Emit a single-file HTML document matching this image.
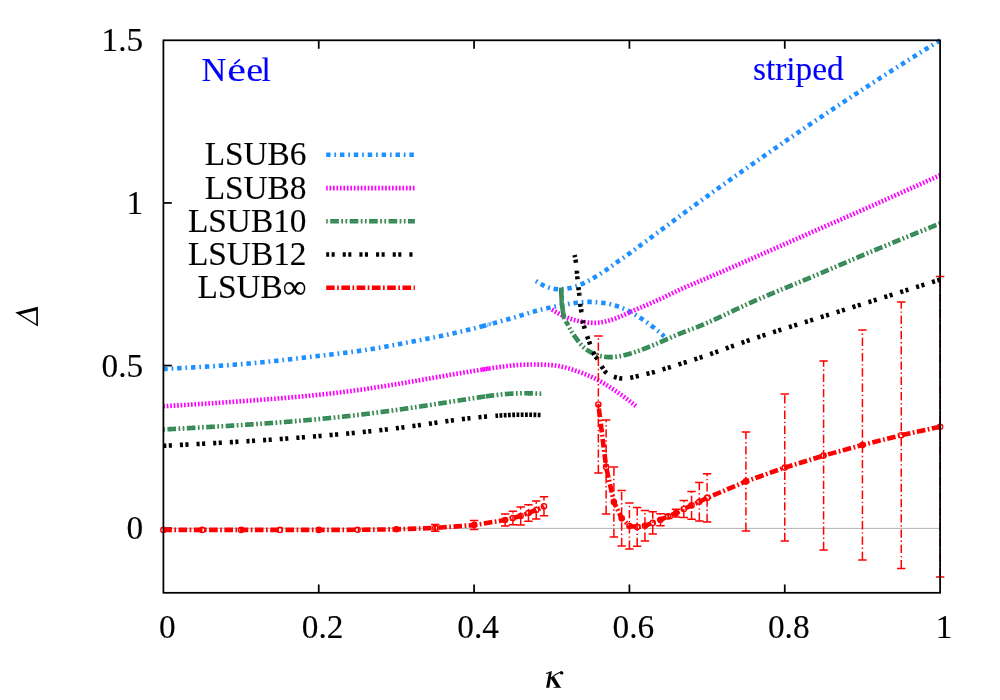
<!DOCTYPE html>
<html><head><meta charset="utf-8"><title>plot</title>
<style>
html,body{margin:0;padding:0;background:#fff;}
body{width:1000px;height:700px;overflow:hidden;font-family:"Liberation Serif",serif;}
svg{display:block;will-change:transform;}
.t{font-family:"Liberation Serif",serif;font-size:33.33px;stroke:currentColor;stroke-width:0.12px;}
.b{fill:#0000ff;color:#0000ff;}
</style></head><body>
<svg width="1000" height="700" viewBox="0 0 1000 700">
<rect width="1000" height="700" fill="#fff"/>
<line x1="163.4" y1="528.4" x2="940.1" y2="528.4" stroke="#a0a0a0" stroke-width="0.8"/>
<path d="M318.74 592.80 v-8.4 M318.74 40.30 v8.4" stroke="#000" stroke-width="1.75"/>
<path d="M474.08 592.80 v-8.4 M474.08 40.30 v8.4" stroke="#000" stroke-width="1.75"/>
<path d="M629.42 592.80 v-8.4 M629.42 40.30 v8.4" stroke="#000" stroke-width="1.75"/>
<path d="M784.76 592.80 v-8.4 M784.76 40.30 v8.4" stroke="#000" stroke-width="1.75"/>
<path d="M163.40 528.20 h8.4" stroke="#000" stroke-width="1.75"/>
<path d="M163.40 365.57 h8.4" stroke="#000" stroke-width="1.75"/>
<path d="M163.40 202.93 h8.4" stroke="#000" stroke-width="1.75"/>
<path d="M163.40 369.00 L163.83 368.98 L164.26 368.95 L164.69 368.93 L165.12 368.91 L165.55 368.89 L165.98 368.86 L166.41 368.84 L166.85 368.82 L167.28 368.80 L167.71 368.77 L168.14 368.75 L168.57 368.73 L169.00 368.71 L169.43 368.68 L169.86 368.66 L170.29 368.64 L170.72 368.61 L171.15 368.59 L171.58 368.57 L172.01 368.55 L172.44 368.52 L172.88 368.50 L173.31 368.48 L173.74 368.45 L174.17 368.43 L174.60 368.41 L175.03 368.39 L175.46 368.36 L175.89 368.34 L176.32 368.32 L176.75 368.29 L177.18 368.27 L177.61 368.25 L178.04 368.22 L178.47 368.20 L178.90 368.18 L179.34 368.15 L179.77 368.13 L180.20 368.11 L180.63 368.09 L181.06 368.06 L181.49 368.04 L181.92 368.02 L182.35 367.99 L182.78 367.97 L183.21 367.95 L183.64 367.92 L184.07 367.90 L184.50 367.87 L184.93 367.85 L185.36 367.83 L185.79 367.80 L186.23 367.78 L186.66 367.76 L187.09 367.73 L187.52 367.71 L187.95 367.68 L188.38 367.66 L188.81 367.64 L189.24 367.61 L189.67 367.59 L190.10 367.56 L190.53 367.54 L190.96 367.52 L191.39 367.49 L191.82 367.47 L192.25 367.44 L192.68 367.42 L193.11 367.39 L193.54 367.37 L193.98 367.35 L194.41 367.32 L194.84 367.30 L195.27 367.27 L195.70 367.25 L196.13 367.22 L196.56 367.20 L196.99 367.17 L197.42 367.15 L197.85 367.12 L198.28 367.10 L198.71 367.07 L199.14 367.05 L199.57 367.02 L200.00 367.00 L200.43 366.97 L200.86 366.95 L201.29 366.92 L201.72 366.89 L202.15 366.87 L202.58 366.84 L203.02 366.82 L203.45 366.79 L203.88 366.77 L204.31 366.74 L204.74 366.71 L205.17 366.69 L205.60 366.66 L206.03 366.64 L206.46 366.61 L206.89 366.58 L207.32 366.56 L207.75 366.53 L208.18 366.50 L208.61 366.48 L209.04 366.45 L209.47 366.42 L209.90 366.40 L210.33 366.37 L210.76 366.34 L211.19 366.31 L211.62 366.29 L212.05 366.26 L212.48 366.23 L212.91 366.20 L213.34 366.18 L213.77 366.15 L214.20 366.12 L214.63 366.09 L215.06 366.06 L215.49 366.04 L215.92 366.01 L216.35 365.98 L216.78 365.95 L217.22 365.92 L217.65 365.89 L218.08 365.87 L218.51 365.84 L218.94 365.81 L219.37 365.78 L219.80 365.75 L220.23 365.72 L220.66 365.69 L221.09 365.66 L221.52 365.63 L221.95 365.60 L222.38 365.57 L222.81 365.54 L223.24 365.51 L223.67 365.48 L224.10 365.45 L224.53 365.42 L224.96 365.39 L225.39 365.36 L225.82 365.33 L226.25 365.30 L226.68 365.27 L227.11 365.24 L227.54 365.21 L227.97 365.18 L228.40 365.15 L228.83 365.12 L229.26 365.09 L229.69 365.05 L230.12 365.02 L230.55 364.99 L230.98 364.96 L231.41 364.93 L231.84 364.90 L232.27 364.86 L232.70 364.83 L233.12 364.80 L233.55 364.77 L233.98 364.73 L234.41 364.70 L234.84 364.67 L235.27 364.63 L235.70 364.60 L236.13 364.57 L236.56 364.54 L236.99 364.50 L237.42 364.47 L237.85 364.43 L238.28 364.40 L238.71 364.37 L239.14 364.33 L239.57 364.30 L240.00 364.26 L240.43 364.23 L240.86 364.19 L241.29 364.16 L241.72 364.12 L242.15 364.09 L242.58 364.05 L243.01 364.02 L243.44 363.98 L243.87 363.95 L244.30 363.91 L244.73 363.88 L245.15 363.84 L245.58 363.80 L246.01 363.77 L246.44 363.73 L246.87 363.69 L247.30 363.66 L247.73 363.62 L248.16 363.58 L248.59 363.55 L249.02 363.51 L249.45 363.47 L249.88 363.43 L250.31 363.40 L250.74 363.36 L251.17 363.32 L251.60 363.28 L252.02 363.24 L252.45 363.20 L252.88 363.17 L253.31 363.13 L253.74 363.09 L254.17 363.05 L254.60 363.01 L255.03 362.97 L255.46 362.93 L255.89 362.89 L256.32 362.85 L256.75 362.81 L257.17 362.77 L257.60 362.73 L258.03 362.69 L258.46 362.65 L258.89 362.61 L259.32 362.57 L259.75 362.52 L260.18 362.48 L260.61 362.44 L261.04 362.40 L261.46 362.36 L261.89 362.32 L262.32 362.27 L262.75 362.23 L263.18 362.19 L263.61 362.15 L264.04 362.10 L264.47 362.06 L264.90 362.02 L265.32 361.97 L265.75 361.93 L266.18 361.89 L266.61 361.84 L267.04 361.80 L267.47 361.75 L267.90 361.71 L268.33 361.66 L268.75 361.62 L269.18 361.58 L269.61 361.53 L270.04 361.49 L270.47 361.44 L270.90 361.40 L271.33 361.35 L271.76 361.31 L272.18 361.26 L272.61 361.21 L273.04 361.17 L273.47 361.12 L273.90 361.08 L274.33 361.03 L274.76 360.98 L275.18 360.94 L275.61 360.89 L276.04 360.84 L276.47 360.80 L276.90 360.75 L277.33 360.70 L277.76 360.66 L278.18 360.61 L278.61 360.56 L279.04 360.51 L279.47 360.47 L279.90 360.42 L280.33 360.37 L280.75 360.32 L281.18 360.28 L281.61 360.23 L282.04 360.18 L282.47 360.13 L282.90 360.08 L283.32 360.04 L283.75 359.99 L284.18 359.94 L284.61 359.89 L285.04 359.84 L285.47 359.79 L285.89 359.75 L286.32 359.70 L286.75 359.65 L287.18 359.60 L287.61 359.55 L288.04 359.50 L288.46 359.45 L288.89 359.40 L289.32 359.35 L289.75 359.30 L290.18 359.25 L290.61 359.20 L291.03 359.16 L291.46 359.11 L291.89 359.06 L292.32 359.01 L292.75 358.96 L293.18 358.91 L293.60 358.86 L294.03 358.81 L294.46 358.76 L294.89 358.71 L295.32 358.66 L295.75 358.61 L296.17 358.56 L296.60 358.51 L297.03 358.46 L297.46 358.41 L297.89 358.36 L298.31 358.31 L298.74 358.26 L299.17 358.21 L299.60 358.16 L300.03 358.11 L300.46 358.06 L300.88 358.00 L301.31 357.95 L301.74 357.90 L302.17 357.85 L302.60 357.80 L303.03 357.75 L303.45 357.70 L303.88 357.65 L304.31 357.60 L304.74 357.55 L305.17 357.50 L305.59 357.45 L306.02 357.40 L306.45 357.35 L306.88 357.30 L307.31 357.25 L307.74 357.20 L308.16 357.15 L308.59 357.10 L309.02 357.05 L309.45 357.00 L309.88 356.95 L310.30 356.89 L310.73 356.84 L311.16 356.79 L311.59 356.74 L312.02 356.69 L312.45 356.64 L312.87 356.59 L313.30 356.54 L313.73 356.49 L314.16 356.44 L314.59 356.39 L315.02 356.34 L315.44 356.29 L315.87 356.24 L316.30 356.19 L316.73 356.14 L317.16 356.09 L317.58 356.04 L318.01 355.99 L318.44 355.94 L318.87 355.89 L319.30 355.84 L319.73 355.79 L320.15 355.74 L320.58 355.69 L321.01 355.64 L321.44 355.59 L321.87 355.54 L322.30 355.49 L322.72 355.45 L323.15 355.40 L323.58 355.35 L324.01 355.30 L324.44 355.25 L324.87 355.20 L325.29 355.15 L325.72 355.10 L326.15 355.05 L326.58 355.00 L327.01 354.95 L327.44 354.90 L327.86 354.85 L328.29 354.80 L328.72 354.75 L329.15 354.70 L329.58 354.65 L330.01 354.60 L330.43 354.55 L330.86 354.50 L331.29 354.45 L331.72 354.40 L332.15 354.35 L332.58 354.30 L333.00 354.25 L333.43 354.20 L333.86 354.15 L334.29 354.10 L334.72 354.05 L335.14 354.00 L335.57 353.95 L336.00 353.90 L336.43 353.85 L336.86 353.80 L337.29 353.75 L337.71 353.70 L338.14 353.65 L338.57 353.59 L339.00 353.54 L339.43 353.49 L339.85 353.44 L340.28 353.39 L340.71 353.34 L341.14 353.28 L341.57 353.23 L341.99 353.18 L342.42 353.13 L342.85 353.07 L343.28 353.02 L343.70 352.97 L344.13 352.92 L344.56 352.86 L344.99 352.81 L345.42 352.75 L345.84 352.70 L346.27 352.65 L346.70 352.59 L347.13 352.54 L347.55 352.48 L347.98 352.43 L348.41 352.37 L348.84 352.32 L349.26 352.26 L349.69 352.21 L350.12 352.15 L350.55 352.10 L350.97 352.04 L351.40 351.99 L351.83 351.93 L352.26 351.87 L352.68 351.82 L353.11 351.76 L353.54 351.70 L353.97 351.64 L354.39 351.58 L354.82 351.53 L355.25 351.47 L355.67 351.41 L356.10 351.35 L356.53 351.29 L356.95 351.23 L357.38 351.17 L357.81 351.11 L358.24 351.05 L358.66 350.99 L359.09 350.93 L359.52 350.87 L359.94 350.81 L360.37 350.75 L360.80 350.68 L361.22 350.62 L361.65 350.56 L362.07 350.50 L362.50 350.43 L362.93 350.37 L363.35 350.31 L363.78 350.24 L364.21 350.18 L364.63 350.11 L365.06 350.05 L365.49 349.98 L365.91 349.92 L366.34 349.85 L366.76 349.79 L367.19 349.72 L367.62 349.66 L368.04 349.59 L368.47 349.52 L368.89 349.45 L369.32 349.39 L369.74 349.32 L370.17 349.25 L370.60 349.18 L371.02 349.12 L371.45 349.05 L371.87 348.98 L372.30 348.91 L372.72 348.84 L373.15 348.77 L373.57 348.70 L374.00 348.63 L374.43 348.56 L374.85 348.49 L375.28 348.42 L375.70 348.35 L376.13 348.27 L376.55 348.20 L376.98 348.13 L377.40 348.06 L377.83 347.99 L378.25 347.91 L378.68 347.84 L379.10 347.77 L379.53 347.70 L379.95 347.62 L380.38 347.55 L380.80 347.47 L381.23 347.40 L381.65 347.33 L382.08 347.25 L382.50 347.18 L382.92 347.10 L383.35 347.03 L383.77 346.95 L384.20 346.88 L384.62 346.80 L385.05 346.73 L385.47 346.65 L385.90 346.57 L386.32 346.50 L386.74 346.42 L387.17 346.34 L387.59 346.27 L388.02 346.19 L388.44 346.11 L388.86 346.03 L389.29 345.96 L389.71 345.88 L390.14 345.80 L390.56 345.72 L390.98 345.64 L391.41 345.56 L391.83 345.49 L392.26 345.41 L392.68 345.33 L393.10 345.25 L393.53 345.17 L393.95 345.09 L394.38 345.01 L394.80 344.93 L395.22 344.85 L395.65 344.77 L396.07 344.69 L396.49 344.61 L396.92 344.53 L397.34 344.45 L397.76 344.37 L398.19 344.29 L398.61 344.21 L399.03 344.13 L399.46 344.05 L399.88 343.97 L400.31 343.89 L400.73 343.81 L401.15 343.73 L401.58 343.64 L402.00 343.56 L402.42 343.48 L402.85 343.40 L403.27 343.32 L403.69 343.24 L404.12 343.16 L404.54 343.08 L404.96 343.00 L405.39 342.91 L405.81 342.83 L406.23 342.75 L406.66 342.67 L407.08 342.59 L407.50 342.51 L407.93 342.43 L408.35 342.34 L408.77 342.26 L409.20 342.18 L409.62 342.10 L410.04 342.02 L410.47 341.94 L410.89 341.86 L411.31 341.78 L411.74 341.69 L412.16 341.61 L412.58 341.53 L413.01 341.45 L413.43 341.37 L413.85 341.29 L414.28 341.21 L414.70 341.13 L415.12 341.05 L415.55 340.97 L415.97 340.89 L416.39 340.81 L416.82 340.73 L417.24 340.64 L417.67 340.56 L418.09 340.48 L418.51 340.40 L418.94 340.32 L419.36 340.24 L419.78 340.16 L420.21 340.08 L420.63 340.00 L421.05 339.92 L421.48 339.84 L421.90 339.76 L422.32 339.68 L422.75 339.60 L423.17 339.52 L423.59 339.44 L424.02 339.36 L424.44 339.28 L424.86 339.19 L425.29 339.11 L425.71 339.03 L426.14 338.95 L426.56 338.87 L426.98 338.79 L427.41 338.71 L427.83 338.63 L428.25 338.54 L428.68 338.46 L429.10 338.38 L429.52 338.30 L429.95 338.22 L430.37 338.13 L430.79 338.05 L431.21 337.97 L431.64 337.89 L432.06 337.80 L432.48 337.72 L432.91 337.64 L433.33 337.55 L433.75 337.47 L434.18 337.39 L434.60 337.30 L435.02 337.22 L435.44 337.14 L435.87 337.05 L436.29 336.97 L436.71 336.88 L437.13 336.80 L437.56 336.71 L437.98 336.63 L438.40 336.54 L438.82 336.45 L439.25 336.37 L439.67 336.28 L440.09 336.19 L440.51 336.11 L440.94 336.02 L441.36 335.93 L441.78 335.85 L442.20 335.76 L442.62 335.67 L443.05 335.58 L443.47 335.49 L443.89 335.40 L444.31 335.31 L444.73 335.22 L445.16 335.13 L445.58 335.04 L446.00 334.95 L446.42 334.86 L446.84 334.77 L447.26 334.68 L447.68 334.59 L448.10 334.50 L448.53 334.41 L448.95 334.31 L449.37 334.22 L449.79 334.13 L450.21 334.04 L450.63 333.94 L451.05 333.85 L451.47 333.75 L451.89 333.66 L452.31 333.57 L452.73 333.47 L453.16 333.38 L453.58 333.28 L454.00 333.19 L454.42 333.09 L454.84 333.00 L455.26 332.90 L455.68 332.80 L456.10 332.71 L456.52 332.61 L456.94 332.51 L457.36 332.42 L457.78 332.32 L458.20 332.22 L458.62 332.12 L459.04 332.03 L459.46 331.93 L459.88 331.83 L460.30 331.73 L460.72 331.63 L461.14 331.53 L461.56 331.43 L461.98 331.33 L462.39 331.23 L462.81 331.13 L463.23 331.03 L463.65 330.93 L464.07 330.83 L464.49 330.73 L464.91 330.63 L465.33 330.53 L465.75 330.43 L466.17 330.33 L466.59 330.22 L467.00 330.12 L467.42 330.02 L467.84 329.92 L468.26 329.81 L468.68 329.71 L469.10 329.61 L469.52 329.50 L469.93 329.40 L470.35 329.30 L470.77 329.19 L471.19 329.09 L471.61 328.99 L472.03 328.88 L472.44 328.78 L472.86 328.67 L473.28 328.57 L473.70 328.46 L474.12 328.36 L474.54 328.25 L474.95 328.14 L475.37 328.04 L475.79 327.93 L476.21 327.83 L476.62 327.72 L477.04 327.61 L477.46 327.51 L477.88 327.40 L478.30 327.29 L478.71 327.19 L479.13 327.08 L479.55 326.97 L479.97 326.86 L480.38 326.76 L480.80 326.65 L481.22 326.54 L481.63 326.43 L482.05 326.32 L482.47 326.21 L482.89 326.11 L483.30 326.00 L483.72 325.89 L484.14 325.78 L484.55 325.67 L484.97 325.56 L485.39 325.45 L485.81 325.34" fill="none" stroke="#1e90ff" stroke-width="4.60" stroke-dasharray="4.467 3.867 1.689 3.867" stroke-dashoffset="0.15"/>
<path d="M482.89 326.11 L483.30 326.00 L483.72 325.89 L484.14 325.78 L484.55 325.67 L484.97 325.56 L485.39 325.45 L485.81 325.34 L486.22 325.23" fill="none" stroke="#1e90ff" stroke-width="4.60"/>
<path d="M488.39 322.59 L487.39 326.79" stroke="#1e90ff" stroke-width="0.8"/>
<path d="M490.06 322.15 L489.06 326.35" stroke="#1e90ff" stroke-width="0.8"/>
<path d="M491.31 321.81 L490.31 326.01" stroke="#1e90ff" stroke-width="0.8"/>
<path d="M492.89 323.45 L493.30 323.34 L493.72 323.23 L494.14 323.11 L494.55 323.00 L494.97 322.89 L495.38 322.78 L495.80 322.66 L496.22 322.55 L496.63 322.44 L497.05 322.32 L497.46 322.21 L497.88 322.09 L498.30 321.98 L498.71 321.87 L499.13 321.75 L499.54 321.64 L499.96 321.52 L500.37 321.41 L500.79 321.29 L501.20 321.18 L501.62 321.06 L502.03 320.94 L502.45 320.83 L502.86 320.71 L503.28 320.59 L503.69 320.48 L504.11 320.36 L504.52 320.24 L504.94 320.13 L505.35 320.01 L505.77 319.89 L506.18 319.77 L506.60 319.66 L507.01 319.54 L507.43 319.42 L507.84 319.30 L508.26 319.18 L508.67 319.06 L509.08 318.94 L509.50 318.82 L509.91 318.70 L510.33 318.58 L510.74 318.46 L511.16 318.34 L511.57 318.22 L511.98 318.10 L512.40 317.98 L512.81 317.86 L513.22 317.74 L513.64 317.61 L514.05 317.49 L514.46 317.37 L514.88 317.25 L515.29 317.12 L515.70 317.00 L516.12 316.88 L516.53 316.75 L516.94 316.63 L517.36 316.50 L517.77 316.38 L518.18 316.25 L518.59 316.13 L519.01 316.00 L519.42 315.88 L519.83 315.75 L520.24 315.63 L520.66 315.50 L521.07 315.37 L521.48 315.25 L521.89 315.12 L522.30 314.99 L522.72 314.86 L523.13 314.74 L523.54 314.61 L523.95 314.48 L524.36 314.35 L524.78 314.23 L525.19 314.10 L525.60 313.97 L526.01 313.85 L526.42 313.72 L526.84 313.59 L527.25 313.47 L527.66 313.34 L528.07 313.22 L528.49 313.09 L528.90 312.97 L529.31 312.84 L529.72 312.72 L530.14 312.60 L530.55 312.48 L530.96 312.35 L531.38 312.23 L531.79 312.11 L532.21 311.99 L532.62 311.87 L533.03 311.76 L533.45 311.64 L533.86 311.52 L534.28 311.41 L534.70 311.29 L535.11 311.18 L535.53 311.06 L535.94 310.95 L536.36 310.84 L536.78 310.73 L537.19 310.62 L537.61 310.51 L538.03 310.40 L538.44 310.30 L538.86 310.19 L539.28 310.08 L539.70 309.98 L540.12 309.87 L540.54 309.77 L540.95 309.67 L541.37 309.57 L541.79 309.46 L542.21 309.36 L542.63 309.26 L543.05 309.16 L543.47 309.06 L543.89 308.97 L544.31 308.87 L544.73 308.77 L545.15 308.67 L545.57 308.58 L545.99 308.48 L546.41 308.39 L546.83 308.29 L547.25 308.20 L547.67 308.10 L548.10 308.01 L548.52 307.92 L548.94 307.83 L549.36 307.73 L549.78 307.64 L550.20 307.55 L550.62 307.46 L551.04 307.37 L551.47 307.28 L551.89 307.19 L552.31 307.10 L552.73 307.01 L553.15 306.93 L553.58 306.84 L554.00 306.75 L554.42 306.66 L554.84 306.58 L555.27 306.49 L555.69 306.40 L556.11 306.32 L556.53 306.23 L556.96 306.15 L557.38 306.07 L557.80 305.98 L558.22 305.90 L558.65 305.81 L559.07 305.73 L559.49 305.65 L559.92 305.57 L560.34 305.49 L560.76 305.40 L561.19 305.32 L561.61 305.24 L562.03 305.16 L562.46 305.08 L562.88 305.00 L563.30 304.92 L563.73 304.85 L564.15 304.77 L564.58 304.69 L565.00 304.61 L565.42 304.54 L565.85 304.46 L566.27 304.38 L566.70 304.31 L567.12 304.23 L567.55 304.16 L567.97 304.09 L568.40 304.01 L568.82 303.94 L569.25 303.87 L569.67 303.80 L570.10 303.73 L570.52 303.66 L570.95 303.59 L571.37 303.53 L571.80 303.46 L572.23 303.39 L572.65 303.33 L573.08 303.27 L573.51 303.20 L573.93 303.14 L574.36 303.08 L574.79 303.02 L575.22 302.96 L575.64 302.91 L576.07 302.85 L576.50 302.80 L576.93 302.74 L577.36 302.69 L577.78 302.64 L578.21 302.59 L578.64 302.54 L579.07 302.50 L579.50 302.45 L579.93 302.41 L580.36 302.37 L580.79 302.33 L581.22 302.29 L581.65 302.25 L582.08 302.21 L582.51 302.18 L582.94 302.15 L583.37 302.12 L583.80 302.09 L584.23 302.06 L584.66 302.04 L585.09 302.02 L585.52 301.99 L585.95 301.98 L586.38 301.96 L586.82 301.94 L587.25 301.93 L587.68 301.92 L588.11 301.91 L588.54 301.91 L588.97 301.90 L589.40 301.90 L589.83 301.90 L590.26 301.90 L590.69 301.91 L591.12 301.92 L591.56 301.93 L591.99 301.94 L592.42 301.95 L592.85 301.97 L593.28 301.98 L593.71 302.00 L594.14 302.03 L594.57 302.05 L595.00 302.08 L595.43 302.11 L595.86 302.14 L596.29 302.17 L596.72 302.20 L597.15 302.24 L597.58 302.28 L598.01 302.32 L598.44 302.36 L598.87 302.40 L599.30 302.45 L599.73 302.50 L600.16 302.55 L600.59 302.60 L601.02 302.65 L601.44 302.70 L601.87 302.76 L602.30 302.82 L602.73 302.88 L603.16 302.94 L603.59 303.00 L604.01 303.06 L604.44 303.13 L604.87 303.20 L605.29 303.27 L605.72 303.34 L606.15 303.41 L606.57 303.49 L607.00 303.56 L607.42 303.64 L607.85 303.72 L608.27 303.81 L608.69 303.89 L609.12 303.98 L609.54 304.07 L609.96 304.16 L610.38 304.25 L610.80 304.35 L611.22 304.45 L611.64 304.55 L612.06 304.65 L612.48 304.75 L612.90 304.86 L613.32 304.97 L613.73 305.08 L614.15 305.20 L614.56 305.32 L614.98 305.44 L615.39 305.56 L615.80 305.68 L616.21 305.81 L616.62 305.94 L617.03 306.08 L617.44 306.21 L617.85 306.35 L618.26 306.50 L618.66 306.64 L619.07 306.79 L619.47 306.94 L619.87 307.09 L620.28 307.25 L620.68 307.40 L621.08 307.56 L621.48 307.73 L621.88 307.89 L622.28 308.06 L622.67 308.23 L623.07 308.40 L623.46 308.57 L623.86 308.75 L624.25 308.92 L624.65 309.10 L625.04 309.29 L625.43 309.47 L625.82 309.65 L626.21 309.84 L626.60 310.03 L626.98 310.22 L627.37 310.41 L627.76 310.61 L628.14 310.80 L628.53 311.00 L628.91 311.20 L629.29 311.40 L629.67 311.60 L630.06 311.80 L630.44 312.00 L630.82 312.21 L631.20 312.42 L631.57 312.62 L631.95 312.83 L632.33 313.04 L632.70 313.25 L633.08 313.47 L633.45 313.68 L633.83 313.90 L634.20 314.11 L634.57 314.33 L634.94 314.55 L635.31 314.77 L635.68 314.99 L636.05 315.21 L636.42 315.44 L636.79 315.66 L637.16 315.89 L637.52 316.11 L637.89 316.34 L638.26 316.57 L638.62 316.80 L638.98 317.03 L639.35 317.26 L639.71 317.50 L640.07 317.73 L640.43 317.97 L640.80 318.20 L641.16 318.44 L641.52 318.68 L641.87 318.91 L642.23 319.15 L642.59 319.39 L642.95 319.64 L643.31 319.88 L643.66 320.12 L644.02 320.36 L644.37 320.61 L644.73 320.86 L645.08 321.10 L645.43 321.35 L645.79 321.60 L646.14 321.85 L646.49 322.10 L646.84 322.35 L647.19 322.60 L647.54 322.85 L647.89 323.11 L648.24 323.36 L648.58 323.62 L648.93 323.87 L649.28 324.13 L649.62 324.39 L649.97 324.65 L650.31 324.91 L650.66 325.17 L651.00 325.43 L651.34 325.69 L651.68 325.95 L652.02 326.22 L652.36 326.48 L652.70 326.75 L653.04 327.01 L653.38 327.28 L653.72 327.55 L654.06 327.82 L654.39 328.09 L654.73 328.36 L655.06 328.63 L655.40 328.90 L655.73 329.17 L656.07 329.44 L656.40 329.72 L656.73 329.99 L657.06 330.27 L657.40 330.54 L657.73 330.82 L658.06 331.09 L658.39 331.37 L658.72 331.65 L659.05 331.92 L659.38 332.20 L659.71 332.48 L660.04 332.76 L660.37 333.04 L660.70 333.32 L661.02 333.60 L661.35 333.88 L661.68 334.16 L662.01 334.44 L662.34 334.72 L662.66 335.00 L662.99 335.28 L663.32 335.56 L663.65 335.84 L663.97 336.12 L664.30 336.40" fill="none" stroke="#1e90ff" stroke-width="4.60" stroke-dasharray="4.467 3.867 1.689 3.867" stroke-dashoffset="0.15"/>
<path d="M940.10 40.30 L939.83 40.47 L939.55 40.64 L939.28 40.81 L939.01 40.98 L938.73 41.15 L938.46 41.32 L938.19 41.49 L937.91 41.66 L937.64 41.83 L937.37 42.00 L937.09 42.17 L936.82 42.34 L936.55 42.51 L936.27 42.68 L936.00 42.85 L935.73 43.02 L935.45 43.19 L935.18 43.36 L934.91 43.53 L934.63 43.70 L934.36 43.87 L934.09 44.04 L933.81 44.21 L933.54 44.38 L933.27 44.55 L932.99 44.72 L932.72 44.89 L932.45 45.06 L932.17 45.23 L931.90 45.40 L931.63 45.57 L931.35 45.74 L931.08 45.91 L930.81 46.08 L930.53 46.25 L930.26 46.42 L929.99 46.59 L929.71 46.76 L929.44 46.93 L929.17 47.10 L928.89 47.27 L928.62 47.44 L928.35 47.61 L928.07 47.78 L927.80 47.95 L927.53 48.12 L927.26 48.29 L926.98 48.46 L926.71 48.63 L926.44 48.80 L926.16 48.97 L925.89 49.14 L925.62 49.31 L925.34 49.48 L925.07 49.65 L924.80 49.82 L924.52 50.00 L924.25 50.17 L923.98 50.34 L923.70 50.51 L923.43 50.68 L923.16 50.85 L922.89 51.02 L922.61 51.19 L922.34 51.36 L922.07 51.53 L921.79 51.70 L921.52 51.87 L921.25 52.04 L920.97 52.21 L920.70 52.38 L920.43 52.55 L920.16 52.72 L919.88 52.89 L919.61 53.06 L919.34 53.23 L919.06 53.40 L918.79 53.58 L918.52 53.75 L918.24 53.92 L917.97 54.09 L917.70 54.26 L917.43 54.43 L917.15 54.60 L916.88 54.77 L916.61 54.94 L916.33 55.11 L916.06 55.28 L915.79 55.45 L915.52 55.62 L915.24 55.80 L914.97 55.97 L914.70 56.14 L914.43 56.31 L914.15 56.48 L913.88 56.65 L913.61 56.82 L913.33 56.99 L913.06 57.16 L912.79 57.33 L912.52 57.51 L912.24 57.68 L911.97 57.85 L911.70 58.02 L911.43 58.19 L911.15 58.36 L910.88 58.53 L910.61 58.70 L910.34 58.88 L910.06 59.05 L909.79 59.22 L909.52 59.39 L909.25 59.56 L908.97 59.73 L908.70 59.90 L908.43 60.07 L908.16 60.25 L907.88 60.42 L907.61 60.59 L907.34 60.76 L907.07 60.93 L906.79 61.10 L906.52 61.28 L906.25 61.45 L905.98 61.62 L905.71 61.79 L905.43 61.96 L905.16 62.13 L904.89 62.31 L904.62 62.48 L904.35 62.65 L904.07 62.82 L903.80 62.99 L903.53 63.17 L903.26 63.34 L902.98 63.51 L902.71 63.68 L902.44 63.85 L902.17 64.03 L901.90 64.20 L901.62 64.37 L901.35 64.54 L901.08 64.71 L900.81 64.89 L900.54 65.06 L900.27 65.23 L899.99 65.40 L899.72 65.58 L899.45 65.75 L899.18 65.92 L898.91 66.09 L898.63 66.27 L898.36 66.44 L898.09 66.61 L897.82 66.78 L897.55 66.96 L897.28 67.13 L897.00 67.30 L896.73 67.48 L896.46 67.65 L896.19 67.82 L895.92 67.99 L895.65 68.17 L895.38 68.34 L895.10 68.51 L894.83 68.69 L894.56 68.86 L894.29 69.03 L894.02 69.20 L893.75 69.38 L893.48 69.55 L893.20 69.72 L892.93 69.90 L892.66 70.07 L892.39 70.24 L892.12 70.42 L891.85 70.59 L891.58 70.76 L891.31 70.94 L891.03 71.11 L890.76 71.28 L890.49 71.46 L890.22 71.63 L889.95 71.80 L889.68 71.98 L889.41 72.15 L889.14 72.32 L888.87 72.50 L888.59 72.67 L888.32 72.85 L888.05 73.02 L887.78 73.19 L887.51 73.37 L887.24 73.54 L886.97 73.71 L886.70 73.89 L886.43 74.06 L886.16 74.24 L885.89 74.41 L885.62 74.58 L885.34 74.76 L885.07 74.93 L884.80 75.11 L884.53 75.28 L884.26 75.45 L883.99 75.63 L883.72 75.80 L883.45 75.98 L883.18 76.15 L882.91 76.33 L882.64 76.50 L882.37 76.67 L882.10 76.85 L881.83 77.02 L881.56 77.20 L881.28 77.37 L881.01 77.55 L880.74 77.72 L880.47 77.90 L880.20 78.07 L879.93 78.24 L879.66 78.42 L879.39 78.59 L879.12 78.77 L878.85 78.94 L878.58 79.12 L878.31 79.29 L878.04 79.47 L877.77 79.64 L877.50 79.82 L877.23 79.99 L876.96 80.17 L876.69 80.34 L876.42 80.52 L876.15 80.69 L875.88 80.87 L875.61 81.04 L875.34 81.22 L875.07 81.39 L874.80 81.57 L874.53 81.74 L874.26 81.92 L873.99 82.09 L873.72 82.27 L873.45 82.44 L873.18 82.62 L872.91 82.79 L872.64 82.97 L872.37 83.14 L872.10 83.32 L871.83 83.49 L871.56 83.67 L871.29 83.84 L871.02 84.02 L870.75 84.19 L870.48 84.37 L870.21 84.54 L869.94 84.72 L869.67 84.90 L869.40 85.07 L869.13 85.25 L868.86 85.42 L868.59 85.60 L868.32 85.77 L868.05 85.95 L867.78 86.12 L867.51 86.30 L867.24 86.48 L866.97 86.65 L866.70 86.83 L866.43 87.00 L866.16 87.18 L865.89 87.35 L865.62 87.53 L865.35 87.71 L865.08 87.88 L864.81 88.06 L864.54 88.23 L864.27 88.41 L864.00 88.58 L863.73 88.76 L863.46 88.94 L863.19 89.11 L862.93 89.29 L862.66 89.46 L862.39 89.64 L862.12 89.82 L861.85 89.99 L861.58 90.17 L861.31 90.34 L861.04 90.52 L860.77 90.70 L860.50 90.87 L860.23 91.05 L859.96 91.23 L859.69 91.40 L859.42 91.58 L859.15 91.75 L858.88 91.93 L858.61 92.11 L858.35 92.28 L858.08 92.46 L857.81 92.64 L857.54 92.81 L857.27 92.99 L857.00 93.16 L856.73 93.34 L856.46 93.52 L856.19 93.69 L855.92 93.87 L855.65 94.05 L855.38 94.22 L855.11 94.40 L854.85 94.58 L854.58 94.75 L854.31 94.93 L854.04 95.11 L853.77 95.28 L853.50 95.46 L853.23 95.64 L852.96 95.81 L852.69 95.99 L852.42 96.17 L852.15 96.34 L851.89 96.52 L851.62 96.70 L851.35 96.87 L851.08 97.05 L850.81 97.23 L850.54 97.40 L850.27 97.58 L850.00 97.76 L849.73 97.93 L849.47 98.11 L849.20 98.29 L848.93 98.47 L848.66 98.64 L848.39 98.82 L848.12 99.00 L847.85 99.17 L847.58 99.35 L847.31 99.53 L847.05 99.70 L846.78 99.88 L846.51 100.06 L846.24 100.24 L845.97 100.41 L845.70 100.59 L845.43 100.77 L845.16 100.95 L844.90 101.12 L844.63 101.30 L844.36 101.48 L844.09 101.65 L843.82 101.83 L843.55 102.01 L843.28 102.19 L843.02 102.36 L842.75 102.54 L842.48 102.72 L842.21 102.90 L841.94 103.07 L841.67 103.25 L841.40 103.43 L841.14 103.61 L840.87 103.78 L840.60 103.96 L840.33 104.14 L840.06 104.32 L839.79 104.49 L839.53 104.67 L839.26 104.85 L838.99 105.03 L838.72 105.21 L838.45 105.38 L838.18 105.56 L837.92 105.74 L837.65 105.92 L837.38 106.09 L837.11 106.27 L836.84 106.45 L836.57 106.63 L836.31 106.81 L836.04 106.98 L835.77 107.16 L835.50 107.34 L835.23 107.52 L834.97 107.70 L834.70 107.87 L834.43 108.05 L834.16 108.23 L833.89 108.41 L833.62 108.59 L833.36 108.77 L833.09 108.94 L832.82 109.12 L832.55 109.30 L832.28 109.48 L832.02 109.66 L831.75 109.83 L831.48 110.01 L831.21 110.19 L830.94 110.37 L830.68 110.55 L830.41 110.73 L830.14 110.91 L829.87 111.08 L829.61 111.26 L829.34 111.44 L829.07 111.62 L828.80 111.80 L828.53 111.98 L828.27 112.15 L828.00 112.33 L827.73 112.51 L827.46 112.69 L827.20 112.87 L826.93 113.05 L826.66 113.23 L826.39 113.41 L826.12 113.58 L825.86 113.76 L825.59 113.94 L825.32 114.12 L825.05 114.30 L824.79 114.48 L824.52 114.66 L824.25 114.84 L823.98 115.02 L823.72 115.19 L823.45 115.37 L823.18 115.55 L822.91 115.73 L822.65 115.91 L822.38 116.09 L822.11 116.27 L821.84 116.45 L821.58 116.63 L821.31 116.81 L821.04 116.99 L820.77 117.16 L820.51 117.34 L820.24 117.52 L819.97 117.70 L819.71 117.88 L819.44 118.06 L819.17 118.24 L818.90 118.42 L818.64 118.60 L818.37 118.78 L818.10 118.96 L817.83 119.14 L817.57 119.32 L817.30 119.50 L817.03 119.68 L816.77 119.86 L816.50 120.04 L816.23 120.22 L815.96 120.40 L815.70 120.57 L815.43 120.75 L815.16 120.93 L814.90 121.11 L814.63 121.29 L814.36 121.47 L814.10 121.65 L813.83 121.83 L813.56 122.01 L813.30 122.19 L813.03 122.37 L812.76 122.55 L812.49 122.73 L812.23 122.91 L811.96 123.09 L811.69 123.27 L811.43 123.45 L811.16 123.63 L810.89 123.81 L810.63 123.99 L810.36 124.17 L810.09 124.35 L809.83 124.53 L809.56 124.71 L809.29 124.89 L809.03 125.07 L808.76 125.26 L808.49 125.44 L808.23 125.62 L807.96 125.80 L807.69 125.98 L807.43 126.16 L807.16 126.34 L806.89 126.52 L806.63 126.70 L806.36 126.88 L806.09 127.06 L805.83 127.24 L805.56 127.42 L805.30 127.60 L805.03 127.78 L804.76 127.96 L804.50 128.14 L804.23 128.32 L803.96 128.51 L803.70 128.69 L803.43 128.87 L803.17 129.05 L802.90 129.23 L802.63 129.41 L802.37 129.59 L802.10 129.77 L801.83 129.95 L801.57 130.13 L801.30 130.31 L801.04 130.50 L800.77 130.68 L800.50 130.86 L800.24 131.04 L799.97 131.22 L799.71 131.40 L799.44 131.58 L799.17 131.76 L798.91 131.94 L798.64 132.13 L798.38 132.31 L798.11 132.49 L797.84 132.67 L797.58 132.85 L797.31 133.03 L797.05 133.21 L796.78 133.40 L796.51 133.58 L796.25 133.76 L795.98 133.94 L795.72 134.12 L795.45 134.30 L795.18 134.48 L794.92 134.67 L794.65 134.85 L794.39 135.03 L794.12 135.21 L793.86 135.39 L793.59 135.57 L793.33 135.76 L793.06 135.94 L792.79 136.12 L792.53 136.30 L792.26 136.48 L792.00 136.67 L791.73 136.85 L791.47 137.03 L791.20 137.21 L790.94 137.39 L790.67 137.58 L790.40 137.76 L790.14 137.94 L789.87 138.12 L789.61 138.30 L789.34 138.49 L789.08 138.67 L788.81 138.85 L788.55 139.03 L788.28 139.21 L788.02 139.40 L787.75 139.58 L787.48 139.76 L787.22 139.94 L786.95 140.13 L786.69 140.31 L786.42 140.49 L786.16 140.67 L785.89 140.86 L785.63 141.04 L785.36 141.22 L785.10 141.40 L784.83 141.58 L784.57 141.77 L784.30 141.95 L784.04 142.13 L783.77 142.31 L783.51 142.50 L783.24 142.68 L782.98 142.86 L782.71 143.05 L782.45 143.23 L782.18 143.41 L781.92 143.59 L781.65 143.78 L781.39 143.96 L781.12 144.14 L780.86 144.32 L780.59 144.51 L780.33 144.69 L780.06 144.87 L779.80 145.06 L779.53 145.24 L779.27 145.42 L779.00 145.60 L778.74 145.79 L778.47 145.97 L778.21 146.15 L777.94 146.34 L777.68 146.52 L777.41 146.70 L777.15 146.89 L776.88 147.07 L776.62 147.25 L776.36 147.44 L776.09 147.62 L775.83 147.80 L775.56 147.98 L775.30 148.17 L775.03 148.35 L774.77 148.53 L774.50 148.72 L774.24 148.90 L773.97 149.08 L773.71 149.27 L773.44 149.45 L773.18 149.63 L772.92 149.82 L772.65 150.00 L772.39 150.18 L772.12 150.37 L771.86 150.55 L771.59 150.73 L771.33 150.92 L771.06 151.10 L770.80 151.29 L770.54 151.47 L770.27 151.65 L770.01 151.84 L769.74 152.02 L769.48 152.20 L769.21 152.39 L768.95 152.57 L768.68 152.75 L768.42 152.94 L768.16 153.12 L767.89 153.30 L767.63 153.49 L767.36 153.67 L767.10 153.86 L766.83 154.04 L766.57 154.22 L766.31 154.41 L766.04 154.59 L765.78 154.77 L765.51 154.96 L765.25 155.14 L764.98 155.33 L764.72 155.51 L764.46 155.69 L764.19 155.88 L763.93 156.06 L763.66 156.25 L763.40 156.43 L763.14 156.61 L762.87 156.80 L762.61 156.98 L762.34 157.17 L762.08 157.35 L761.82 157.53 L761.55 157.72 L761.29 157.90 L761.02 158.09 L760.76 158.27 L760.50 158.45 L760.23 158.64 L759.97 158.82 L759.70 159.01 L759.44 159.19 L759.18 159.38 L758.91 159.56 L758.65 159.74 L758.38 159.93 L758.12 160.11 L757.86 160.30 L757.59 160.48 L757.33 160.67 L757.06 160.85 L756.80 161.03 L756.54 161.22 L756.27 161.40 L756.01 161.59 L755.74 161.77 L755.48 161.96 L755.22 162.14 L754.95 162.32 L754.69 162.51 L754.43 162.69 L754.16 162.88 L753.90 163.06 L753.63 163.25 L753.37 163.43 L753.11 163.62 L752.84 163.80 L752.58 163.99 L752.32 164.17 L752.05 164.35 L751.79 164.54 L751.53 164.72 L751.26 164.91 L751.00 165.09 L750.73 165.28 L750.47 165.46 L750.21 165.65 L749.94 165.83 L749.68 166.02 L749.42 166.20 L749.15 166.39 L748.89 166.57 L748.63 166.76 L748.36 166.94 L748.10 167.13 L747.84 167.31 L747.57 167.50 L747.31 167.68 L747.04 167.86 L746.78 168.05 L746.52 168.23 L746.25 168.42 L745.99 168.60 L745.73 168.79 L745.46 168.97 L745.20 169.16 L744.94 169.34 L744.67 169.53 L744.41 169.72 L744.15 169.90 L743.88 170.09 L743.62 170.27 L743.36 170.46 L743.09 170.64 L742.83 170.83 L742.57 171.01 L742.30 171.20 L742.04 171.38 L741.78 171.57 L741.51 171.75 L741.25 171.94 L740.99 172.12 L740.73 172.31 L740.46 172.49 L740.20 172.68 L739.94 172.86 L739.67 173.05 L739.41 173.24 L739.15 173.42 L738.88 173.61 L738.62 173.79 L738.36 173.98 L738.09 174.16 L737.83 174.35 L737.57 174.53 L737.31 174.72 L737.04 174.90 L736.78 175.09 L736.52 175.28 L736.25 175.46 L735.99 175.65 L735.73 175.83 L735.47 176.02 L735.20 176.20 L734.94 176.39 L734.68 176.58 L734.41 176.76 L734.15 176.95 L733.89 177.13 L733.63 177.32 L733.36 177.51 L733.10 177.69 L732.84 177.88 L732.57 178.06 L732.31 178.25 L732.05 178.44 L731.79 178.62 L731.52 178.81 L731.26 178.99 L731.00 179.18 L730.74 179.37 L730.47 179.55 L730.21 179.74 L729.95 179.92 L729.69 180.11 L729.42 180.30 L729.16 180.48 L728.90 180.67 L728.64 180.85 L728.37 181.04 L728.11 181.23 L727.85 181.41 L727.59 181.60 L727.32 181.79 L727.06 181.97 L726.80 182.16 L726.54 182.35 L726.27 182.53 L726.01 182.72 L725.75 182.91 L725.49 183.09 L725.22 183.28 L724.96 183.46 L724.70 183.65 L724.44 183.84 L724.17 184.02 L723.91 184.21 L723.65 184.40 L723.39 184.58 L723.13 184.77 L722.86 184.96 L722.60 185.14 L722.34 185.33 L722.08 185.52 L721.82 185.71 L721.55 185.89 L721.29 186.08 L721.03 186.27 L720.77 186.45 L720.50 186.64 L720.24 186.83 L719.98 187.01 L719.72 187.20 L719.46 187.39 L719.19 187.57 L718.93 187.76 L718.67 187.95 L718.41 188.14 L718.15 188.32 L717.89 188.51 L717.62 188.70 L717.36 188.88 L717.10 189.07 L716.84 189.26 L716.58 189.45 L716.31 189.63 L716.05 189.82 L715.79 190.01 L715.53 190.20 L715.27 190.38 L715.01 190.57 L714.74 190.76 L714.48 190.95 L714.22 191.13 L713.96 191.32 L713.70 191.51 L713.44 191.70 L713.17 191.88 L712.91 192.07 L712.65 192.26 L712.39 192.45 L712.13 192.63 L711.87 192.82 L711.61 193.01 L711.34 193.20 L711.08 193.39 L710.82 193.57 L710.56 193.76 L710.30 193.95 L710.04 194.14 L709.78 194.32 L709.51 194.51 L709.25 194.70 L708.99 194.89 L708.73 195.08 L708.47 195.26 L708.21 195.45 L707.95 195.64 L707.69 195.83 L707.42 196.02 L707.16 196.21 L706.90 196.39 L706.64 196.58 L706.38 196.77 L706.12 196.96 L705.86 197.15 L705.60 197.33 L705.34 197.52 L705.08 197.71 L704.81 197.90 L704.55 198.09 L704.29 198.28 L704.03 198.47 L703.77 198.65 L703.51 198.84 L703.25 199.03 L702.99 199.22 L702.73 199.41 L702.47 199.60 L702.21 199.79 L701.94 199.97 L701.68 200.16 L701.42 200.35 L701.16 200.54 L700.90 200.73 L700.64 200.92 L700.38 201.11 L700.12 201.30 L699.86 201.48 L699.60 201.67 L699.34 201.86 L699.08 202.05 L698.82 202.24 L698.56 202.43 L698.30 202.62 L698.04 202.81 L697.77 203.00 L697.51 203.19 L697.25 203.37 L696.99 203.56 L696.73 203.75 L696.47 203.94 L696.21 204.13 L695.95 204.32 L695.69 204.51 L695.43 204.70 L695.17 204.89 L694.91 205.08 L694.65 205.27 L694.39 205.46 L694.13 205.65 L693.87 205.84 L693.61 206.03 L693.35 206.21 L693.09 206.40 L692.83 206.59 L692.57 206.78 L692.31 206.97 L692.05 207.16 L691.79 207.35 L691.53 207.54 L691.27 207.73 L691.01 207.92 L690.75 208.11 L690.49 208.30 L690.23 208.49 L689.97 208.68 L689.71 208.87 L689.45 209.06 L689.19 209.25 L688.93 209.44 L688.67 209.63 L688.41 209.82 L688.15 210.01 L687.89 210.20 L687.63 210.39 L687.37 210.58 L687.11 210.77 L686.85 210.96 L686.59 211.15 L686.33 211.34 L686.07 211.53 L685.81 211.72 L685.55 211.91 L685.30 212.10 L685.04 212.30 L684.78 212.49 L684.52 212.68 L684.26 212.87 L684.00 213.06 L683.74 213.25 L683.48 213.44 L683.22 213.63 L682.96 213.82 L682.70 214.01 L682.44 214.20 L682.18 214.39 L681.92 214.58 L681.66 214.77 L681.41 214.96 L681.15 215.16 L680.89 215.35 L680.63 215.54 L680.37 215.73 L680.11 215.92 L679.85 216.11 L679.59 216.30 L679.33 216.49 L679.07 216.68 L678.81 216.87 L678.56 217.07 L678.30 217.26 L678.04 217.45 L677.78 217.64 L677.52 217.83 L677.26 218.02 L677.00 218.21 L676.74 218.40 L676.48 218.60 L676.23 218.79 L675.97 218.98 L675.71 219.17 L675.45 219.36 L675.19 219.55 L674.93 219.74 L674.67 219.94 L674.42 220.13 L674.16 220.32 L673.90 220.51 L673.64 220.70 L673.38 220.89 L673.12 221.09 L672.86 221.28 L672.61 221.47 L672.35 221.66 L672.09 221.85 L671.83 222.04 L671.57 222.24 L671.31 222.43 L671.05 222.62 L670.80 222.81 L670.54 223.00 L670.28 223.20 L670.02 223.39 L669.76 223.58 L669.50 223.77 L669.25 223.96 L668.99 224.16 L668.73 224.35 L668.47 224.54 L668.21 224.73 L667.95 224.92 L667.70 225.12 L667.44 225.31 L667.18 225.50 L666.92 225.69 L666.66 225.88 L666.40 226.08 L666.15 226.27 L665.89 226.46 L665.63 226.65 L665.37 226.84 L665.11 227.04 L664.85 227.23 L664.60 227.42 L664.34 227.61 L664.08 227.80 L663.82 228.00 L663.56 228.19 L663.30 228.38 L663.05 228.57 L662.79 228.77 L662.53 228.96 L662.27 229.15 L662.01 229.34 L661.76 229.53 L661.50 229.73 L661.24 229.92 L660.98 230.11 L660.72 230.30 L660.46 230.50 L660.21 230.69 L659.95 230.88 L659.69 231.07 L659.43 231.26 L659.17 231.46 L658.92 231.65 L658.66 231.84 L658.40 232.03 L658.14 232.23 L657.88 232.42 L657.63 232.61 L657.37 232.80 L657.11 232.99 L656.85 233.19 L656.59 233.38 L656.33 233.57 L656.08 233.76 L655.82 233.96 L655.56 234.15 L655.30 234.34 L655.04 234.53 L654.79 234.72 L654.53 234.92 L654.27 235.11 L654.01 235.30 L653.75 235.49 L653.49 235.69 L653.24 235.88 L652.98 236.07 L652.72 236.26 L652.46 236.45 L652.20 236.65 L651.94 236.84 L651.69 237.03 L651.43 237.22 L651.17 237.41 L650.91 237.61 L650.65 237.80 L650.40 237.99 L650.14 238.18 L649.88 238.37 L649.62 238.57 L649.36 238.76 L649.10 238.95 L648.85 239.14 L648.59 239.33 L648.33 239.53 L648.07 239.72 L647.81 239.91 L647.55 240.10 L647.30 240.29 L647.04 240.49 L646.78 240.68 L646.52 240.87 L646.26 241.06 L646.00 241.25 L645.74 241.45 L645.49 241.64 L645.23 241.83 L644.97 242.02 L644.71 242.21 L644.45 242.40 L644.19 242.60 L643.93 242.79 L643.68 242.98 L643.42 243.17 L643.16 243.36 L642.90 243.55 L642.64 243.75 L642.38 243.94 L642.12 244.13 L641.87 244.32 L641.61 244.51 L641.35 244.70 L641.09 244.89 L640.83 245.09 L640.57 245.28 L640.31 245.47 L640.05 245.66 L639.79 245.85 L639.54 246.04 L639.28 246.23 L639.02 246.43 L638.76 246.62 L638.50 246.81 L638.24 247.00 L637.98 247.19 L637.72 247.38 L637.46 247.57 L637.20 247.76 L636.94 247.95 L636.69 248.14 L636.43 248.33 L636.17 248.53 L635.91 248.72 L635.65 248.91 L635.39 249.10 L635.13 249.29 L634.87 249.48 L634.61 249.67 L634.35 249.86 L634.09 250.05 L633.83 250.24 L633.57 250.43 L633.31 250.61 L633.05 250.80 L632.79 250.99 L632.53 251.18 L632.27 251.37 L632.01 251.56 L631.74 251.75 L631.48 251.94 L631.22 252.12 L630.96 252.31 L630.70 252.50 L630.44 252.69 L630.18 252.88 L629.92 253.06 L629.65 253.25 L629.39 253.44 L629.13 253.62 L628.87 253.81 L628.60 254.00 L628.34 254.18 L628.08 254.37 L627.82 254.55 L627.55 254.74 L627.29 254.93 L627.03 255.11 L626.76 255.30 L626.50 255.48 L626.24 255.67 L625.97 255.85 L625.71 256.04 L625.45 256.22 L625.18 256.41 L624.92 256.59 L624.66 256.77 L624.39 256.96 L624.13 257.14 L623.86 257.33 L623.60 257.51 L623.34 257.70 L623.07 257.88 L622.81 258.06 L622.55 258.25 L622.28 258.43 L622.02 258.62 L621.75 258.80 L621.49 258.99 L621.23 259.17 L620.96 259.36 L620.70 259.54 L620.44 259.73 L620.17 259.91 L619.91 260.10 L619.65 260.28 L619.39 260.47 L619.12 260.66 L618.86 260.84 L618.60 261.03 L618.34 261.22 L618.07 261.40 L617.81 261.59 L617.55 261.78 L617.29 261.97 L617.03 262.15 L616.77 262.34 L616.50 262.53 L616.24 262.72 L615.98 262.91 L615.72 263.10 L615.46 263.29 L615.20 263.48 L614.94 263.66 L614.68 263.85 L614.42 264.04 L614.16 264.23 L613.90 264.42 L613.64 264.61 L613.38 264.80 L613.12 264.99 L612.86 265.18 L612.60 265.37 L612.34 265.56 L612.08 265.75 L611.82 265.94 L611.56 266.13 L611.30 266.32 L611.04 266.51 L610.78 266.70 L610.52 266.89 L610.26 267.08 L610.00 267.27 L609.74 267.46 L609.48 267.64 L609.21 267.83 L608.95 268.02 L608.69 268.21 L608.43 268.39 L608.17 268.58 L607.90 268.77 L607.64 268.95 L607.38 269.14 L607.11 269.32 L606.85 269.51 L606.59 269.69 L606.32 269.87 L606.06 270.05 L605.79 270.24 L605.53 270.42 L605.26 270.60 L604.99 270.78 L604.73 270.96 L604.46 271.14 L604.19 271.32 L603.92 271.50 L603.66 271.67 L603.39 271.85 L603.12 272.03 L602.85 272.20 L602.58 272.38 L602.31 272.55 L602.04 272.73 L601.77 272.90 L601.50 273.08 L601.23 273.25 L600.96 273.42 L600.68 273.60 L600.41 273.77 L600.14 273.94 L599.87 274.11 L599.59 274.28 L599.32 274.45 L599.05 274.62 L598.77 274.79 L598.50 274.96 L598.23 275.13 L597.95 275.30 L597.68 275.46 L597.40 275.63 L597.13 275.80 L596.85 275.97 L596.57 276.13 L596.30 276.30 L596.02 276.46 L595.75 276.63 L595.47 276.79 L595.19 276.96 L594.92 277.12 L594.64 277.29 L594.36 277.45 L594.08 277.62 L593.81 277.78 L593.53 277.94 L593.25 278.11 L592.97 278.27 L592.69 278.43 L592.41 278.59 L592.13 278.75 L591.86 278.91 L591.58 279.08 L591.30 279.24 L591.02 279.40 L590.74 279.55 L590.46 279.71 L590.17 279.87 L589.89 280.03 L589.61 280.19 L589.33 280.34 L589.05 280.50 L588.77 280.65 L588.48 280.81 L588.20 280.96 L587.92 281.11 L587.63 281.27 L587.35 281.42 L587.06 281.57 L586.78 281.72 L586.49 281.87 L586.21 282.01 L585.92 282.16 L585.63 282.31 L585.34 282.45 L585.06 282.59 L584.77 282.74 L584.48 282.88 L584.19 283.02 L583.90 283.16 L583.61 283.30 L583.32 283.43 L583.03 283.57 L582.73 283.70 L582.44 283.84 L582.15 283.97 L581.85 284.10 L581.56 284.23 L581.26 284.36 L580.97 284.49 L580.67 284.61 L580.37 284.73 L580.08 284.86 L579.78 284.98 L579.48 285.10 L579.18 285.22 L578.88 285.33 L578.58 285.45 L578.28 285.56 L577.98 285.67 L577.67 285.79 L577.37 285.89 L577.07 286.00 L576.76 286.11 L576.46 286.21 L576.15 286.32 L575.85 286.42 L575.54 286.52 L575.23 286.62 L574.93 286.71 L574.62 286.81 L574.31 286.90 L574.00 287.00 L573.69 287.09 L573.38 287.18 L573.07 287.26 L572.76 287.35 L572.45 287.43 L572.14 287.52 L571.82 287.60 L571.51 287.68 L571.20 287.75 L570.88 287.83 L570.57 287.90 L570.25 287.98 L569.94 288.05 L569.62 288.12 L569.31 288.18 L568.99 288.25 L568.67 288.31 L568.35 288.37 L568.04 288.43 L567.72 288.49 L567.40 288.55 L567.08 288.60 L566.76 288.66 L566.44 288.71 L566.12 288.76 L565.80 288.80 L565.48 288.85 L565.15 288.89 L564.83 288.93 L564.51 288.97 L564.19 289.01 L563.87 289.04 L563.54 289.08 L563.22 289.11 L562.90 289.14 L562.57 289.16 L562.25 289.18 L561.93 289.21 L561.60 289.22 L561.28 289.24 L560.96 289.25 L560.63 289.26 L560.31 289.27 L559.99 289.28 L559.67 289.28 L559.34 289.28 L559.02 289.28 L558.70 289.27 L558.37 289.27 L558.05 289.26 L557.73 289.24 L557.41 289.22 L557.09 289.20 L556.77 289.18 L556.44 289.16 L556.12 289.13 L555.80 289.10 L555.48 289.06 L555.16 289.02 L554.84 288.98 L554.53 288.93 L554.21 288.89 L553.89 288.83 L553.57 288.78 L553.26 288.72 L552.94 288.66 L552.63 288.59 L552.31 288.53 L552.00 288.45 L551.68 288.38 L551.37 288.30 L551.06 288.22 L550.75 288.14 L550.43 288.05 L550.12 287.97 L549.81 287.87 L549.50 287.78 L549.20 287.68 L548.89 287.58 L548.58 287.48 L548.28 287.37 L547.97 287.27 L547.67 287.16 L547.36 287.04 L547.06 286.93 L546.76 286.81 L546.45 286.69 L546.15 286.57 L545.85 286.45 L545.56 286.32 L545.26 286.19 L544.96 286.06 L544.66 285.93 L544.37 285.79 L544.08 285.66 L543.78 285.52 L543.49 285.38 L543.20 285.23 L542.91 285.09 L542.62 284.94 L542.33 284.79 L542.05 284.64 L541.76 284.49 L541.47 284.34 L541.19 284.19 L540.91 284.03 L540.63 283.87 L540.35 283.71 L540.07 283.55 L539.79 283.39 L539.51 283.23 L539.23 283.06 L538.95 282.90 L538.68 282.73 L538.40 282.57 L538.13 282.40 L537.85 282.23 L537.58 282.06 L537.31 281.89 L537.03 281.73 L536.76 281.55 L536.49 281.38 L536.22 281.21 L535.94 281.04 L535.67 280.87 L535.40 280.70" fill="none" stroke="#1e90ff" stroke-width="4.60" stroke-dasharray="4.467 3.867 1.689 3.867" stroke-dashoffset="0.15"/>
<path d="M163.40 406.30 L163.81 406.27 L164.21 406.25 L164.62 406.22 L165.02 406.20 L165.43 406.17 L165.83 406.15 L166.24 406.12 L166.65 406.10 L167.05 406.07 L167.46 406.05 L167.86 406.02 L168.27 406.00 L168.67 405.97 L169.08 405.95 L169.49 405.92 L169.89 405.90 L170.30 405.87 L170.70 405.85 L171.11 405.82 L171.51 405.80 L171.92 405.77 L172.33 405.75 L172.73 405.72 L173.14 405.70 L173.54 405.67 L173.95 405.65 L174.35 405.62 L174.76 405.60 L175.17 405.57 L175.57 405.55 L175.98 405.52 L176.38 405.50 L176.79 405.47 L177.19 405.45 L177.60 405.42 L178.01 405.40 L178.41 405.37 L178.82 405.34 L179.22 405.32 L179.63 405.29 L180.03 405.27 L180.44 405.24 L180.85 405.22 L181.25 405.19 L181.66 405.17 L182.06 405.14 L182.47 405.12 L182.87 405.09 L183.28 405.07 L183.69 405.04 L184.09 405.02 L184.50 404.99 L184.90 404.97 L185.31 404.94 L185.72 404.91 L186.12 404.89 L186.53 404.86 L186.93 404.84 L187.34 404.81 L187.74 404.79 L188.15 404.76 L188.56 404.74 L188.96 404.71 L189.37 404.69 L189.77 404.66 L190.18 404.64 L190.58 404.61 L190.99 404.58 L191.40 404.56 L191.80 404.53 L192.21 404.51 L192.61 404.48 L193.02 404.46 L193.42 404.43 L193.83 404.41 L194.24 404.38 L194.64 404.35 L195.05 404.33 L195.45 404.30 L195.86 404.28 L196.26 404.25 L196.67 404.23 L197.08 404.20 L197.48 404.17 L197.89 404.15 L198.29 404.12 L198.70 404.10 L199.10 404.07 L199.51 404.04 L199.91 404.02 L200.32 403.99 L200.73 403.97 L201.13 403.94 L201.54 403.92 L201.94 403.89 L202.35 403.86 L202.75 403.84 L203.16 403.81 L203.57 403.79 L203.97 403.76 L204.38 403.73 L204.78 403.71 L205.19 403.68 L205.59 403.66 L206.00 403.63 L206.41 403.60 L206.81 403.58 L207.22 403.55 L207.62 403.52 L208.03 403.50 L208.43 403.47 L208.84 403.45 L209.25 403.42 L209.65 403.39 L210.06 403.37 L210.46 403.34 L210.87 403.31 L211.27 403.29 L211.68 403.26 L212.09 403.23 L212.49 403.21 L212.90 403.18 L213.30 403.16 L213.71 403.13 L214.11 403.10 L214.52 403.08 L214.93 403.05 L215.33 403.02 L215.74 403.00 L216.14 402.97 L216.55 402.94 L216.95 402.92 L217.36 402.89 L217.77 402.86 L218.17 402.84 L218.58 402.81 L218.98 402.78 L219.39 402.75 L219.79 402.73 L220.20 402.70 L220.61 402.67 L221.01 402.65 L221.42 402.62 L221.82 402.59 L222.23 402.57 L222.63 402.54 L223.04 402.51 L223.44 402.48 L223.85 402.46 L224.26 402.43 L224.66 402.40 L225.07 402.38 L225.47 402.35 L225.88 402.32 L226.28 402.29 L226.69 402.27 L227.10 402.24 L227.50 402.21 L227.91 402.18 L228.31 402.16 L228.72 402.13 L229.12 402.10 L229.53 402.07 L229.94 402.05 L230.34 402.02 L230.75 401.99 L231.15 401.96 L231.56 401.94 L231.96 401.91 L232.37 401.88 L232.77 401.85 L233.18 401.82 L233.59 401.80 L233.99 401.77 L234.40 401.74 L234.80 401.71 L235.21 401.68 L235.61 401.66 L236.02 401.63 L236.43 401.60 L236.83 401.57 L237.24 401.54 L237.64 401.52 L238.05 401.49 L238.45 401.46 L238.86 401.43 L239.26 401.40 L239.67 401.37 L240.08 401.35 L240.48 401.32 L240.89 401.29 L241.29 401.26 L241.70 401.23 L242.10 401.20 L242.51 401.17 L242.92 401.15 L243.32 401.12 L243.73 401.09 L244.13 401.06 L244.54 401.03 L244.94 401.00 L245.35 400.97 L245.75 400.94 L246.16 400.91 L246.57 400.89 L246.97 400.86 L247.38 400.83 L247.78 400.80 L248.19 400.77 L248.59 400.74 L249.00 400.71 L249.41 400.68 L249.81 400.65 L250.22 400.62 L250.62 400.59 L251.03 400.56 L251.43 400.53 L251.84 400.50 L252.24 400.47 L252.65 400.44 L253.06 400.42 L253.46 400.39 L253.87 400.36 L254.27 400.33 L254.68 400.30 L255.08 400.27 L255.49 400.24 L255.89 400.21 L256.30 400.18 L256.71 400.15 L257.11 400.12 L257.52 400.09 L257.92 400.06 L258.33 400.03 L258.73 399.99 L259.14 399.96 L259.54 399.93 L259.95 399.90 L260.36 399.87 L260.76 399.84 L261.17 399.81 L261.57 399.78 L261.98 399.75 L262.38 399.72 L262.79 399.69 L263.19 399.66 L263.60 399.63 L264.01 399.60 L264.41 399.57 L264.82 399.53 L265.22 399.50 L265.63 399.47 L266.03 399.44 L266.44 399.41 L266.84 399.38 L267.25 399.35 L267.66 399.32 L268.06 399.29 L268.47 399.25 L268.87 399.22 L269.28 399.19 L269.68 399.16 L270.09 399.13 L270.49 399.10 L270.90 399.06 L271.30 399.03 L271.71 399.00 L272.12 398.97 L272.52 398.94 L272.93 398.90 L273.33 398.87 L273.74 398.84 L274.14 398.81 L274.55 398.77 L274.95 398.74 L275.36 398.71 L275.76 398.68 L276.17 398.64 L276.58 398.61 L276.98 398.58 L277.39 398.55 L277.79 398.51 L278.20 398.48 L278.60 398.45 L279.01 398.41 L279.41 398.38 L279.82 398.35 L280.22 398.32 L280.63 398.28 L281.03 398.25 L281.44 398.21 L281.85 398.18 L282.25 398.15 L282.66 398.11 L283.06 398.08 L283.47 398.05 L283.87 398.01 L284.28 397.98 L284.68 397.94 L285.09 397.91 L285.49 397.88 L285.90 397.84 L286.30 397.81 L286.71 397.77 L287.11 397.74 L287.52 397.70 L287.92 397.67 L288.33 397.63 L288.74 397.60 L289.14 397.57 L289.55 397.53 L289.95 397.50 L290.36 397.46 L290.76 397.42 L291.17 397.39 L291.57 397.35 L291.98 397.32 L292.38 397.28 L292.79 397.25 L293.19 397.21 L293.60 397.18 L294.00 397.14 L294.41 397.10 L294.81 397.07 L295.22 397.03 L295.62 397.00 L296.03 396.96 L296.43 396.92 L296.84 396.89 L297.24 396.85 L297.65 396.81 L298.05 396.78 L298.46 396.74 L298.86 396.70 L299.27 396.67 L299.67 396.63 L300.08 396.59 L300.48 396.55 L300.89 396.52 L301.29 396.48 L301.70 396.44 L302.10 396.40 L302.51 396.37 L302.91 396.33 L303.32 396.29 L303.72 396.25 L304.13 396.22 L304.53 396.18 L304.94 396.14 L305.34 396.10 L305.75 396.06 L306.15 396.02 L306.56 395.98 L306.96 395.95 L307.37 395.91 L307.77 395.87 L308.18 395.83 L308.58 395.79 L308.99 395.75 L309.39 395.71 L309.80 395.67 L310.20 395.63 L310.60 395.59 L311.01 395.55 L311.41 395.51 L311.82 395.47 L312.22 395.43 L312.63 395.39 L313.03 395.35 L313.44 395.31 L313.84 395.27 L314.25 395.23 L314.65 395.19 L315.06 395.15 L315.46 395.11 L315.87 395.07 L316.27 395.02 L316.67 394.98 L317.08 394.94 L317.48 394.90 L317.89 394.86 L318.29 394.82 L318.70 394.77 L319.10 394.73 L319.51 394.69 L319.91 394.65 L320.31 394.61 L320.72 394.56 L321.12 394.52 L321.53 394.48 L321.93 394.44 L322.34 394.39 L322.74 394.35 L323.14 394.31 L323.55 394.26 L323.95 394.22 L324.36 394.18 L324.76 394.13 L325.17 394.09 L325.57 394.04 L325.97 394.00 L326.38 393.96 L326.78 393.91 L327.19 393.87 L327.59 393.82 L327.99 393.78 L328.40 393.73 L328.80 393.69 L329.21 393.64 L329.61 393.60 L330.02 393.55 L330.42 393.51 L330.82 393.46 L331.23 393.42 L331.63 393.37 L332.04 393.33 L332.44 393.28 L332.84 393.23 L333.25 393.19 L333.65 393.14 L334.05 393.09 L334.46 393.05 L334.86 393.00 L335.27 392.95 L335.67 392.91 L336.07 392.86 L336.48 392.81 L336.88 392.76 L337.28 392.72 L337.69 392.67 L338.09 392.62 L338.50 392.57 L338.90 392.52 L339.30 392.48 L339.71 392.43 L340.11 392.38 L340.51 392.33 L340.92 392.28 L341.32 392.23 L341.72 392.18 L342.13 392.13 L342.53 392.08 L342.94 392.04 L343.34 391.99 L343.74 391.94 L344.15 391.89 L344.55 391.84 L344.95 391.79 L345.36 391.73 L345.76 391.68 L346.16 391.63 L346.57 391.58 L346.97 391.53 L347.37 391.48 L347.78 391.43 L348.18 391.38 L348.58 391.33 L348.99 391.27 L349.39 391.22 L349.79 391.17 L350.19 391.12 L350.60 391.07 L351.00 391.01 L351.40 390.96 L351.81 390.91 L352.21 390.85 L352.61 390.80 L353.02 390.75 L353.42 390.70 L353.82 390.64 L354.22 390.59 L354.63 390.53 L355.03 390.48 L355.43 390.43 L355.84 390.37 L356.24 390.32 L356.64 390.26 L357.04 390.21 L357.45 390.15 L357.85 390.10 L358.25 390.04 L358.66 389.99 L359.06 389.93 L359.46 389.88 L359.86 389.82 L360.27 389.76 L360.67 389.71 L361.07 389.65 L361.47 389.59 L361.88 389.54 L362.28 389.48 L362.68 389.42 L363.08 389.37 L363.49 389.31 L363.89 389.25 L364.29 389.19 L364.69 389.14 L365.09 389.08 L365.50 389.02 L365.90 388.96 L366.30 388.90 L366.70 388.84 L367.11 388.79 L367.51 388.73 L367.91 388.67 L368.31 388.61 L368.71 388.55 L369.12 388.49 L369.52 388.43 L369.92 388.37 L370.32 388.31 L370.73 388.25 L371.13 388.19 L371.53 388.13 L371.93 388.07 L372.33 388.01 L372.74 387.95 L373.14 387.89 L373.54 387.83 L373.94 387.77 L374.34 387.70 L374.74 387.64 L375.15 387.58 L375.55 387.52 L375.95 387.46 L376.35 387.40 L376.75 387.33 L377.16 387.27 L377.56 387.21 L377.96 387.15 L378.36 387.08 L378.76 387.02 L379.16 386.96 L379.57 386.90 L379.97 386.83 L380.37 386.77 L380.77 386.71 L381.17 386.64 L381.57 386.58 L381.97 386.52 L382.38 386.45 L382.78 386.39 L383.18 386.33 L383.58 386.26 L383.98 386.20 L384.38 386.13 L384.79 386.07 L385.19 386.01 L385.59 385.94 L385.99 385.88 L386.39 385.81 L386.79 385.75 L387.19 385.68 L387.59 385.62 L388.00 385.55 L388.40 385.49 L388.80 385.42 L389.20 385.36 L389.60 385.29 L390.00 385.23 L390.40 385.16 L390.81 385.09 L391.21 385.03 L391.61 384.96 L392.01 384.90 L392.41 384.83 L392.81 384.76 L393.21 384.70 L393.61 384.63 L394.01 384.57 L394.42 384.50 L394.82 384.43 L395.22 384.37 L395.62 384.30 L396.02 384.23 L396.42 384.17 L396.82 384.10 L397.22 384.03 L397.62 383.96 L398.03 383.90 L398.43 383.83 L398.83 383.76 L399.23 383.69 L399.63 383.63 L400.03 383.56 L400.43 383.49 L400.83 383.42 L401.23 383.36 L401.63 383.29 L402.03 383.22 L402.44 383.15 L402.84 383.09 L403.24 383.02 L403.64 382.95 L404.04 382.88 L404.44 382.81 L404.84 382.74 L405.24 382.68 L405.64 382.61 L406.04 382.54 L406.44 382.47 L406.85 382.40 L407.25 382.33 L407.65 382.26 L408.05 382.20 L408.45 382.13 L408.85 382.06 L409.25 381.99 L409.65 381.92 L410.05 381.85 L410.45 381.78 L410.85 381.71 L411.25 381.64 L411.65 381.57 L412.06 381.51 L412.46 381.44 L412.86 381.37 L413.26 381.30 L413.66 381.23 L414.06 381.16 L414.46 381.09 L414.86 381.02 L415.26 380.95 L415.66 380.88 L416.06 380.81 L416.46 380.74 L416.86 380.67 L417.26 380.60 L417.66 380.53 L418.07 380.46 L418.47 380.39 L418.87 380.32 L419.27 380.25 L419.67 380.18 L420.07 380.11 L420.47 380.04 L420.87 379.97 L421.27 379.90 L421.67 379.83 L422.07 379.76 L422.47 379.69 L422.87 379.62 L423.27 379.55 L423.67 379.48 L424.07 379.41 L424.47 379.34 L424.88 379.27 L425.28 379.20 L425.68 379.13 L426.08 379.06 L426.48 378.99 L426.88 378.92 L427.28 378.85 L427.68 378.78 L428.08 378.71 L428.48 378.64 L428.88 378.57 L429.28 378.50 L429.68 378.43 L430.08 378.36 L430.48 378.29 L430.88 378.22 L431.28 378.15 L431.68 378.08 L432.09 378.01 L432.49 377.94 L432.89 377.87 L433.29 377.80 L433.69 377.73 L434.09 377.66 L434.49 377.59 L434.89 377.52 L435.29 377.45 L435.69 377.38 L436.09 377.31 L436.49 377.24 L436.89 377.17 L437.29 377.10 L437.69 377.03 L438.09 376.96 L438.49 376.89 L438.90 376.82 L439.30 376.75 L439.70 376.68 L440.10 376.61 L440.50 376.54 L440.90 376.47 L441.30 376.41 L441.70 376.34 L442.10 376.27 L442.50 376.20 L442.90 376.13 L443.30 376.06 L443.70 375.99 L444.10 375.92 L444.50 375.85 L444.90 375.78 L445.30 375.71 L445.71 375.64 L446.11 375.57 L446.51 375.50 L446.91 375.43 L447.31 375.36 L447.71 375.29 L448.11 375.23 L448.51 375.16 L448.91 375.09 L449.31 375.02 L449.71 374.95 L450.11 374.88 L450.51 374.81 L450.91 374.74 L451.31 374.67 L451.72 374.61 L452.12 374.54 L452.52 374.47 L452.92 374.40 L453.32 374.33 L453.72 374.26 L454.12 374.20 L454.52 374.13 L454.92 374.06 L455.32 373.99 L455.72 373.92 L456.12 373.85 L456.52 373.79 L456.92 373.72 L457.33 373.65 L457.73 373.58 L458.13 373.52 L458.53 373.45 L458.93 373.38 L459.33 373.31 L459.73 373.25 L460.13 373.18 L460.53 373.11 L460.93 373.04 L461.33 372.98 L461.74 372.91 L462.14 372.84 L462.54 372.78 L462.94 372.71 L463.34 372.64 L463.74 372.58 L464.14 372.51 L464.54 372.44 L464.94 372.38 L465.34 372.31 L465.74 372.24 L466.15 372.18 L466.55 372.11 L466.95 372.04 L467.35 371.98 L467.75 371.91 L468.15 371.85 L468.55 371.78 L468.95 371.71 L469.35 371.65 L469.76 371.58 L470.16 371.52 L470.56 371.45 L470.96 371.39 L471.36 371.32 L471.76 371.26 L472.16 371.19 L472.56 371.13 L472.97 371.06 L473.37 371.00 L473.77 370.93 L474.17 370.87 L474.57 370.80 L474.97 370.74 L475.37 370.67 L475.77 370.61 L476.18 370.55 L476.58 370.48 L476.98 370.42 L477.38 370.35 L477.78 370.29 L478.18 370.23 L478.59 370.16 L478.99 370.10 L479.39 370.03 L479.79 369.97 L480.19 369.91 L480.59 369.84 L480.99 369.78 L481.40 369.72 L481.80 369.65 L482.20 369.59 L482.60 369.53 L483.00 369.47 L483.41 369.40 L483.81 369.34 L484.21 369.28 L484.61 369.22 L485.01 369.15 L485.41 369.09 L485.82 369.03 L486.22 368.97 L486.62 368.90 L487.02 368.84 L487.42 368.78 L487.83 368.72 L488.23 368.66 L488.63 368.60 L489.03 368.53 L489.44 368.47 L489.84 368.41" fill="none" stroke="#ff00ff" stroke-width="4.60" stroke-dasharray="1.689 1.783" stroke-dashoffset="0.15"/>
<path d="M480.59 369.84 L480.99 369.78 L481.40 369.72 L481.80 369.65 L482.20 369.59 L482.60 369.53 L483.00 369.47 L483.41 369.40 L483.81 369.34 L484.21 369.28 L484.61 369.22 L485.01 369.15 L485.41 369.09 L485.82 369.03 L486.22 368.97 L486.62 368.90 L487.02 368.84 L487.42 368.78 L487.83 368.72 L488.23 368.66 L488.63 368.60 L489.03 368.53 L489.44 368.47 L489.84 368.41 L490.24 368.35 L490.64 368.29 L491.05 368.23 L491.45 368.17 L491.85 368.11 L492.25 368.05 L492.65 367.99 L493.06 367.93 L493.46 367.87 L493.86 367.81 L494.26 367.75 L494.67 367.69 L495.07 367.63 L495.47 367.57 L495.88 367.51 L496.28 367.45 L496.68 367.40 L497.08 367.34 L497.49 367.28 L497.89 367.22 L498.29 367.17 L498.70 367.11 L499.10 367.06 L499.50 367.00 L499.91 366.95 L500.31 366.89 L500.71 366.84 L501.11 366.78 L501.52 366.73 L501.92 366.68 L502.32 366.62 L502.73 366.57 L503.13 366.52 L503.54 366.47 L503.94 366.42 L504.34 366.37 L504.75 366.32 L505.15 366.27 L505.55 366.22 L505.96 366.17 L506.36 366.12 L506.76 366.08 L507.17 366.03 L507.57 365.99 L507.98 365.94 L508.38 365.90 L508.78 365.85 L509.19 365.81 L509.59 365.77 L510.00 365.72 L510.40 365.68 L510.81 365.64 L511.21 365.60 L511.61 365.56 L512.02 365.52 L512.42 365.48 L512.83 365.45 L513.23 365.41 L513.64 365.37 L514.04 365.34 L514.45 365.31 L514.85 365.27 L515.26 365.24 L515.66 365.21 L516.07 365.18 L516.47 365.15 L516.88 365.12 L517.28 365.09 L517.69 365.06 L518.09 365.03 L518.50 365.01 L518.90 364.98 L519.31 364.96 L519.72 364.93 L520.12 364.91 L520.53 364.89 L520.93 364.87 L521.34 364.84 L521.74 364.82 L522.15 364.81 L522.56 364.79 L522.96 364.77 L523.37 364.75 L523.77 364.74 L524.18 364.72 L524.59 364.71 L524.99 364.69 L525.40 364.68 L525.80 364.67 L526.21 364.65 L526.62 364.64 L527.02 364.63 L527.43 364.62 L527.84 364.61 L528.24 364.60 L528.65 364.60 L529.06 364.59 L529.46 364.58 L529.87 364.58 L530.28 364.57 L530.68 364.57 L531.09 364.56 L531.50 364.56 L531.90 364.55 L532.31 364.55 L532.72 364.55 L533.12 364.55 L533.53 364.55 L533.94 364.55 L534.35 364.55 L534.75 364.55 L535.16 364.55 L535.57 364.55 L535.97 364.55 L536.38 364.56 L536.79 364.56 L537.19 364.56 L537.60 364.57 L538.01 364.57 L538.42 364.58 L538.82 364.58 L539.23 364.59 L539.64 364.59 L540.05 364.60 L540.45 364.61 L540.86 364.62 L541.27 364.62 L541.67 364.63 L542.08 364.64 L542.49 364.65 L542.90 364.66 L543.30 364.67 L543.71 364.69 L544.12 364.70 L544.53 364.71 L544.93 364.73 L545.34 364.74 L545.75 364.76 L546.15 364.78 L546.56 364.80 L546.97 364.82 L547.37 364.84 L547.78 364.86 L548.18 364.88 L548.59 364.91 L549.00 364.94 L549.40 364.96 L549.81 364.99 L550.21 365.02 L550.62 365.05 L551.02 365.09 L551.43 365.12 L551.83 365.16 L552.24 365.20 L552.64 365.24 L553.05 365.28 L553.45 365.32 L553.86 365.37 L554.26 365.42 L554.66 365.46 L555.06 365.52 L555.47 365.57 L555.87 365.62 L556.27 365.68 L556.67 365.74 L557.08 365.80 L557.48 365.87 L557.88 365.93 L558.28 366.00 L558.68 366.07 L559.08 366.14 L559.48 366.21 L559.88 366.29 L560.28 366.37 L560.68 366.45 L561.08 366.53 L561.47 366.61 L561.87 366.70 L562.27 366.78 L562.67 366.87 L563.06 366.96 L563.46 367.05 L563.86 367.15 L564.25 367.24 L564.65 367.34 L565.04 367.44 L565.44 367.54 L565.83 367.64 L566.23 367.74 L566.62 367.85 L567.01 367.95 L567.41 368.06 L567.80 368.17 L568.19 368.28 L568.58 368.39 L568.97 368.50 L569.36 368.62 L569.75 368.73 L570.14 368.85 L570.53 368.97 L570.92 369.09 L571.31 369.21 L571.70 369.33 L572.09 369.45 L572.47 369.58 L572.86 369.70 L573.25 369.83 L573.63 369.96 L574.02 370.08 L574.40 370.21 L574.79 370.34 L575.17 370.48 L575.56 370.61 L575.94 370.74 L576.32 370.88 L576.71 371.01 L577.09 371.15 L577.47 371.28 L577.86 371.42 L578.24 371.56 L578.62 371.70 L579.00 371.84 L579.38 371.98 L579.76 372.12 L580.15 372.27 L580.53 372.41 L580.91 372.56 L581.29 372.70 L581.67 372.85 L582.05 372.99 L582.43 373.14 L582.80 373.29 L583.18 373.44 L583.56 373.59 L583.94 373.73 L584.32 373.88 L584.70 374.04 L585.08 374.19 L585.45 374.34 L585.83 374.49 L586.21 374.64 L586.58 374.80 L586.96 374.95 L587.34 375.11 L587.71 375.27 L588.09 375.42 L588.46 375.58 L588.84 375.74 L589.21 375.90 L589.59 376.06 L589.96 376.22 L590.33 376.39 L590.70 376.55 L591.08 376.71 L591.45 376.88 L591.82 377.05 L592.19 377.21 L592.56 377.38 L592.93 377.55 L593.30 377.73 L593.67 377.90 L594.03 378.07 L594.40 378.25 L594.77 378.42 L595.13 378.60 L595.50 378.78 L595.86 378.96 L596.22 379.14 L596.59 379.32 L596.95 379.51 L597.31 379.69 L597.67 379.88 L598.03 380.07 L598.39 380.26 L598.75 380.45 L599.11 380.64 L599.46 380.84 L599.82 381.03 L600.17 381.23 L600.53 381.43 L600.88 381.63 L601.24 381.83 L601.59 382.03 L601.94 382.23 L602.29 382.44 L602.64 382.64 L602.99 382.85 L603.34 383.06 L603.69 383.26 L604.04 383.47 L604.39 383.68 L604.74 383.90 L605.08 384.11 L605.43 384.32 L605.78 384.53 L606.12 384.75 L606.47 384.97 L606.81 385.18 L607.16 385.40 L607.50 385.62 L607.84 385.83 L608.19 386.05 L608.53 386.27 L608.87 386.49 L609.21 386.71 L609.56 386.93 L609.90 387.16 L610.24 387.38 L610.58 387.60 L610.92 387.82 L611.26 388.05 L611.60 388.27 L611.94 388.50 L612.28 388.72 L612.62 388.94 L612.96 389.17 L613.30 389.39 L613.64 389.62 L613.98 389.84 L614.31 390.07 L614.65 390.30 L614.99 390.52 L615.33 390.75 L615.67 390.98 L616.00 391.21 L616.34 391.43 L616.68 391.66 L617.01 391.89 L617.35 392.12 L617.68 392.35 L618.02 392.58 L618.35 392.81 L618.69 393.04 L619.02 393.27 L619.36 393.51 L619.69 393.74 L620.02 393.97 L620.36 394.20 L620.69 394.44 L621.02 394.67 L621.35 394.91 L621.68 395.14 L622.01 395.38 L622.35 395.62 L622.68 395.85 L623.00 396.09 L623.33 396.33 L623.66 396.57 L623.99 396.81 L624.32 397.05 L624.65 397.29 L624.97 397.53 L625.30 397.77 L625.62 398.02 L625.95 398.26 L626.27 398.50 L626.60 398.75 L626.92 399.00 L627.25 399.24 L627.57 399.49 L627.89 399.74 L628.21 399.99 L628.53 400.23 L628.85 400.48 L629.17 400.73 L629.49 400.98 L629.81 401.24 L630.13 401.49 L630.45 401.74 L630.77 401.99 L631.09 402.24 L631.41 402.50 L631.73 402.75 L632.04 403.00 L632.36 403.26 L632.68 403.51 L632.99 403.77 L633.31 404.02 L633.63 404.28 L633.94 404.54 L634.26 404.79 L634.58 405.05 L634.89 405.30 L635.21 405.56 L635.52 405.82 L635.84 406.07 L636.15 406.33 L636.47 406.59 L636.78 406.84 L637.10 407.10" fill="none" stroke="#ff00ff" stroke-width="4.60" stroke-dasharray="1.689 1.783" stroke-dashoffset="-1.55"/>
<path d="M940.10 175.20 L939.78 175.34 L939.46 175.49 L939.14 175.63 L938.82 175.78 L938.50 175.92 L938.17 176.07 L937.85 176.21 L937.53 176.36 L937.21 176.50 L936.89 176.65 L936.57 176.79 L936.25 176.94 L935.93 177.08 L935.61 177.23 L935.29 177.37 L934.97 177.52 L934.65 177.66 L934.32 177.81 L934.00 177.95 L933.68 178.10 L933.36 178.24 L933.04 178.39 L932.72 178.53 L932.40 178.68 L932.08 178.82 L931.76 178.97 L931.44 179.11 L931.12 179.26 L930.79 179.40 L930.47 179.55 L930.15 179.69 L929.83 179.84 L929.51 179.98 L929.19 180.13 L928.87 180.27 L928.55 180.42 L928.23 180.56 L927.91 180.71 L927.59 180.85 L927.26 181.00 L926.94 181.14 L926.62 181.29 L926.30 181.43 L925.98 181.58 L925.66 181.72 L925.34 181.87 L925.02 182.01 L924.70 182.16 L924.38 182.30 L924.06 182.45 L923.73 182.59 L923.41 182.73 L923.09 182.88 L922.77 183.02 L922.45 183.17 L922.13 183.31 L921.81 183.46 L921.49 183.60 L921.17 183.75 L920.85 183.89 L920.53 184.04 L920.20 184.18 L919.88 184.33 L919.56 184.47 L919.24 184.62 L918.92 184.76 L918.60 184.91 L918.28 185.05 L917.96 185.20 L917.64 185.34 L917.32 185.48 L916.99 185.63 L916.67 185.77 L916.35 185.92 L916.03 186.06 L915.71 186.21 L915.39 186.35 L915.07 186.50 L914.75 186.64 L914.43 186.79 L914.11 186.93 L913.78 187.08 L913.46 187.22 L913.14 187.36 L912.82 187.51 L912.50 187.65 L912.18 187.80 L911.86 187.94 L911.54 188.09 L911.22 188.23 L910.89 188.38 L910.57 188.52 L910.25 188.67 L909.93 188.81 L909.61 188.95 L909.29 189.10 L908.97 189.24 L908.65 189.39 L908.33 189.53 L908.00 189.68 L907.68 189.82 L907.36 189.96 L907.04 190.11 L906.72 190.25 L906.40 190.40 L906.08 190.54 L905.76 190.69 L905.44 190.83 L905.11 190.97 L904.79 191.12 L904.47 191.26 L904.15 191.41 L903.83 191.55 L903.51 191.70 L903.19 191.84 L902.87 191.98 L902.54 192.13 L902.22 192.27 L901.90 192.42 L901.58 192.56 L901.26 192.71 L900.94 192.85 L900.62 192.99 L900.30 193.14 L899.98 193.28 L899.65 193.43 L899.33 193.57 L899.01 193.71 L898.69 193.86 L898.37 194.00 L898.05 194.15 L897.73 194.29 L897.40 194.43 L897.08 194.58 L896.76 194.72 L896.44 194.87 L896.12 195.01 L895.80 195.15 L895.48 195.30 L895.16 195.44 L894.83 195.58 L894.51 195.73 L894.19 195.87 L893.87 196.02 L893.55 196.16 L893.23 196.30 L892.91 196.45 L892.58 196.59 L892.26 196.73 L891.94 196.88 L891.62 197.02 L891.30 197.17 L890.98 197.31 L890.66 197.45 L890.33 197.60 L890.01 197.74 L889.69 197.88 L889.37 198.03 L889.05 198.17 L888.73 198.31 L888.41 198.46 L888.08 198.60 L887.76 198.74 L887.44 198.89 L887.12 199.03 L886.80 199.17 L886.48 199.32 L886.15 199.46 L885.83 199.60 L885.51 199.75 L885.19 199.89 L884.87 200.03 L884.55 200.18 L884.22 200.32 L883.90 200.46 L883.58 200.61 L883.26 200.75 L882.94 200.89 L882.62 201.04 L882.29 201.18 L881.97 201.32 L881.65 201.47 L881.33 201.61 L881.01 201.75 L880.69 201.90 L880.36 202.04 L880.04 202.18 L879.72 202.32 L879.40 202.47 L879.08 202.61 L878.76 202.75 L878.43 202.90 L878.11 203.04 L877.79 203.18 L877.47 203.32 L877.15 203.47 L876.82 203.61 L876.50 203.75 L876.18 203.90 L875.86 204.04 L875.54 204.18 L875.22 204.32 L874.89 204.47 L874.57 204.61 L874.25 204.75 L873.93 204.89 L873.61 205.04 L873.28 205.18 L872.96 205.32 L872.64 205.46 L872.32 205.61 L872.00 205.75 L871.67 205.89 L871.35 206.03 L871.03 206.18 L870.71 206.32 L870.39 206.46 L870.06 206.60 L869.74 206.75 L869.42 206.89 L869.10 207.03 L868.78 207.17 L868.45 207.31 L868.13 207.46 L867.81 207.60 L867.49 207.74 L867.17 207.88 L866.84 208.03 L866.52 208.17 L866.20 208.31 L865.88 208.45 L865.55 208.59 L865.23 208.74 L864.91 208.88 L864.59 209.02 L864.27 209.16 L863.94 209.31 L863.62 209.45 L863.30 209.59 L862.98 209.73 L862.66 209.87 L862.33 210.02 L862.01 210.16 L861.69 210.30 L861.37 210.44 L861.04 210.58 L860.72 210.72 L860.40 210.87 L860.08 211.01 L859.76 211.15 L859.43 211.29 L859.11 211.43 L858.79 211.58 L858.47 211.72 L858.14 211.86 L857.82 212.00 L857.50 212.14 L857.18 212.29 L856.86 212.43 L856.53 212.57 L856.21 212.71 L855.89 212.85 L855.57 212.99 L855.24 213.14 L854.92 213.28 L854.60 213.42 L854.28 213.56 L853.95 213.70 L853.63 213.84 L853.31 213.99 L852.99 214.13 L852.67 214.27 L852.34 214.41 L852.02 214.55 L851.70 214.69 L851.38 214.84 L851.05 214.98 L850.73 215.12 L850.41 215.26 L850.09 215.40 L849.76 215.54 L849.44 215.69 L849.12 215.83 L848.80 215.97 L848.48 216.11 L848.15 216.25 L847.83 216.39 L847.51 216.54 L847.19 216.68 L846.86 216.82 L846.54 216.96 L846.22 217.10 L845.90 217.24 L845.57 217.38 L845.25 217.53 L844.93 217.67 L844.61 217.81 L844.28 217.95 L843.96 218.09 L843.64 218.23 L843.32 218.37 L842.99 218.52 L842.67 218.66 L842.35 218.80 L842.03 218.94 L841.70 219.08 L841.38 219.22 L841.06 219.36 L840.74 219.51 L840.41 219.65 L840.09 219.79 L839.77 219.93 L839.45 220.07 L839.13 220.21 L838.80 220.35 L838.48 220.50 L838.16 220.64 L837.84 220.78 L837.51 220.92 L837.19 221.06 L836.87 221.20 L836.55 221.34 L836.22 221.49 L835.90 221.63 L835.58 221.77 L835.26 221.91 L834.93 222.05 L834.61 222.19 L834.29 222.33 L833.97 222.48 L833.64 222.62 L833.32 222.76 L833.00 222.90 L832.68 223.04 L832.35 223.18 L832.03 223.32 L831.71 223.46 L831.39 223.61 L831.06 223.75 L830.74 223.89 L830.42 224.03 L830.10 224.17 L829.77 224.31 L829.45 224.45 L829.13 224.60 L828.81 224.74 L828.48 224.88 L828.16 225.02 L827.84 225.16 L827.52 225.30 L827.19 225.44 L826.87 225.59 L826.55 225.73 L826.23 225.87 L825.90 226.01 L825.58 226.15 L825.26 226.29 L824.94 226.43 L824.61 226.58 L824.29 226.72 L823.97 226.86 L823.65 227.00 L823.32 227.14 L823.00 227.28 L822.68 227.42 L822.36 227.57 L822.04 227.71 L821.71 227.85 L821.39 227.99 L821.07 228.13 L820.75 228.27 L820.42 228.41 L820.10 228.56 L819.78 228.70 L819.46 228.84 L819.13 228.98 L818.81 229.12 L818.49 229.26 L818.17 229.40 L817.84 229.55 L817.52 229.69 L817.20 229.83 L816.88 229.97 L816.55 230.11 L816.23 230.25 L815.91 230.40 L815.59 230.54 L815.26 230.68 L814.94 230.82 L814.62 230.96 L814.30 231.10 L813.98 231.24 L813.65 231.39 L813.33 231.53 L813.01 231.67 L812.69 231.81 L812.36 231.95 L812.04 232.09 L811.72 232.24 L811.40 232.38 L811.07 232.52 L810.75 232.66 L810.43 232.80 L810.11 232.94 L809.78 233.09 L809.46 233.23 L809.14 233.37 L808.82 233.51 L808.50 233.65 L808.17 233.79 L807.85 233.94 L807.53 234.08 L807.21 234.22 L806.88 234.36 L806.56 234.50 L806.24 234.64 L805.92 234.79 L805.59 234.93 L805.27 235.07 L804.95 235.21 L804.63 235.35 L804.31 235.49 L803.98 235.64 L803.66 235.78 L803.34 235.92 L803.02 236.06 L802.69 236.20 L802.37 236.34 L802.05 236.49 L801.73 236.63 L801.40 236.77 L801.08 236.91 L800.76 237.05 L800.44 237.20 L800.12 237.34 L799.79 237.48 L799.47 237.62 L799.15 237.76 L798.83 237.90 L798.50 238.05 L798.18 238.19 L797.86 238.33 L797.54 238.47 L797.21 238.61 L796.89 238.75 L796.57 238.90 L796.25 239.04 L795.93 239.18 L795.60 239.32 L795.28 239.46 L794.96 239.61 L794.64 239.75 L794.31 239.89 L793.99 240.03 L793.67 240.17 L793.35 240.31 L793.03 240.46 L792.70 240.60 L792.38 240.74 L792.06 240.88 L791.74 241.02 L791.41 241.17 L791.09 241.31 L790.77 241.45 L790.45 241.59 L790.13 241.73 L789.80 241.88 L789.48 242.02 L789.16 242.16 L788.84 242.30 L788.51 242.44 L788.19 242.58 L787.87 242.73 L787.55 242.87 L787.22 243.01 L786.90 243.15 L786.58 243.29 L786.26 243.44 L785.94 243.58 L785.61 243.72 L785.29 243.86 L784.97 244.00 L784.65 244.14 L784.32 244.29 L784.00 244.43 L783.68 244.57 L783.36 244.71 L783.04 244.85 L782.71 245.00 L782.39 245.14 L782.07 245.28 L781.75 245.42 L781.42 245.56 L781.10 245.71 L780.78 245.85 L780.46 245.99 L780.14 246.13 L779.81 246.27 L779.49 246.42 L779.17 246.56 L778.85 246.70 L778.52 246.84 L778.20 246.98 L777.88 247.12 L777.56 247.27 L777.24 247.41 L776.91 247.55 L776.59 247.69 L776.27 247.83 L775.95 247.98 L775.62 248.12 L775.30 248.26 L774.98 248.40 L774.66 248.54 L774.34 248.69 L774.01 248.83 L773.69 248.97 L773.37 249.11 L773.05 249.25 L772.72 249.40 L772.40 249.54 L772.08 249.68 L771.76 249.82 L771.44 249.96 L771.11 250.10 L770.79 250.25 L770.47 250.39 L770.15 250.53 L769.83 250.67 L769.50 250.81 L769.18 250.96 L768.86 251.10 L768.54 251.24 L768.21 251.38 L767.89 251.52 L767.57 251.67 L767.25 251.81 L766.93 251.95 L766.60 252.09 L766.28 252.23 L765.96 252.38 L765.64 252.52 L765.31 252.66 L764.99 252.80 L764.67 252.94 L764.35 253.09 L764.03 253.23 L763.70 253.37 L763.38 253.51 L763.06 253.65 L762.74 253.79 L762.41 253.94 L762.09 254.08 L761.77 254.22 L761.45 254.36 L761.13 254.50 L760.80 254.65 L760.48 254.79 L760.16 254.93 L759.84 255.07 L759.51 255.21 L759.19 255.36 L758.87 255.50 L758.55 255.64 L758.23 255.78 L757.90 255.92 L757.58 256.07 L757.26 256.21 L756.94 256.35 L756.61 256.49 L756.29 256.63 L755.97 256.77 L755.65 256.92 L755.33 257.06 L755.00 257.20 L754.68 257.34 L754.36 257.48 L754.04 257.63 L753.71 257.77 L753.39 257.91 L753.07 258.05 L752.75 258.19 L752.43 258.33 L752.10 258.48 L751.78 258.62 L751.46 258.76 L751.14 258.90 L750.81 259.04 L750.49 259.19 L750.17 259.33 L749.85 259.47 L749.52 259.61 L749.20 259.75 L748.88 259.89 L748.56 260.04 L748.24 260.18 L747.91 260.32 L747.59 260.46 L747.27 260.60 L746.95 260.74 L746.62 260.89 L746.30 261.03 L745.98 261.17 L745.66 261.31 L745.33 261.45 L745.01 261.59 L744.69 261.73 L744.37 261.88 L744.05 262.02 L743.72 262.16 L743.40 262.30 L743.08 262.44 L742.76 262.58 L742.43 262.72 L742.11 262.87 L741.79 263.01 L741.47 263.15 L741.14 263.29 L740.82 263.43 L740.50 263.57 L740.18 263.71 L739.85 263.85 L739.53 264.00 L739.21 264.14 L738.89 264.28 L738.56 264.42 L738.24 264.56 L737.92 264.70 L737.60 264.84 L737.27 264.98 L736.95 265.12 L736.63 265.27 L736.31 265.41 L735.98 265.55 L735.66 265.69 L735.34 265.83 L735.01 265.97 L734.69 266.11 L734.37 266.25 L734.05 266.39 L733.72 266.53 L733.40 266.67 L733.08 266.82 L732.76 266.96 L732.43 267.10 L732.11 267.24 L731.79 267.38 L731.46 267.52 L731.14 267.66 L730.82 267.80 L730.50 267.94 L730.17 268.08 L729.85 268.22 L729.53 268.36 L729.20 268.50 L728.88 268.64 L728.56 268.78 L728.24 268.92 L727.91 269.06 L727.59 269.20 L727.27 269.34 L726.94 269.48 L726.62 269.62 L726.30 269.76 L725.98 269.90 L725.65 270.04 L725.33 270.18 L725.01 270.32 L724.68 270.46 L724.36 270.60 L724.04 270.74 L723.71 270.88 L723.39 271.02 L723.07 271.16 L722.74 271.30 L722.42 271.44 L722.10 271.58 L721.77 271.72 L721.45 271.86 L721.13 272.00 L720.80 272.14 L720.48 272.28 L720.16 272.42 L719.83 272.56 L719.51 272.70 L719.19 272.84 L718.86 272.98 L718.54 273.11 L718.22 273.25 L717.89 273.39 L717.57 273.53 L717.25 273.67 L716.92 273.81 L716.60 273.95 L716.28 274.09 L715.95 274.23 L715.63 274.37 L715.31 274.50 L714.98 274.64 L714.66 274.78 L714.33 274.92 L714.01 275.06 L713.69 275.20 L713.36 275.34 L713.04 275.47 L712.72 275.61 L712.39 275.75 L712.07 275.89 L711.74 276.03 L711.42 276.17 L711.10 276.30 L710.77 276.44 L710.45 276.58 L710.13 276.72 L709.80 276.86 L709.48 276.99 L709.15 277.13 L708.83 277.27 L708.51 277.41 L708.18 277.55 L707.86 277.68 L707.53 277.82 L707.21 277.96 L706.88 278.10 L706.56 278.23 L706.24 278.37 L705.91 278.51 L705.59 278.64 L705.26 278.78 L704.94 278.92 L704.61 279.06 L704.29 279.19 L703.97 279.33 L703.64 279.47 L703.32 279.60 L702.99 279.74 L702.67 279.88 L702.34 280.01 L702.02 280.15 L701.69 280.29 L701.37 280.42 L701.05 280.56 L700.72 280.70 L700.40 280.83 L700.07 280.97 L699.75 281.11 L699.42 281.24 L699.10 281.38 L698.77 281.51 L698.45 281.65 L698.12 281.79 L697.80 281.92 L697.47 282.06 L697.15 282.20 L696.82 282.33 L696.50 282.47 L696.17 282.60 L695.85 282.74 L695.52 282.88 L695.20 283.01 L694.87 283.15 L694.55 283.28 L694.22 283.42 L693.90 283.56 L693.58 283.69 L693.25 283.83 L692.93 283.97 L692.60 284.10 L692.28 284.24 L691.95 284.38 L691.63 284.51 L691.30 284.65 L690.98 284.79 L690.66 284.93 L690.33 285.06 L690.01 285.20 L689.68 285.34 L689.36 285.48 L689.04 285.62 L688.71 285.76 L688.39 285.89 L688.07 286.03 L687.74 286.17 L687.42 286.31 L687.10 286.45 L686.77 286.59 L686.45 286.73 L686.13 286.87 L685.80 287.01 L685.48 287.15 L685.16 287.29 L684.84 287.43 L684.51 287.58 L684.19 287.72 L683.87 287.86 L683.55 288.00 L683.23 288.15 L682.90 288.29 L682.58 288.43 L682.26 288.58 L681.94 288.72 L681.62 288.86 L681.30 289.01 L680.98 289.15 L680.66 289.30 L680.34 289.45 L680.02 289.59 L679.70 289.74 L679.38 289.89 L679.06 290.03 L678.74 290.18 L678.42 290.33 L678.10 290.48 L677.78 290.63 L677.46 290.78 L677.14 290.93 L676.82 291.08 L676.51 291.23 L676.19 291.38 L675.87 291.53 L675.55 291.68 L675.23 291.83 L674.91 291.98 L674.60 292.13 L674.28 292.28 L673.96 292.43 L673.64 292.59 L673.33 292.74 L673.01 292.89 L672.69 293.04 L672.37 293.19 L672.06 293.35 L671.74 293.50 L671.42 293.65 L671.10 293.81 L670.79 293.96 L670.47 294.11 L670.15 294.26 L669.84 294.42 L669.52 294.57 L669.20 294.72 L668.88 294.88 L668.57 295.03 L668.25 295.18 L667.93 295.33 L667.62 295.49 L667.30 295.64 L666.98 295.79 L666.66 295.95 L666.35 296.10 L666.03 296.25 L665.71 296.40 L665.39 296.56 L665.08 296.71 L664.76 296.86 L664.44 297.01 L664.12 297.16 L663.81 297.31 L663.49 297.46 L663.17 297.62 L662.85 297.77 L662.53 297.92 L662.21 298.07 L661.90 298.22 L661.58 298.37 L661.26 298.52 L660.94 298.66 L660.62 298.81 L660.30 298.96 L659.98 299.11 L659.66 299.26 L659.34 299.40 L659.02 299.55 L658.70 299.70 L658.38 299.84 L658.06 299.99 L657.74 300.14 L657.42 300.28 L657.10 300.43 L656.78 300.57 L656.46 300.71 L656.14 300.86 L655.81 301.00 L655.49 301.15 L655.17 301.29 L654.85 301.43 L654.53 301.58 L654.21 301.72 L653.88 301.86 L653.56 302.00 L653.24 302.14 L652.92 302.29 L652.59 302.43 L652.27 302.57 L651.95 302.71 L651.63 302.85 L651.30 302.99 L650.98 303.13 L650.66 303.27 L650.33 303.41 L650.01 303.55 L649.69 303.69 L649.36 303.83 L649.04 303.97 L648.72 304.11 L648.39 304.25 L648.07 304.39 L647.75 304.53 L647.42 304.67 L647.10 304.81 L646.78 304.94 L646.45 305.08 L646.13 305.22 L645.81 305.36 L645.48 305.50 L645.16 305.63 L644.83 305.77 L644.51 305.91 L644.19 306.05 L643.86 306.19 L643.54 306.32 L643.21 306.46 L642.89 306.60 L642.57 306.74 L642.24 306.88 L641.92 307.01 L641.59 307.15 L641.27 307.29 L640.95 307.43 L640.62 307.56 L640.30 307.70 L639.97 307.84 L639.65 307.98 L639.33 308.12 L639.00 308.25 L638.68 308.39 L638.36 308.53 L638.03 308.67 L637.71 308.81 L637.38 308.95 L637.06 309.09 L636.74 309.23 L636.41 309.37 L636.09 309.51 L635.77 309.65 L635.45 309.79 L635.12 309.93 L634.80 310.07 L634.48 310.21 L634.15 310.35 L633.83 310.49 L633.51 310.63 L633.19 310.77 L632.87 310.92 L632.54 311.06 L632.22 311.20 L631.90 311.34 L631.58 311.49 L631.26 311.63 L630.94 311.78 L630.61 311.92 L630.29 312.07 L629.97 312.21 L629.65 312.36 L629.33 312.50 L629.01 312.65 L628.69 312.80 L628.37 312.95 L628.05 313.09 L627.73 313.24 L627.41 313.39 L627.09 313.54 L626.77 313.68 L626.45 313.83 L626.13 313.98 L625.81 314.13 L625.49 314.27 L625.17 314.42 L624.85 314.57 L624.53 314.71 L624.21 314.86 L623.89 315.01 L623.57 315.15 L623.25 315.30 L622.93 315.44 L622.61 315.58 L622.28 315.73 L621.96 315.87 L621.64 316.01 L621.32 316.15 L620.99 316.29 L620.67 316.43 L620.35 316.57 L620.02 316.71 L619.70 316.85 L619.38 316.98 L619.05 317.12 L618.73 317.25 L618.40 317.39 L618.07 317.52 L617.75 317.65 L617.42 317.78 L617.09 317.90 L616.76 318.03 L616.43 318.16 L616.10 318.28 L615.77 318.40 L615.44 318.52 L615.11 318.64 L614.78 318.76 L614.45 318.88 L614.12 318.99 L613.78 319.11 L613.45 319.22 L613.12 319.33 L612.78 319.44 L612.45 319.55 L612.11 319.66 L611.77 319.76 L611.44 319.87 L611.10 319.97 L610.76 320.07 L610.42 320.17 L610.09 320.27 L609.75 320.36 L609.41 320.46 L609.07 320.55 L608.73 320.65 L608.39 320.74 L608.05 320.83 L607.70 320.92 L607.36 321.00 L607.02 321.09 L606.68 321.17 L606.33 321.25 L605.99 321.33 L605.65 321.41 L605.30 321.49 L604.96 321.57 L604.61 321.64 L604.26 321.71 L603.92 321.78 L603.57 321.85 L603.23 321.92 L602.88 321.99 L602.53 322.05 L602.18 322.11 L601.83 322.17 L601.49 322.23 L601.14 322.29 L600.79 322.34 L600.44 322.39 L600.09 322.44 L599.74 322.49 L599.39 322.53 L599.04 322.58 L598.69 322.62 L598.34 322.65 L597.99 322.69 L597.64 322.72 L597.29 322.75 L596.94 322.78 L596.58 322.80 L596.23 322.83 L595.88 322.85 L595.53 322.86 L595.18 322.88 L594.83 322.89 L594.48 322.90 L594.12 322.90 L593.77 322.90 L593.42 322.90 L593.07 322.90 L592.72 322.90 L592.37 322.89 L592.01 322.88 L591.66 322.86 L591.31 322.85 L590.96 322.83 L590.61 322.81 L590.26 322.78 L589.90 322.76 L589.55 322.73 L589.20 322.70 L588.85 322.67 L588.50 322.63 L588.15 322.60 L587.80 322.56 L587.45 322.52 L587.10 322.48 L586.75 322.44 L586.39 322.39 L586.04 322.35 L585.70 322.30 L585.35 322.25 L585.00 322.20 L584.65 322.15 L584.30 322.10 L583.95 322.05 L583.60 321.99 L583.25 321.94 L582.90 321.88 L582.56 321.82 L582.21 321.76 L581.86 321.70 L581.51 321.64 L581.17 321.58 L580.82 321.51 L580.47 321.44 L580.13 321.38 L579.78 321.31 L579.44 321.24 L579.09 321.17 L578.75 321.09 L578.40 321.02 L578.06 320.94 L577.72 320.87 L577.37 320.79 L577.03 320.71 L576.69 320.62 L576.35 320.54 L576.01 320.45 L575.67 320.37 L575.32 320.28 L574.98 320.19 L574.64 320.10 L574.30 320.00 L573.97 319.91 L573.63 319.81 L573.29 319.71 L572.95 319.61 L572.61 319.50 L572.28 319.40 L571.94 319.29 L571.61 319.19 L571.27 319.08 L570.94 318.96 L570.60 318.85 L570.27 318.74 L569.94 318.62 L569.60 318.50 L569.27 318.38 L568.94 318.26 L568.61 318.14 L568.28 318.01 L567.95 317.89 L567.62 317.76 L567.30 317.63 L566.97 317.50 L566.64 317.36 L566.32 317.23 L565.99 317.09 L565.67 316.95 L565.34 316.81 L565.02 316.67 L564.70 316.53 L564.38 316.39 L564.05 316.24 L563.73 316.09 L563.42 315.94 L563.10 315.79 L562.78 315.64 L562.46 315.49 L562.15 315.33 L561.83 315.18 L561.52 315.02 L561.20 314.86 L560.89 314.70 L560.58 314.54 L560.26 314.38 L559.95 314.21 L559.64 314.05 L559.33 313.88 L559.02 313.71 L558.71 313.54 L558.40 313.37 L558.10 313.20 L557.79 313.03 L557.48 312.86 L557.18 312.69 L556.87 312.51 L556.56 312.34 L556.26 312.16 L555.95 311.99 L555.65 311.81 L555.34 311.63 L555.04 311.46 L554.73 311.28 L554.43 311.10 L554.13 310.92 L553.82 310.74 L553.52 310.56 L553.22 310.38 L552.91 310.20 L552.61 310.02 L552.31 309.84 L552.01 309.66 L551.70 309.48 L551.40 309.30" fill="none" stroke="#ff00ff" stroke-width="4.60" stroke-dasharray="1.689 1.783" stroke-dashoffset="0.15"/>
<path d="M163.40 429.50 L164.03 429.47 L164.67 429.43 L165.30 429.40 L165.93 429.36 L166.57 429.33 L167.20 429.29 L167.83 429.26 L168.47 429.23 L169.10 429.19 L169.74 429.16 L170.37 429.12 L171.00 429.09 L171.64 429.06 L172.27 429.02 L172.90 428.99 L173.54 428.95 L174.17 428.92 L174.80 428.88 L175.44 428.85 L176.07 428.81 L176.70 428.78 L177.34 428.75 L177.97 428.71 L178.60 428.68 L179.24 428.64 L179.87 428.61 L180.51 428.57 L181.14 428.54 L181.77 428.50 L182.41 428.47 L183.04 428.44 L183.67 428.40 L184.31 428.37 L184.94 428.33 L185.57 428.30 L186.21 428.26 L186.84 428.23 L187.47 428.19 L188.11 428.16 L188.74 428.12 L189.37 428.09 L190.01 428.05 L190.64 428.02 L191.28 427.98 L191.91 427.95 L192.54 427.91 L193.18 427.88 L193.81 427.84 L194.44 427.81 L195.08 427.77 L195.71 427.74 L196.34 427.70 L196.98 427.67 L197.61 427.63 L198.24 427.60 L198.88 427.56 L199.51 427.53 L200.14 427.49 L200.78 427.45 L201.41 427.42 L202.04 427.38 L202.68 427.35 L203.31 427.31 L203.94 427.28 L204.58 427.24 L205.21 427.20 L205.85 427.17 L206.48 427.13 L207.11 427.10 L207.75 427.06 L208.38 427.02 L209.01 426.99 L209.65 426.95 L210.28 426.91 L210.91 426.88 L211.55 426.84 L212.18 426.80 L212.81 426.77 L213.45 426.73 L214.08 426.69 L214.71 426.66 L215.35 426.62 L215.98 426.58 L216.61 426.55 L217.25 426.51 L217.88 426.47 L218.51 426.43 L219.15 426.40 L219.78 426.36 L220.41 426.32 L221.05 426.28 L221.68 426.25 L222.31 426.21 L222.95 426.17 L223.58 426.13 L224.21 426.10 L224.85 426.06 L225.48 426.02 L226.11 425.98 L226.75 425.94 L227.38 425.90 L228.01 425.87 L228.65 425.83 L229.28 425.79 L229.91 425.75 L230.55 425.71 L231.18 425.67 L231.81 425.63 L232.45 425.60 L233.08 425.56 L233.71 425.52 L234.35 425.48 L234.98 425.44 L235.61 425.40 L236.25 425.36 L236.88 425.32 L237.51 425.28 L238.15 425.24 L238.78 425.20 L239.41 425.16 L240.05 425.12 L240.68 425.08 L241.31 425.04 L241.95 425.00 L242.58 424.96 L243.21 424.92 L243.85 424.88 L244.48 424.84 L245.11 424.80 L245.75 424.75 L246.38 424.71 L247.01 424.67 L247.64 424.63 L248.28 424.59 L248.91 424.55 L249.54 424.51 L250.18 424.46 L250.81 424.42 L251.44 424.38 L252.08 424.34 L252.71 424.30 L253.34 424.25 L253.98 424.21 L254.61 424.17 L255.24 424.13 L255.88 424.08 L256.51 424.04 L257.14 424.00 L257.77 423.95 L258.41 423.91 L259.04 423.87 L259.67 423.82 L260.31 423.78 L260.94 423.73 L261.57 423.69 L262.21 423.65 L262.84 423.60 L263.47 423.56 L264.11 423.51 L264.74 423.47 L265.37 423.42 L266.00 423.38 L266.64 423.33 L267.27 423.29 L267.90 423.24 L268.54 423.20 L269.17 423.15 L269.80 423.11 L270.43 423.06 L271.07 423.02 L271.70 422.97 L272.33 422.92 L272.97 422.88 L273.60 422.83 L274.23 422.78 L274.87 422.74 L275.50 422.69 L276.13 422.64 L276.76 422.60 L277.40 422.55 L278.03 422.50 L278.66 422.45 L279.29 422.41 L279.93 422.36 L280.56 422.31 L281.19 422.26 L281.83 422.21 L282.46 422.16 L283.09 422.11 L283.72 422.07 L284.36 422.02 L284.99 421.97 L285.62 421.92 L286.25 421.87 L286.89 421.82 L287.52 421.77 L288.15 421.72 L288.79 421.67 L289.42 421.62 L290.05 421.57 L290.68 421.52 L291.32 421.47 L291.95 421.41 L292.58 421.36 L293.21 421.31 L293.85 421.26 L294.48 421.21 L295.11 421.16 L295.74 421.10 L296.38 421.05 L297.01 421.00 L297.64 420.95 L298.27 420.89 L298.90 420.84 L299.54 420.79 L300.17 420.73 L300.80 420.68 L301.43 420.63 L302.07 420.57 L302.70 420.52 L303.33 420.46 L303.96 420.41 L304.60 420.35 L305.23 420.30 L305.86 420.24 L306.49 420.19 L307.12 420.13 L307.76 420.08 L308.39 420.02 L309.02 419.97 L309.65 419.91 L310.28 419.85 L310.92 419.80 L311.55 419.74 L312.18 419.68 L312.81 419.63 L313.44 419.57 L314.08 419.51 L314.71 419.45 L315.34 419.39 L315.97 419.34 L316.60 419.28 L317.24 419.22 L317.87 419.16 L318.50 419.10 L319.13 419.04 L319.76 418.98 L320.39 418.92 L321.03 418.86 L321.66 418.80 L322.29 418.74 L322.92 418.68 L323.55 418.62 L324.18 418.56 L324.82 418.50 L325.45 418.44 L326.08 418.37 L326.71 418.31 L327.34 418.25 L327.97 418.19 L328.60 418.12 L329.24 418.06 L329.87 418.00 L330.50 417.94 L331.13 417.87 L331.76 417.81 L332.39 417.74 L333.02 417.68 L333.66 417.61 L334.29 417.55 L334.92 417.49 L335.55 417.42 L336.18 417.35 L336.81 417.29 L337.44 417.22 L338.07 417.16 L338.70 417.09 L339.34 417.02 L339.97 416.96 L340.60 416.89 L341.23 416.82 L341.86 416.75 L342.49 416.69 L343.12 416.62 L343.75 416.55 L344.38 416.48 L345.01 416.41 L345.64 416.34 L346.27 416.27 L346.90 416.20 L347.54 416.14 L348.17 416.07 L348.80 415.99 L349.43 415.92 L350.06 415.85 L350.69 415.78 L351.32 415.71 L351.95 415.64 L352.58 415.57 L353.21 415.49 L353.84 415.42 L354.47 415.35 L355.10 415.28 L355.73 415.20 L356.36 415.13 L356.99 415.06 L357.62 414.98 L358.25 414.91 L358.88 414.83 L359.51 414.76 L360.14 414.68 L360.77 414.61 L361.40 414.53 L362.03 414.46 L362.66 414.38 L363.29 414.30 L363.92 414.23 L364.55 414.15 L365.18 414.07 L365.81 413.99 L366.44 413.92 L367.07 413.84 L367.70 413.76 L368.33 413.68 L368.96 413.60 L369.59 413.52 L370.22 413.44 L370.85 413.37 L371.48 413.29 L372.11 413.21 L372.74 413.13 L373.36 413.04 L373.99 412.96 L374.62 412.88 L375.25 412.80 L375.88 412.72 L376.51 412.64 L377.14 412.56 L377.77 412.47 L378.40 412.39 L379.03 412.31 L379.66 412.23 L380.29 412.14 L380.91 412.06 L381.54 411.98 L382.17 411.89 L382.80 411.81 L383.43 411.72 L384.06 411.64 L384.69 411.56 L385.32 411.47 L385.95 411.39 L386.57 411.30 L387.20 411.21 L387.83 411.13 L388.46 411.04 L389.09 410.96 L389.72 410.87 L390.35 410.78 L390.98 410.70 L391.60 410.61 L392.23 410.52 L392.86 410.44 L393.49 410.35 L394.12 410.26 L394.75 410.17 L395.37 410.08 L396.00 410.00 L396.63 409.91 L397.26 409.82 L397.89 409.73 L398.52 409.64 L399.14 409.55 L399.77 409.46 L400.40 409.37 L401.03 409.28 L401.66 409.19 L402.29 409.10 L402.91 409.01 L403.54 408.92 L404.17 408.83 L404.80 408.74 L405.43 408.65 L406.05 408.56 L406.68 408.47 L407.31 408.38 L407.94 408.29 L408.57 408.20 L409.19 408.10 L409.82 408.01 L410.45 407.92 L411.08 407.83 L411.71 407.73 L412.33 407.64 L412.96 407.55 L413.59 407.46 L414.22 407.36 L414.84 407.27 L415.47 407.18 L416.10 407.08 L416.73 406.99 L417.35 406.90 L417.98 406.80 L418.61 406.71 L419.24 406.62 L419.87 406.52 L420.49 406.43 L421.12 406.33 L421.75 406.24 L422.38 406.14 L423.00 406.05 L423.63 405.95 L424.26 405.86 L424.88 405.76 L425.51 405.67 L426.14 405.57 L426.77 405.48 L427.39 405.38 L428.02 405.29 L428.65 405.19 L429.28 405.09 L429.90 405.00 L430.53 404.90 L431.16 404.81 L431.78 404.71 L432.41 404.61 L433.04 404.52 L433.67 404.42 L434.29 404.32 L434.92 404.23 L435.55 404.13 L436.17 404.03 L436.80 403.94 L437.43 403.84 L438.06 403.74 L438.68 403.64 L439.31 403.55 L439.94 403.45 L440.56 403.35 L441.19 403.26 L441.82 403.16 L442.44 403.06 L443.07 402.96 L443.70 402.86 L444.33 402.77 L444.95 402.67 L445.58 402.57 L446.21 402.47 L446.83 402.37 L447.46 402.28 L448.09 402.18 L448.71 402.08 L449.34 401.98 L449.97 401.88 L450.59 401.78 L451.22 401.69 L451.85 401.59 L452.47 401.49 L453.10 401.39 L453.73 401.29 L454.35 401.19 L454.98 401.09 L455.61 400.99 L456.23 400.90 L456.86 400.80 L457.49 400.70 L458.11 400.60 L458.74 400.50 L459.37 400.40 L459.99 400.30 L460.62 400.20 L461.25 400.10 L461.87 400.00 L462.50 399.90 L463.13 399.81 L463.75 399.71 L464.38 399.61 L465.01 399.51 L465.63 399.41 L466.26 399.31 L466.89 399.21 L467.51 399.11 L468.14 399.02 L468.77 398.92 L469.39 398.82 L470.02 398.72 L470.65 398.63 L471.27 398.53 L471.90 398.43 L472.53 398.33 L473.15 398.24 L473.78 398.14 L474.41 398.05 L475.04 397.95 L475.66 397.86 L476.29 397.76 L476.92 397.67 L477.54 397.57 L478.17 397.48 L478.80 397.39 L479.43 397.29 L480.06 397.20 L480.68 397.11 L481.31 397.02 L481.94 396.93 L482.57 396.84 L483.20 396.75 L483.82 396.66 L484.45 396.57 L485.08 396.48" fill="none" stroke="#2e8b57" stroke-width="4.60" stroke-dasharray="1.689 2.478 8.633 2.478 1.689 2.478" stroke-dashoffset="0.15"/>
<path d="M485.71 396.39 L486.34 396.31 L486.97 396.22 L487.60 396.13 L488.23 396.05 L488.86 395.97 L489.49 395.88 L490.12 395.80 L490.75 395.72 L491.38 395.64 L492.01 395.56 L492.64 395.48 L493.27 395.40 L493.90 395.32 L494.53 395.24 L495.16 395.17 L495.79 395.09 L496.42 395.02 L497.05 394.95 L497.68 394.87 L498.31 394.80 L498.94 394.73 L499.57 394.67 L500.21 394.60 L500.84 394.53 L501.47 394.47 L502.10 394.41 L502.73 394.35 L503.37 394.29 L504.00 394.23 L504.63 394.17 L505.26 394.12 L505.89 394.06 L506.53 394.01 L507.16 393.96 L507.79 393.91 L508.43 393.86 L509.06 393.82 L509.69 393.77 L510.32 393.73 L510.96 393.69 L511.59 393.65 L512.22 393.61 L512.86 393.58 L513.49 393.55 L514.12 393.52 L514.76 393.49 L515.39 393.46 L516.02 393.44 L516.66 393.41 L517.29 393.39 L517.93 393.38 L518.56 393.36 L519.19 393.35 L519.83 393.33 L520.46 393.32 L521.09 393.32 L521.73 393.31 L522.36 393.30 L523.00 393.30 L523.63 393.30 L524.27 393.30 L524.90 393.30 L525.53 393.31 L526.17 393.31 L526.80 393.32 L527.44 393.32 L528.07 393.33 L528.71 393.34 L529.34 393.35 L529.98 393.36 L530.61 393.38 L531.24 393.39 L531.88 393.41 L532.51 393.42 L533.15 393.44 L533.78 393.46 L534.42 393.47 L535.05 393.49 L535.69 393.51 L536.32 393.53 L536.96 393.55 L537.59 393.57 L538.23 393.59 L538.86 393.61 L539.50 393.64 L540.13 393.66 L540.77 393.68 L541.40 393.70" fill="none" stroke="#2e8b57" stroke-width="4.60" stroke-dasharray="1.689 2.478 8.633 2.478 1.689 2.478" stroke-dashoffset="4.32"/>
<path d="M940.10 223.50 L939.75 223.64 L939.40 223.78 L939.05 223.92 L938.70 224.06 L938.35 224.20 L938.01 224.34 L937.66 224.48 L937.31 224.62 L936.96 224.77 L936.61 224.91 L936.26 225.05 L935.91 225.19 L935.56 225.33 L935.21 225.47 L934.86 225.61 L934.51 225.75 L934.16 225.89 L933.82 226.03 L933.47 226.17 L933.12 226.31 L932.77 226.45 L932.42 226.59 L932.07 226.73 L931.72 226.87 L931.37 227.01 L931.02 227.16 L930.67 227.30 L930.32 227.44 L929.97 227.58 L929.63 227.72 L929.28 227.86 L928.93 228.00 L928.58 228.14 L928.23 228.28 L927.88 228.42 L927.53 228.56 L927.18 228.70 L926.83 228.84 L926.48 228.98 L926.13 229.13 L925.79 229.27 L925.44 229.41 L925.09 229.55 L924.74 229.69 L924.39 229.83 L924.04 229.97 L923.69 230.11 L923.34 230.25 L922.99 230.39 L922.64 230.53 L922.30 230.67 L921.95 230.82 L921.60 230.96 L921.25 231.10 L920.90 231.24 L920.55 231.38 L920.20 231.52 L919.85 231.66 L919.50 231.80 L919.15 231.94 L918.81 232.08 L918.46 232.23 L918.11 232.37 L917.76 232.51 L917.41 232.65 L917.06 232.79 L916.71 232.93 L916.36 233.07 L916.01 233.21 L915.66 233.35 L915.32 233.50 L914.97 233.64 L914.62 233.78 L914.27 233.92 L913.92 234.06 L913.57 234.20 L913.22 234.34 L912.87 234.48 L912.53 234.63 L912.18 234.77 L911.83 234.91 L911.48 235.05 L911.13 235.19 L910.78 235.33 L910.43 235.48 L910.08 235.62 L909.74 235.76 L909.39 235.90 L909.04 236.04 L908.69 236.18 L908.34 236.32 L907.99 236.47 L907.64 236.61 L907.29 236.75 L906.95 236.89 L906.60 237.03 L906.25 237.18 L905.90 237.32 L905.55 237.46 L905.20 237.60 L904.85 237.74 L904.51 237.88 L904.16 238.03 L903.81 238.17 L903.46 238.31 L903.11 238.45 L902.76 238.60 L902.41 238.74 L902.07 238.88 L901.72 239.02 L901.37 239.16 L901.02 239.31 L900.67 239.45 L900.32 239.59 L899.98 239.73 L899.63 239.88 L899.28 240.02 L898.93 240.16 L898.58 240.30 L898.23 240.45 L897.88 240.59 L897.54 240.73 L897.19 240.87 L896.84 241.02 L896.49 241.16 L896.14 241.30 L895.80 241.44 L895.45 241.59 L895.10 241.73 L894.75 241.87 L894.40 242.01 L894.05 242.16 L893.71 242.30 L893.36 242.44 L893.01 242.59 L892.66 242.73 L892.31 242.87 L891.97 243.02 L891.62 243.16 L891.27 243.30 L890.92 243.45 L890.57 243.59 L890.23 243.73 L889.88 243.88 L889.53 244.02 L889.18 244.16 L888.83 244.31 L888.49 244.45 L888.14 244.59 L887.79 244.74 L887.44 244.88 L887.09 245.02 L886.75 245.17 L886.40 245.31 L886.05 245.46 L885.70 245.60 L885.35 245.74 L885.01 245.89 L884.66 246.03 L884.31 246.18 L883.96 246.32 L883.62 246.46 L883.27 246.61 L882.92 246.75 L882.57 246.90 L882.23 247.04 L881.88 247.18 L881.53 247.33 L881.18 247.47 L880.84 247.62 L880.49 247.76 L880.14 247.91 L879.79 248.05 L879.45 248.20 L879.10 248.34 L878.75 248.49 L878.40 248.63 L878.06 248.78 L877.71 248.92 L877.36 249.07 L877.01 249.21 L876.67 249.36 L876.32 249.50 L875.97 249.65 L875.63 249.79 L875.28 249.94 L874.93 250.08 L874.58 250.23 L874.24 250.37 L873.89 250.52 L873.54 250.66 L873.20 250.81 L872.85 250.95 L872.50 251.10 L872.15 251.25 L871.81 251.39 L871.46 251.54 L871.11 251.68 L870.77 251.83 L870.42 251.98 L870.07 252.12 L869.73 252.27 L869.38 252.41 L869.03 252.56 L868.69 252.71 L868.34 252.85 L867.99 253.00 L867.65 253.15 L867.30 253.29 L866.95 253.44 L866.61 253.58 L866.26 253.73 L865.91 253.88 L865.57 254.02 L865.22 254.17 L864.87 254.32 L864.53 254.47 L864.18 254.61 L863.83 254.76 L863.49 254.91 L863.14 255.05 L862.79 255.20 L862.45 255.35 L862.10 255.50 L861.75 255.64 L861.41 255.79 L861.06 255.94 L860.72 256.08 L860.37 256.23 L860.02 256.38 L859.68 256.53 L859.33 256.67 L858.98 256.82 L858.64 256.97 L858.29 257.12 L857.95 257.26 L857.60 257.41 L857.25 257.56 L856.91 257.71 L856.56 257.86 L856.22 258.00 L855.87 258.15 L855.52 258.30 L855.18 258.45 L854.83 258.60 L854.48 258.74 L854.14 258.89 L853.79 259.04 L853.45 259.19 L853.10 259.34 L852.75 259.48 L852.41 259.63 L852.06 259.78 L851.72 259.93 L851.37 260.08 L851.03 260.22 L850.68 260.37 L850.33 260.52 L849.99 260.67 L849.64 260.82 L849.30 260.97 L848.95 261.11 L848.60 261.26 L848.26 261.41 L847.91 261.56 L847.57 261.71 L847.22 261.86 L846.87 262.00 L846.53 262.15 L846.18 262.30 L845.84 262.45 L845.49 262.60 L845.14 262.75 L844.80 262.90 L844.45 263.04 L844.11 263.19 L843.76 263.34 L843.42 263.49 L843.07 263.64 L842.72 263.79 L842.38 263.94 L842.03 264.08 L841.69 264.23 L841.34 264.38 L840.99 264.53 L840.65 264.68 L840.30 264.83 L839.96 264.97 L839.61 265.12 L839.27 265.27 L838.92 265.42 L838.57 265.57 L838.23 265.72 L837.88 265.87 L837.54 266.01 L837.19 266.16 L836.84 266.31 L836.50 266.46 L836.15 266.61 L835.81 266.76 L835.46 266.91 L835.12 267.05 L834.77 267.20 L834.42 267.35 L834.08 267.50 L833.73 267.65 L833.39 267.80 L833.04 267.94 L832.69 268.09 L832.35 268.24 L832.00 268.39 L831.66 268.54 L831.31 268.69 L830.96 268.83 L830.62 268.98 L830.27 269.13 L829.93 269.28 L829.58 269.43 L829.23 269.57 L828.89 269.72 L828.54 269.87 L828.20 270.02 L827.85 270.17 L827.50 270.32 L827.16 270.46 L826.81 270.61 L826.47 270.76 L826.12 270.91 L825.77 271.05 L825.43 271.20 L825.08 271.35 L824.74 271.50 L824.39 271.65 L824.04 271.79 L823.70 271.94 L823.35 272.09 L823.00 272.24 L822.66 272.38 L822.31 272.53 L821.97 272.68 L821.62 272.83 L821.27 272.97 L820.93 273.12 L820.58 273.27 L820.23 273.42 L819.89 273.56 L819.54 273.71 L819.20 273.86 L818.85 274.00 L818.50 274.15 L818.16 274.30 L817.81 274.45 L817.46 274.59 L817.12 274.74 L816.77 274.89 L816.42 275.03 L816.08 275.18 L815.73 275.33 L815.38 275.47 L815.04 275.62 L814.69 275.77 L814.34 275.91 L814.00 276.06 L813.65 276.21 L813.30 276.35 L812.96 276.50 L812.61 276.64 L812.26 276.79 L811.92 276.94 L811.57 277.08 L811.22 277.23 L810.88 277.37 L810.53 277.52 L810.18 277.67 L809.83 277.81 L809.49 277.96 L809.14 278.10 L808.79 278.25 L808.45 278.39 L808.10 278.54 L807.75 278.68 L807.40 278.83 L807.06 278.98 L806.71 279.12 L806.36 279.27 L806.02 279.41 L805.67 279.56 L805.32 279.70 L804.97 279.84 L804.63 279.99 L804.28 280.13 L803.93 280.28 L803.58 280.42 L803.24 280.57 L802.89 280.71 L802.54 280.86 L802.19 281.00 L801.84 281.14 L801.50 281.29 L801.15 281.43 L800.80 281.58 L800.45 281.72 L800.11 281.87 L799.76 282.01 L799.41 282.15 L799.06 282.30 L798.71 282.44 L798.37 282.58 L798.02 282.73 L797.67 282.87 L797.32 283.02 L796.98 283.16 L796.63 283.30 L796.28 283.45 L795.93 283.59 L795.58 283.73 L795.24 283.88 L794.89 284.02 L794.54 284.16 L794.19 284.31 L793.84 284.45 L793.50 284.59 L793.15 284.74 L792.80 284.88 L792.45 285.02 L792.10 285.17 L791.76 285.31 L791.41 285.45 L791.06 285.60 L790.71 285.74 L790.36 285.88 L790.02 286.03 L789.67 286.17 L789.32 286.31 L788.97 286.46 L788.62 286.60 L788.28 286.74 L787.93 286.89 L787.58 287.03 L787.23 287.17 L786.88 287.32 L786.53 287.46 L786.19 287.60 L785.84 287.75 L785.49 287.89 L785.14 288.03 L784.79 288.18 L784.45 288.32 L784.10 288.46 L783.75 288.61 L783.40 288.75 L783.06 288.89 L782.71 289.04 L782.36 289.18 L782.01 289.33 L781.66 289.47 L781.32 289.61 L780.97 289.76 L780.62 289.90 L780.27 290.04 L779.92 290.19 L779.58 290.33 L779.23 290.48 L778.88 290.62 L778.53 290.76 L778.19 290.91 L777.84 291.05 L777.49 291.20 L777.14 291.34 L776.80 291.49 L776.45 291.63 L776.10 291.78 L775.75 291.92 L775.41 292.06 L775.06 292.21 L774.71 292.35 L774.36 292.50 L774.02 292.64 L773.67 292.79 L773.32 292.93 L772.97 293.08 L772.63 293.22 L772.28 293.37 L771.93 293.51 L771.59 293.66 L771.24 293.81 L770.89 293.95 L770.54 294.10 L770.20 294.24 L769.85 294.39 L769.50 294.53 L769.16 294.68 L768.81 294.83 L768.46 294.97 L768.12 295.12 L767.77 295.27 L767.42 295.41 L767.08 295.56 L766.73 295.71 L766.38 295.85 L766.04 296.00 L765.69 296.15 L765.34 296.29 L765.00 296.44 L764.65 296.59 L764.30 296.74 L763.96 296.88 L763.61 297.03 L763.27 297.18 L762.92 297.33 L762.57 297.48 L762.23 297.62 L761.88 297.77 L761.54 297.92 L761.19 298.07 L760.84 298.22 L760.50 298.37 L760.15 298.52 L759.81 298.67 L759.46 298.81 L759.12 298.96 L758.77 299.11 L758.43 299.26 L758.08 299.41 L757.74 299.56 L757.39 299.71 L757.05 299.86 L756.70 300.01 L756.36 300.16 L756.01 300.32 L755.67 300.47 L755.32 300.62 L754.98 300.77 L754.63 300.92 L754.29 301.07 L753.94 301.22 L753.60 301.37 L753.25 301.53 L752.91 301.68 L752.57 301.83 L752.22 301.98 L751.88 302.14 L751.53 302.29 L751.19 302.44 L750.85 302.60 L750.50 302.75 L750.16 302.90 L749.81 303.06 L749.47 303.21 L749.13 303.36 L748.78 303.52 L748.44 303.67 L748.10 303.83 L747.75 303.98 L747.41 304.14 L747.07 304.29 L746.73 304.45 L746.38 304.60 L746.04 304.76 L745.70 304.92 L745.36 305.07 L745.01 305.23 L744.67 305.39 L744.33 305.54 L743.99 305.70 L743.64 305.86 L743.30 306.01 L742.96 306.17 L742.62 306.33 L742.28 306.49 L741.93 306.65 L741.59 306.81 L741.25 306.96 L740.91 307.12 L740.57 307.28 L740.23 307.44 L739.89 307.60 L739.55 307.76 L739.20 307.92 L738.86 308.08 L738.52 308.24 L738.18 308.40 L737.84 308.56 L737.50 308.72 L737.16 308.88 L736.82 309.04 L736.48 309.20 L736.14 309.36 L735.80 309.53 L735.46 309.69 L735.12 309.85 L734.78 310.01 L734.44 310.17 L734.10 310.33 L733.76 310.49 L733.41 310.66 L733.07 310.82 L732.73 310.98 L732.39 311.14 L732.05 311.30 L731.71 311.47 L731.37 311.63 L731.03 311.79 L730.69 311.95 L730.35 312.11 L730.01 312.28 L729.67 312.44 L729.33 312.60 L728.99 312.76 L728.65 312.92 L728.31 313.09 L727.97 313.25 L727.63 313.41 L727.29 313.57 L726.95 313.73 L726.61 313.90 L726.27 314.06 L725.93 314.22 L725.59 314.38 L725.25 314.54 L724.91 314.71 L724.57 314.87 L724.23 315.03 L723.89 315.19 L723.55 315.35 L723.21 315.51 L722.87 315.67 L722.53 315.83 L722.19 316.00 L721.85 316.16 L721.51 316.32 L721.17 316.48 L720.83 316.64 L720.49 316.80 L720.15 316.96 L719.81 317.12 L719.46 317.28 L719.12 317.44 L718.78 317.60 L718.44 317.76 L718.10 317.92 L717.76 318.08 L717.42 318.23 L717.08 318.39 L716.73 318.55 L716.39 318.71 L716.05 318.87 L715.71 319.03 L715.37 319.18 L715.03 319.34 L714.68 319.50 L714.34 319.66 L714.00 319.81 L713.66 319.97 L713.31 320.13 L712.97 320.28 L712.63 320.44 L712.29 320.59 L711.94 320.75 L711.60 320.90 L711.26 321.06 L710.92 321.21 L710.57 321.37 L710.23 321.52 L709.88 321.67 L709.54 321.83 L709.20 321.98 L708.85 322.13 L708.51 322.28 L708.17 322.44 L707.82 322.59 L707.48 322.74 L707.13 322.89 L706.79 323.04 L706.44 323.19 L706.10 323.34 L705.75 323.49 L705.41 323.64 L705.06 323.79 L704.72 323.94 L704.37 324.08 L704.02 324.23 L703.68 324.38 L703.33 324.53 L702.98 324.67 L702.64 324.82 L702.29 324.96 L701.94 325.11 L701.60 325.25 L701.25 325.40 L700.90 325.54 L700.55 325.69 L700.21 325.83 L699.86 325.97 L699.51 326.11 L699.16 326.25 L698.81 326.40 L698.46 326.54 L698.11 326.68 L697.77 326.82 L697.42 326.95 L697.07 327.09 L696.72 327.23 L696.37 327.37 L696.02 327.51 L695.66 327.64 L695.31 327.78 L694.96 327.91 L694.61 328.05 L694.26 328.18 L693.91 328.32 L693.56 328.45 L693.20 328.58 L692.85 328.72 L692.50 328.85 L692.15 328.98 L691.80 329.11 L691.44 329.24 L691.09 329.38 L690.74 329.51 L690.38 329.64 L690.03 329.77 L689.68 329.90 L689.33 330.03 L688.97 330.16 L688.62 330.29 L688.27 330.42 L687.91 330.55 L687.56 330.68 L687.21 330.82 L686.85 330.95 L686.50 331.08 L686.15 331.21 L685.80 331.34 L685.44 331.47 L685.09 331.61 L684.74 331.74 L684.39 331.87 L684.04 332.00 L683.68 332.14 L683.33 332.27 L682.98 332.41 L682.63 332.54 L682.28 332.68 L681.93 332.82 L681.58 332.95 L681.23 333.09 L680.88 333.23 L680.53 333.37 L680.18 333.51 L679.83 333.65 L679.48 333.79 L679.13 333.93 L678.78 334.08 L678.44 334.22 L678.09 334.36 L677.74 334.51 L677.39 334.65 L677.05 334.80 L676.70 334.94 L676.35 335.09 L676.01 335.24 L675.66 335.38 L675.32 335.53 L674.97 335.68 L674.62 335.83 L674.28 335.98 L673.93 336.13 L673.59 336.28 L673.24 336.43 L672.90 336.58 L672.55 336.73 L672.21 336.88 L671.86 337.03 L671.52 337.19 L671.18 337.34 L670.83 337.49 L670.49 337.64 L670.14 337.79 L669.80 337.95 L669.45 338.10 L669.11 338.25 L668.77 338.41 L668.42 338.56 L668.08 338.71 L667.73 338.87 L667.39 339.02 L667.05 339.17 L666.70 339.32 L666.36 339.48 L666.01 339.63 L665.67 339.78 L665.33 339.94 L664.98 340.09 L664.64 340.24 L664.29 340.39 L663.95 340.55 L663.60 340.70 L663.26 340.85 L662.92 341.00 L662.57 341.15 L662.23 341.30 L661.88 341.45 L661.54 341.60 L661.19 341.76 L660.85 341.91 L660.50 342.06 L660.16 342.20 L659.81 342.35 L659.46 342.50 L659.12 342.65 L658.77 342.80 L658.43 342.95 L658.08 343.10 L657.73 343.25 L657.39 343.39 L657.04 343.54 L656.70 343.69 L656.35 343.83 L656.00 343.98 L655.66 344.13 L655.31 344.27 L654.96 344.42 L654.61 344.56 L654.27 344.71 L653.92 344.85 L653.57 345.00 L653.22 345.14 L652.88 345.29 L652.53 345.43 L652.18 345.57 L651.83 345.72 L651.48 345.86 L651.14 346.00 L650.79 346.14 L650.44 346.28 L650.09 346.43 L649.74 346.57 L649.39 346.71 L649.04 346.85 L648.69 346.99 L648.34 347.13 L647.99 347.27 L647.64 347.41 L647.29 347.55 L646.94 347.69 L646.59 347.82 L646.24 347.96 L645.89 348.10 L645.54 348.24 L645.19 348.37 L644.84 348.51 L644.49 348.64 L644.14 348.78 L643.79 348.92 L643.44 349.05 L643.09 349.18 L642.73 349.32 L642.38 349.45 L642.03 349.58 L641.68 349.72 L641.32 349.85 L640.97 349.98 L640.62 350.11 L640.27 350.24 L639.91 350.37 L639.56 350.50 L639.20 350.63 L638.85 350.76 L638.50 350.88 L638.14 351.01 L637.79 351.14 L637.43 351.26 L637.08 351.39 L636.72 351.51 L636.37 351.63 L636.01 351.76 L635.65 351.88 L635.30 352.00 L634.94 352.12 L634.58 352.24 L634.23 352.36 L633.87 352.48 L633.51 352.59 L633.15 352.71 L632.80 352.83 L632.44 352.94 L632.08 353.05 L631.72 353.17 L631.36 353.28 L631.00 353.39 L630.64 353.50 L630.28 353.61 L629.92 353.72 L629.56 353.82 L629.20 353.93 L628.84 354.03 L628.47 354.14 L628.11 354.24 L627.75 354.34 L627.39 354.44 L627.02 354.54 L626.66 354.64 L626.29 354.73 L625.93 354.83 L625.56 354.92 L625.20 355.01 L624.83 355.10 L624.47 355.19 L624.10 355.28 L623.74 355.37 L623.37 355.45 L623.00 355.54 L622.63 355.62 L622.26 355.70 L621.90 355.78 L621.53 355.86 L621.16 355.93 L620.79 356.00 L620.42 356.08 L620.05 356.15 L619.68 356.21 L619.31 356.28 L618.93 356.34 L618.56 356.41 L618.19 356.47 L617.82 356.52 L617.45 356.58 L617.07 356.63 L616.70 356.68 L616.33 356.73 L615.95 356.78 L615.58 356.82 L615.20 356.86 L614.83 356.90 L614.45 356.94 L614.08 356.97 L613.70 357.00 L613.33 357.03 L612.95 357.05 L612.57 357.08 L612.20 357.10 L611.82 357.11 L611.44 357.13 L611.07 357.14 L610.69 357.14 L610.31 357.15 L609.93 357.15 L609.55 357.15 L609.18 357.14 L608.80 357.13 L608.42 357.12 L608.04 357.11 L607.67 357.09 L607.29 357.07 L606.91 357.04 L606.54 357.01 L606.16 356.98 L605.79 356.95 L605.41 356.91 L605.04 356.86 L604.66 356.82 L604.29 356.77 L603.91 356.72 L603.54 356.66 L603.17 356.60 L602.80 356.53 L602.43 356.46 L602.06 356.39 L601.69 356.32 L601.32 356.24 L600.96 356.15 L600.59 356.06 L600.22 355.97 L599.86 355.88 L599.50 355.78 L599.13 355.68 L598.77 355.57 L598.41 355.46 L598.05 355.35 L597.69 355.23 L597.34 355.11 L596.98 354.99 L596.63 354.86 L596.27 354.73 L595.92 354.59 L595.57 354.46 L595.22 354.32 L594.87 354.17 L594.52 354.02 L594.17 353.87 L593.82 353.72 L593.48 353.56 L593.14 353.40 L592.79 353.24 L592.45 353.08 L592.11 352.91 L591.78 352.74 L591.44 352.56 L591.10 352.38 L590.77 352.20 L590.44 352.02 L590.11 351.83 L589.78 351.64 L589.45 351.45 L589.13 351.25 L588.80 351.05 L588.48 350.85 L588.16 350.65 L587.85 350.44 L587.53 350.23 L587.22 350.01 L586.91 349.80 L586.60 349.58 L586.29 349.35 L585.99 349.13 L585.69 348.90 L585.39 348.67 L585.10 348.43 L584.81 348.19 L584.52 347.95 L584.23 347.71 L583.94 347.46 L583.66 347.21 L583.39 346.96 L583.11 346.70 L582.84 346.44 L582.57 346.18 L582.30 345.91 L582.04 345.64 L581.78 345.37 L581.53 345.09 L581.28 344.82 L581.03 344.54 L580.78 344.25 L580.54 343.97 L580.29 343.68 L580.05 343.39 L579.82 343.10 L579.58 342.80 L579.35 342.51 L579.12 342.21 L578.89 341.92 L578.66 341.62 L578.43 341.32 L578.20 341.02 L577.97 340.71 L577.75 340.41 L577.52 340.11 L577.30 339.81 L577.07 339.50 L576.85 339.20 L576.62 338.89 L576.39 338.59 L576.17 338.29 L575.94 337.99 L575.71 337.68 L575.49 337.38 L575.26 337.08 L575.04 336.78 L574.81 336.47 L574.59 336.17 L574.36 335.86 L574.14 335.56 L573.92 335.25 L573.70 334.95 L573.48 334.64 L573.27 334.33 L573.05 334.02 L572.84 333.71 L572.63 333.40 L572.43 333.08 L572.23 332.77 L572.03 332.45 L571.83 332.13 L571.64 331.81 L571.45 331.49 L571.26 331.16 L571.08 330.83 L570.90 330.50 L570.73 330.17 L570.56 329.84 L570.39 329.50 L570.22 329.17 L570.05 328.83 L569.88 328.49 L569.72 328.15 L569.55 327.81 L569.39 327.48 L569.22 327.14 L569.05 326.80 L568.89 326.46 L568.72 326.13 L568.55 325.79 L568.37 325.46 L568.19 325.12 L568.01 324.79 L567.83 324.46 L567.64 324.14 L567.45 323.81 L567.25 323.49 L567.05 323.17 L566.85 322.85 L566.64 322.53 L566.43 322.22 L566.22 321.90 L566.01 321.58 L565.80 321.27" fill="none" stroke="#2e8b57" stroke-width="4.60" stroke-dasharray="1.689 2.478 8.633 2.478 1.689 2.478" stroke-dashoffset="0.15"/>
<path d="M564.56 318.97 L564.42 318.62 L564.29 318.27 L564.18 317.92 L564.07 317.56 L563.98 317.19 L563.89 316.83 L563.80 316.46 L563.73 316.09 L563.65 315.71 L563.59 315.34 L563.52 314.96 L563.46 314.59 L563.41 314.21 L563.35 313.83 L563.29 313.46 L563.24 313.08 L563.18 312.70 L563.12 312.33 L563.07 311.95 L563.01 311.58 L562.96 311.21 L562.90 310.84 L562.84 310.46 L562.79 310.09 L562.74 309.72 L562.68 309.35 L562.63 308.98 L562.58 308.60 L562.52 308.23 L562.47 307.86 L562.42 307.49 L562.37 307.12 L562.33 306.75 L562.28 306.37 L562.24 306.00 L562.19 305.63 L562.15 305.26 L562.11 304.88 L562.07 304.51 L562.03 304.14 L561.99 303.76 L561.96 303.39 L561.92 303.01 L561.89 302.64 L561.86 302.26 L561.82 301.89 L561.79 301.51 L561.76 301.14 L561.74 300.76 L561.71 300.39 L561.68 300.01 L561.65 299.63 L561.63 299.26 L561.61 298.88 L561.58 298.51 L561.56 298.13 L561.54 297.75 L561.52 297.38 L561.49 297.00 L561.47 296.62 L561.45 296.25 L561.44 295.87 L561.42 295.50 L561.40 295.12 L561.38 294.74 L561.36 294.37 L561.35 293.99 L561.33 293.62 L561.31 293.24 L561.30 292.86 L561.28 292.49 L561.27 292.11 L561.25 291.74 L561.24 291.36 L561.22 290.98 L561.21 290.61 L561.19 290.23 L561.18 289.86 L561.17 289.48 L561.15 289.10 L561.14 288.73 L561.13 288.35 L561.11 287.98 L561.10 287.60" fill="none" stroke="#2e8b57" stroke-width="4.60"/>
<path d="M163.40 429.50 L164.03 429.47 L164.67 429.43 L165.30 429.40 L165.93 429.36 L166.57 429.33 L167.20 429.29 L167.83 429.26 L168.47 429.23 L169.10 429.19 L169.74 429.16 L170.37 429.12 L171.00 429.09 L171.64 429.06 L172.27 429.02 L172.90 428.99 L173.54 428.95 L174.17 428.92 L174.80 428.88 L175.44 428.85 L176.07 428.81 L176.70 428.78 L177.34 428.75 L177.97 428.71 L178.60 428.68 L179.24 428.64 L179.87 428.61 L180.51 428.57 L181.14 428.54 L181.77 428.50 L182.41 428.47 L183.04 428.44 L183.67 428.40 L184.31 428.37 L184.94 428.33 L185.57 428.30 L186.21 428.26 L186.84 428.23 L187.47 428.19 L188.11 428.16 L188.74 428.12 L189.37 428.09 L190.01 428.05 L190.64 428.02 L191.28 427.98 L191.91 427.95 L192.54 427.91 L193.18 427.88 L193.81 427.84 L194.44 427.81 L195.08 427.77 L195.71 427.74 L196.34 427.70 L196.98 427.67 L197.61 427.63 L198.24 427.60 L198.88 427.56 L199.51 427.53 L200.14 427.49 L200.78 427.45 L201.41 427.42 L202.04 427.38 L202.68 427.35 L203.31 427.31 L203.94 427.28 L204.58 427.24 L205.21 427.20 L205.85 427.17 L206.48 427.13 L207.11 427.10 L207.75 427.06 L208.38 427.02 L209.01 426.99 L209.65 426.95 L210.28 426.91 L210.91 426.88 L211.55 426.84 L212.18 426.80 L212.81 426.77 L213.45 426.73 L214.08 426.69 L214.71 426.66 L215.35 426.62 L215.98 426.58 L216.61 426.55 L217.25 426.51 L217.88 426.47 L218.51 426.43 L219.15 426.40 L219.78 426.36 L220.41 426.32 L221.05 426.28 L221.68 426.25 L222.31 426.21 L222.95 426.17 L223.58 426.13 L224.21 426.10 L224.85 426.06 L225.48 426.02 L226.11 425.98 L226.75 425.94 L227.38 425.90 L228.01 425.87 L228.65 425.83 L229.28 425.79 L229.91 425.75 L230.55 425.71 L231.18 425.67 L231.81 425.63 L232.45 425.60 L233.08 425.56 L233.71 425.52 L234.35 425.48 L234.98 425.44 L235.61 425.40 L236.25 425.36 L236.88 425.32 L237.51 425.28 L238.15 425.24 L238.78 425.20 L239.41 425.16 L240.05 425.12 L240.68 425.08 L241.31 425.04 L241.95 425.00 L242.58 424.96 L243.21 424.92 L243.85 424.88 L244.48 424.84 L245.11 424.80 L245.75 424.75 L246.38 424.71 L247.01 424.67 L247.64 424.63 L248.28 424.59 L248.91 424.55 L249.54 424.51 L250.18 424.46 L250.81 424.42 L251.44 424.38 L252.08 424.34 L252.71 424.30 L253.34 424.25 L253.98 424.21 L254.61 424.17 L255.24 424.13 L255.88 424.08 L256.51 424.04 L257.14 424.00 L257.77 423.95 L258.41 423.91 L259.04 423.87 L259.67 423.82 L260.31 423.78 L260.94 423.73 L261.57 423.69 L262.21 423.65 L262.84 423.60 L263.47 423.56 L264.11 423.51 L264.74 423.47 L265.37 423.42 L266.00 423.38 L266.64 423.33 L267.27 423.29 L267.90 423.24 L268.54 423.20 L269.17 423.15 L269.80 423.11 L270.43 423.06 L271.07 423.02 L271.70 422.97 L272.33 422.92 L272.97 422.88 L273.60 422.83 L274.23 422.78 L274.87 422.74 L275.50 422.69 L276.13 422.64 L276.76 422.60 L277.40 422.55 L278.03 422.50 L278.66 422.45 L279.29 422.41 L279.93 422.36 L280.56 422.31 L281.19 422.26 L281.83 422.21 L282.46 422.16 L283.09 422.11 L283.72 422.07 L284.36 422.02 L284.99 421.97 L285.62 421.92 L286.25 421.87 L286.89 421.82 L287.52 421.77 L288.15 421.72 L288.79 421.67 L289.42 421.62 L290.05 421.57 L290.68 421.52 L291.32 421.47 L291.95 421.41 L292.58 421.36 L293.21 421.31 L293.85 421.26 L294.48 421.21 L295.11 421.16 L295.74 421.10 L296.38 421.05 L297.01 421.00 L297.64 420.95 L298.27 420.89 L298.90 420.84 L299.54 420.79 L300.17 420.73 L300.80 420.68 L301.43 420.63 L302.07 420.57 L302.70 420.52 L303.33 420.46 L303.96 420.41 L304.60 420.35 L305.23 420.30 L305.86 420.24 L306.49 420.19 L307.12 420.13 L307.76 420.08 L308.39 420.02 L309.02 419.97 L309.65 419.91 L310.28 419.85 L310.92 419.80 L311.55 419.74 L312.18 419.68 L312.81 419.63 L313.44 419.57 L314.08 419.51 L314.71 419.45 L315.34 419.39 L315.97 419.34 L316.60 419.28 L317.24 419.22 L317.87 419.16 L318.50 419.10 L319.13 419.04 L319.76 418.98 L320.39 418.92 L321.03 418.86 L321.66 418.80 L322.29 418.74 L322.92 418.68 L323.55 418.62 L324.18 418.56 L324.82 418.50 L325.45 418.44 L326.08 418.37 L326.71 418.31 L327.34 418.25 L327.97 418.19 L328.60 418.12 L329.24 418.06 L329.87 418.00 L330.50 417.94 L331.13 417.87 L331.76 417.81 L332.39 417.74 L333.02 417.68 L333.66 417.61 L334.29 417.55 L334.92 417.49 L335.55 417.42 L336.18 417.35 L336.81 417.29 L337.44 417.22 L338.07 417.16 L338.70 417.09 L339.34 417.02 L339.97 416.96 L340.60 416.89 L341.23 416.82 L341.86 416.75 L342.49 416.69 L343.12 416.62 L343.75 416.55 L344.38 416.48 L345.01 416.41 L345.64 416.34 L346.27 416.27 L346.90 416.20 L347.54 416.14 L348.17 416.07 L348.80 415.99 L349.43 415.92 L350.06 415.85 L350.69 415.78 L351.32 415.71 L351.95 415.64 L352.58 415.57 L353.21 415.49 L353.84 415.42 L354.47 415.35 L355.10 415.28 L355.73 415.20 L356.36 415.13 L356.99 415.06 L357.62 414.98 L358.25 414.91 L358.88 414.83 L359.51 414.76 L360.14 414.68 L360.77 414.61 L361.40 414.53 L362.03 414.46 L362.66 414.38 L363.29 414.30 L363.92 414.23 L364.55 414.15 L365.18 414.07 L365.81 413.99 L366.44 413.92 L367.07 413.84 L367.70 413.76 L368.33 413.68 L368.96 413.60 L369.59 413.52 L370.22 413.44 L370.85 413.37 L371.48 413.29 L372.11 413.21 L372.74 413.13 L373.36 413.04 L373.99 412.96 L374.62 412.88 L375.25 412.80 L375.88 412.72 L376.51 412.64 L377.14 412.56 L377.77 412.47 L378.40 412.39 L379.03 412.31 L379.66 412.23 L380.29 412.14 L380.91 412.06 L381.54 411.98 L382.17 411.89 L382.80 411.81 L383.43 411.72 L384.06 411.64 L384.69 411.56 L385.32 411.47 L385.95 411.39 L386.57 411.30 L387.20 411.21 L387.83 411.13 L388.46 411.04 L389.09 410.96 L389.72 410.87 L390.35 410.78 L390.98 410.70 L391.60 410.61 L392.23 410.52 L392.86 410.44 L393.49 410.35 L394.12 410.26 L394.75 410.17 L395.37 410.08 L396.00 410.00 L396.63 409.91 L397.26 409.82 L397.89 409.73 L398.52 409.64 L399.14 409.55 L399.77 409.46 L400.40 409.37 L401.03 409.28 L401.66 409.19 L402.29 409.10 L402.91 409.01 L403.54 408.92 L404.17 408.83 L404.80 408.74 L405.43 408.65 L406.05 408.56 L406.68 408.47 L407.31 408.38 L407.94 408.29 L408.57 408.20 L409.19 408.10 L409.82 408.01 L410.45 407.92 L411.08 407.83 L411.71 407.73 L412.33 407.64 L412.96 407.55 L413.59 407.46 L414.22 407.36 L414.84 407.27 L415.47 407.18 L416.10 407.08 L416.73 406.99 L417.35 406.90 L417.98 406.80 L418.61 406.71 L419.24 406.62 L419.87 406.52 L420.49 406.43 L421.12 406.33 L421.75 406.24 L422.38 406.14 L423.00 406.05 L423.63 405.95 L424.26 405.86 L424.88 405.76 L425.51 405.67 L426.14 405.57 L426.77 405.48 L427.39 405.38 L428.02 405.29 L428.65 405.19 L429.28 405.09 L429.90 405.00 L430.53 404.90 L431.16 404.81 L431.78 404.71 L432.41 404.61 L433.04 404.52 L433.67 404.42 L434.29 404.32 L434.92 404.23 L435.55 404.13 L436.17 404.03 L436.80 403.94 L437.43 403.84 L438.06 403.74 L438.68 403.64 L439.31 403.55 L439.94 403.45 L440.56 403.35 L441.19 403.26 L441.82 403.16 L442.44 403.06 L443.07 402.96 L443.70 402.86 L444.33 402.77 L444.95 402.67 L445.58 402.57 L446.21 402.47 L446.83 402.37 L447.46 402.28 L448.09 402.18 L448.71 402.08 L449.34 401.98 L449.97 401.88 L450.59 401.78 L451.22 401.69 L451.85 401.59 L452.47 401.49 L453.10 401.39 L453.73 401.29 L454.35 401.19 L454.98 401.09 L455.61 400.99 L456.23 400.90 L456.86 400.80 L457.49 400.70 L458.11 400.60 L458.74 400.50 L459.37 400.40 L459.99 400.30 L460.62 400.20 L461.25 400.10 L461.87 400.00 L462.50 399.90 L463.13 399.81 L463.75 399.71 L464.38 399.61 L465.01 399.51 L465.63 399.41 L466.26 399.31 L466.89 399.21 L467.51 399.11 L468.14 399.02 L468.77 398.92 L469.39 398.82 L470.02 398.72 L470.65 398.63 L471.27 398.53 L471.90 398.43 L472.53 398.33 L473.15 398.24 L473.78 398.14 L474.41 398.05 L475.04 397.95 L475.66 397.86 L476.29 397.76 L476.92 397.67 L477.54 397.57 L478.17 397.48 L478.80 397.39 L479.43 397.29 L480.06 397.20 L480.68 397.11 L481.31 397.02 L481.94 396.93 L482.57 396.84 L483.20 396.75 L483.82 396.66 L484.45 396.57 L485.08 396.48 L485.71 396.39 L486.34 396.31 L486.97 396.22 L487.60 396.13 L488.23 396.05 L488.86 395.97 L489.49 395.88 L490.12 395.80 L490.75 395.72 L491.38 395.64 L492.01 395.56 L492.64 395.48 L493.27 395.40 L493.90 395.32 L494.53 395.24 L495.16 395.17 L495.79 395.09 L496.42 395.02 L497.05 394.95 L497.68 394.87 L498.31 394.80 L498.94 394.73 L499.57 394.67 L500.21 394.60 L500.84 394.53 L501.47 394.47 L502.10 394.41 L502.73 394.35 L503.37 394.29 L504.00 394.23 L504.63 394.17 L505.26 394.12 L505.89 394.06 L506.53 394.01 L507.16 393.96 L507.79 393.91 L508.43 393.86 L509.06 393.82 L509.69 393.77 L510.32 393.73 L510.96 393.69 L511.59 393.65 L512.22 393.61 L512.86 393.58 L513.49 393.55 L514.12 393.52 L514.76 393.49 L515.39 393.46 L516.02 393.44 L516.66 393.41 L517.29 393.39 L517.93 393.38 L518.56 393.36 L519.19 393.35 L519.83 393.33 L520.46 393.32 L521.09 393.32 L521.73 393.31 L522.36 393.30 L523.00 393.30 L523.63 393.30 L524.27 393.30 L524.90 393.30 L525.53 393.31 L526.17 393.31 L526.80 393.32 L527.44 393.32 L528.07 393.33 L528.71 393.34 L529.34 393.35 L529.98 393.36 L530.61 393.38 L531.24 393.39 L531.88 393.41 L532.51 393.42 L533.15 393.44 L533.78 393.46 L534.42 393.47 L535.05 393.49 L535.69 393.51 L536.32 393.53 L536.96 393.55 L537.59 393.57 L538.23 393.59 L538.86 393.61 L539.50 393.64 L540.13 393.66 L540.77 393.68 L541.40 393.70" fill="none" stroke="#e9967a" stroke-width="0.5" stroke-opacity="0.45"/>
<path d="M940.10 223.50 L939.75 223.64 L939.40 223.78 L939.05 223.92 L938.70 224.06 L938.35 224.20 L938.01 224.34 L937.66 224.48 L937.31 224.62 L936.96 224.77 L936.61 224.91 L936.26 225.05 L935.91 225.19 L935.56 225.33 L935.21 225.47 L934.86 225.61 L934.51 225.75 L934.16 225.89 L933.82 226.03 L933.47 226.17 L933.12 226.31 L932.77 226.45 L932.42 226.59 L932.07 226.73 L931.72 226.87 L931.37 227.01 L931.02 227.16 L930.67 227.30 L930.32 227.44 L929.97 227.58 L929.63 227.72 L929.28 227.86 L928.93 228.00 L928.58 228.14 L928.23 228.28 L927.88 228.42 L927.53 228.56 L927.18 228.70 L926.83 228.84 L926.48 228.98 L926.13 229.13 L925.79 229.27 L925.44 229.41 L925.09 229.55 L924.74 229.69 L924.39 229.83 L924.04 229.97 L923.69 230.11 L923.34 230.25 L922.99 230.39 L922.64 230.53 L922.30 230.67 L921.95 230.82 L921.60 230.96 L921.25 231.10 L920.90 231.24 L920.55 231.38 L920.20 231.52 L919.85 231.66 L919.50 231.80 L919.15 231.94 L918.81 232.08 L918.46 232.23 L918.11 232.37 L917.76 232.51 L917.41 232.65 L917.06 232.79 L916.71 232.93 L916.36 233.07 L916.01 233.21 L915.66 233.35 L915.32 233.50 L914.97 233.64 L914.62 233.78 L914.27 233.92 L913.92 234.06 L913.57 234.20 L913.22 234.34 L912.87 234.48 L912.53 234.63 L912.18 234.77 L911.83 234.91 L911.48 235.05 L911.13 235.19 L910.78 235.33 L910.43 235.48 L910.08 235.62 L909.74 235.76 L909.39 235.90 L909.04 236.04 L908.69 236.18 L908.34 236.32 L907.99 236.47 L907.64 236.61 L907.29 236.75 L906.95 236.89 L906.60 237.03 L906.25 237.18 L905.90 237.32 L905.55 237.46 L905.20 237.60 L904.85 237.74 L904.51 237.88 L904.16 238.03 L903.81 238.17 L903.46 238.31 L903.11 238.45 L902.76 238.60 L902.41 238.74 L902.07 238.88 L901.72 239.02 L901.37 239.16 L901.02 239.31 L900.67 239.45 L900.32 239.59 L899.98 239.73 L899.63 239.88 L899.28 240.02 L898.93 240.16 L898.58 240.30 L898.23 240.45 L897.88 240.59 L897.54 240.73 L897.19 240.87 L896.84 241.02 L896.49 241.16 L896.14 241.30 L895.80 241.44 L895.45 241.59 L895.10 241.73 L894.75 241.87 L894.40 242.01 L894.05 242.16 L893.71 242.30 L893.36 242.44 L893.01 242.59 L892.66 242.73 L892.31 242.87 L891.97 243.02 L891.62 243.16 L891.27 243.30 L890.92 243.45 L890.57 243.59 L890.23 243.73 L889.88 243.88 L889.53 244.02 L889.18 244.16 L888.83 244.31 L888.49 244.45 L888.14 244.59 L887.79 244.74 L887.44 244.88 L887.09 245.02 L886.75 245.17 L886.40 245.31 L886.05 245.46 L885.70 245.60 L885.35 245.74 L885.01 245.89 L884.66 246.03 L884.31 246.18 L883.96 246.32 L883.62 246.46 L883.27 246.61 L882.92 246.75 L882.57 246.90 L882.23 247.04 L881.88 247.18 L881.53 247.33 L881.18 247.47 L880.84 247.62 L880.49 247.76 L880.14 247.91 L879.79 248.05 L879.45 248.20 L879.10 248.34 L878.75 248.49 L878.40 248.63 L878.06 248.78 L877.71 248.92 L877.36 249.07 L877.01 249.21 L876.67 249.36 L876.32 249.50 L875.97 249.65 L875.63 249.79 L875.28 249.94 L874.93 250.08 L874.58 250.23 L874.24 250.37 L873.89 250.52 L873.54 250.66 L873.20 250.81 L872.85 250.95 L872.50 251.10 L872.15 251.25 L871.81 251.39 L871.46 251.54 L871.11 251.68 L870.77 251.83 L870.42 251.98 L870.07 252.12 L869.73 252.27 L869.38 252.41 L869.03 252.56 L868.69 252.71 L868.34 252.85 L867.99 253.00 L867.65 253.15 L867.30 253.29 L866.95 253.44 L866.61 253.58 L866.26 253.73 L865.91 253.88 L865.57 254.02 L865.22 254.17 L864.87 254.32 L864.53 254.47 L864.18 254.61 L863.83 254.76 L863.49 254.91 L863.14 255.05 L862.79 255.20 L862.45 255.35 L862.10 255.50 L861.75 255.64 L861.41 255.79 L861.06 255.94 L860.72 256.08 L860.37 256.23 L860.02 256.38 L859.68 256.53 L859.33 256.67 L858.98 256.82 L858.64 256.97 L858.29 257.12 L857.95 257.26 L857.60 257.41 L857.25 257.56 L856.91 257.71 L856.56 257.86 L856.22 258.00 L855.87 258.15 L855.52 258.30 L855.18 258.45 L854.83 258.60 L854.48 258.74 L854.14 258.89 L853.79 259.04 L853.45 259.19 L853.10 259.34 L852.75 259.48 L852.41 259.63 L852.06 259.78 L851.72 259.93 L851.37 260.08 L851.03 260.22 L850.68 260.37 L850.33 260.52 L849.99 260.67 L849.64 260.82 L849.30 260.97 L848.95 261.11 L848.60 261.26 L848.26 261.41 L847.91 261.56 L847.57 261.71 L847.22 261.86 L846.87 262.00 L846.53 262.15 L846.18 262.30 L845.84 262.45 L845.49 262.60 L845.14 262.75 L844.80 262.90 L844.45 263.04 L844.11 263.19 L843.76 263.34 L843.42 263.49 L843.07 263.64 L842.72 263.79 L842.38 263.94 L842.03 264.08 L841.69 264.23 L841.34 264.38 L840.99 264.53 L840.65 264.68 L840.30 264.83 L839.96 264.97 L839.61 265.12 L839.27 265.27 L838.92 265.42 L838.57 265.57 L838.23 265.72 L837.88 265.87 L837.54 266.01 L837.19 266.16 L836.84 266.31 L836.50 266.46 L836.15 266.61 L835.81 266.76 L835.46 266.91 L835.12 267.05 L834.77 267.20 L834.42 267.35 L834.08 267.50 L833.73 267.65 L833.39 267.80 L833.04 267.94 L832.69 268.09 L832.35 268.24 L832.00 268.39 L831.66 268.54 L831.31 268.69 L830.96 268.83 L830.62 268.98 L830.27 269.13 L829.93 269.28 L829.58 269.43 L829.23 269.57 L828.89 269.72 L828.54 269.87 L828.20 270.02 L827.85 270.17 L827.50 270.32 L827.16 270.46 L826.81 270.61 L826.47 270.76 L826.12 270.91 L825.77 271.05 L825.43 271.20 L825.08 271.35 L824.74 271.50 L824.39 271.65 L824.04 271.79 L823.70 271.94 L823.35 272.09 L823.00 272.24 L822.66 272.38 L822.31 272.53 L821.97 272.68 L821.62 272.83 L821.27 272.97 L820.93 273.12 L820.58 273.27 L820.23 273.42 L819.89 273.56 L819.54 273.71 L819.20 273.86 L818.85 274.00 L818.50 274.15 L818.16 274.30 L817.81 274.45 L817.46 274.59 L817.12 274.74 L816.77 274.89 L816.42 275.03 L816.08 275.18 L815.73 275.33 L815.38 275.47 L815.04 275.62 L814.69 275.77 L814.34 275.91 L814.00 276.06 L813.65 276.21 L813.30 276.35 L812.96 276.50 L812.61 276.64 L812.26 276.79 L811.92 276.94 L811.57 277.08 L811.22 277.23 L810.88 277.37 L810.53 277.52 L810.18 277.67 L809.83 277.81 L809.49 277.96 L809.14 278.10 L808.79 278.25 L808.45 278.39 L808.10 278.54 L807.75 278.68 L807.40 278.83 L807.06 278.98 L806.71 279.12 L806.36 279.27 L806.02 279.41 L805.67 279.56 L805.32 279.70 L804.97 279.84 L804.63 279.99 L804.28 280.13 L803.93 280.28 L803.58 280.42 L803.24 280.57 L802.89 280.71 L802.54 280.86 L802.19 281.00 L801.84 281.14 L801.50 281.29 L801.15 281.43 L800.80 281.58 L800.45 281.72 L800.11 281.87 L799.76 282.01 L799.41 282.15 L799.06 282.30 L798.71 282.44 L798.37 282.58 L798.02 282.73 L797.67 282.87 L797.32 283.02 L796.98 283.16 L796.63 283.30 L796.28 283.45 L795.93 283.59 L795.58 283.73 L795.24 283.88 L794.89 284.02 L794.54 284.16 L794.19 284.31 L793.84 284.45 L793.50 284.59 L793.15 284.74 L792.80 284.88 L792.45 285.02 L792.10 285.17 L791.76 285.31 L791.41 285.45 L791.06 285.60 L790.71 285.74 L790.36 285.88 L790.02 286.03 L789.67 286.17 L789.32 286.31 L788.97 286.46 L788.62 286.60 L788.28 286.74 L787.93 286.89 L787.58 287.03 L787.23 287.17 L786.88 287.32 L786.53 287.46 L786.19 287.60 L785.84 287.75 L785.49 287.89 L785.14 288.03 L784.79 288.18 L784.45 288.32 L784.10 288.46 L783.75 288.61 L783.40 288.75 L783.06 288.89 L782.71 289.04 L782.36 289.18 L782.01 289.33 L781.66 289.47 L781.32 289.61 L780.97 289.76 L780.62 289.90 L780.27 290.04 L779.92 290.19 L779.58 290.33 L779.23 290.48 L778.88 290.62 L778.53 290.76 L778.19 290.91 L777.84 291.05 L777.49 291.20 L777.14 291.34 L776.80 291.49 L776.45 291.63 L776.10 291.78 L775.75 291.92 L775.41 292.06 L775.06 292.21 L774.71 292.35 L774.36 292.50 L774.02 292.64 L773.67 292.79 L773.32 292.93 L772.97 293.08 L772.63 293.22 L772.28 293.37 L771.93 293.51 L771.59 293.66 L771.24 293.81 L770.89 293.95 L770.54 294.10 L770.20 294.24 L769.85 294.39 L769.50 294.53 L769.16 294.68 L768.81 294.83 L768.46 294.97 L768.12 295.12 L767.77 295.27 L767.42 295.41 L767.08 295.56 L766.73 295.71 L766.38 295.85 L766.04 296.00 L765.69 296.15 L765.34 296.29 L765.00 296.44 L764.65 296.59 L764.30 296.74 L763.96 296.88 L763.61 297.03 L763.27 297.18 L762.92 297.33 L762.57 297.48 L762.23 297.62 L761.88 297.77 L761.54 297.92 L761.19 298.07 L760.84 298.22 L760.50 298.37 L760.15 298.52 L759.81 298.67 L759.46 298.81 L759.12 298.96 L758.77 299.11 L758.43 299.26 L758.08 299.41 L757.74 299.56 L757.39 299.71 L757.05 299.86 L756.70 300.01 L756.36 300.16 L756.01 300.32 L755.67 300.47 L755.32 300.62 L754.98 300.77 L754.63 300.92 L754.29 301.07 L753.94 301.22 L753.60 301.37 L753.25 301.53 L752.91 301.68 L752.57 301.83 L752.22 301.98 L751.88 302.14 L751.53 302.29 L751.19 302.44 L750.85 302.60 L750.50 302.75 L750.16 302.90 L749.81 303.06 L749.47 303.21 L749.13 303.36 L748.78 303.52 L748.44 303.67 L748.10 303.83 L747.75 303.98 L747.41 304.14 L747.07 304.29 L746.73 304.45 L746.38 304.60 L746.04 304.76 L745.70 304.92 L745.36 305.07 L745.01 305.23 L744.67 305.39 L744.33 305.54 L743.99 305.70 L743.64 305.86 L743.30 306.01 L742.96 306.17 L742.62 306.33 L742.28 306.49 L741.93 306.65 L741.59 306.81 L741.25 306.96 L740.91 307.12 L740.57 307.28 L740.23 307.44 L739.89 307.60 L739.55 307.76 L739.20 307.92 L738.86 308.08 L738.52 308.24 L738.18 308.40 L737.84 308.56 L737.50 308.72 L737.16 308.88 L736.82 309.04 L736.48 309.20 L736.14 309.36 L735.80 309.53 L735.46 309.69 L735.12 309.85 L734.78 310.01 L734.44 310.17 L734.10 310.33 L733.76 310.49 L733.41 310.66 L733.07 310.82 L732.73 310.98 L732.39 311.14 L732.05 311.30 L731.71 311.47 L731.37 311.63 L731.03 311.79 L730.69 311.95 L730.35 312.11 L730.01 312.28 L729.67 312.44 L729.33 312.60 L728.99 312.76 L728.65 312.92 L728.31 313.09 L727.97 313.25 L727.63 313.41 L727.29 313.57 L726.95 313.73 L726.61 313.90 L726.27 314.06 L725.93 314.22 L725.59 314.38 L725.25 314.54 L724.91 314.71 L724.57 314.87 L724.23 315.03 L723.89 315.19 L723.55 315.35 L723.21 315.51 L722.87 315.67 L722.53 315.83 L722.19 316.00 L721.85 316.16 L721.51 316.32 L721.17 316.48 L720.83 316.64 L720.49 316.80 L720.15 316.96 L719.81 317.12 L719.46 317.28 L719.12 317.44 L718.78 317.60 L718.44 317.76 L718.10 317.92 L717.76 318.08 L717.42 318.23 L717.08 318.39 L716.73 318.55 L716.39 318.71 L716.05 318.87 L715.71 319.03 L715.37 319.18 L715.03 319.34 L714.68 319.50 L714.34 319.66 L714.00 319.81 L713.66 319.97 L713.31 320.13 L712.97 320.28 L712.63 320.44 L712.29 320.59 L711.94 320.75 L711.60 320.90 L711.26 321.06 L710.92 321.21 L710.57 321.37 L710.23 321.52 L709.88 321.67 L709.54 321.83 L709.20 321.98 L708.85 322.13 L708.51 322.28 L708.17 322.44 L707.82 322.59 L707.48 322.74 L707.13 322.89 L706.79 323.04 L706.44 323.19 L706.10 323.34 L705.75 323.49 L705.41 323.64 L705.06 323.79 L704.72 323.94 L704.37 324.08 L704.02 324.23 L703.68 324.38 L703.33 324.53 L702.98 324.67 L702.64 324.82 L702.29 324.96 L701.94 325.11 L701.60 325.25 L701.25 325.40 L700.90 325.54 L700.55 325.69 L700.21 325.83 L699.86 325.97 L699.51 326.11 L699.16 326.25 L698.81 326.40 L698.46 326.54 L698.11 326.68 L697.77 326.82 L697.42 326.95 L697.07 327.09 L696.72 327.23 L696.37 327.37 L696.02 327.51 L695.66 327.64 L695.31 327.78 L694.96 327.91 L694.61 328.05 L694.26 328.18 L693.91 328.32 L693.56 328.45 L693.20 328.58 L692.85 328.72 L692.50 328.85 L692.15 328.98 L691.80 329.11 L691.44 329.24 L691.09 329.38 L690.74 329.51 L690.38 329.64 L690.03 329.77 L689.68 329.90 L689.33 330.03 L688.97 330.16 L688.62 330.29 L688.27 330.42 L687.91 330.55 L687.56 330.68 L687.21 330.82 L686.85 330.95 L686.50 331.08 L686.15 331.21 L685.80 331.34 L685.44 331.47 L685.09 331.61 L684.74 331.74 L684.39 331.87 L684.04 332.00 L683.68 332.14 L683.33 332.27 L682.98 332.41 L682.63 332.54 L682.28 332.68 L681.93 332.82 L681.58 332.95 L681.23 333.09 L680.88 333.23 L680.53 333.37 L680.18 333.51 L679.83 333.65 L679.48 333.79 L679.13 333.93 L678.78 334.08 L678.44 334.22 L678.09 334.36 L677.74 334.51 L677.39 334.65 L677.05 334.80 L676.70 334.94 L676.35 335.09 L676.01 335.24 L675.66 335.38 L675.32 335.53 L674.97 335.68 L674.62 335.83 L674.28 335.98 L673.93 336.13 L673.59 336.28 L673.24 336.43 L672.90 336.58 L672.55 336.73 L672.21 336.88 L671.86 337.03 L671.52 337.19 L671.18 337.34 L670.83 337.49 L670.49 337.64 L670.14 337.79 L669.80 337.95 L669.45 338.10 L669.11 338.25 L668.77 338.41 L668.42 338.56 L668.08 338.71 L667.73 338.87 L667.39 339.02 L667.05 339.17 L666.70 339.32 L666.36 339.48 L666.01 339.63 L665.67 339.78 L665.33 339.94 L664.98 340.09 L664.64 340.24 L664.29 340.39 L663.95 340.55 L663.60 340.70 L663.26 340.85 L662.92 341.00 L662.57 341.15 L662.23 341.30 L661.88 341.45 L661.54 341.60 L661.19 341.76 L660.85 341.91 L660.50 342.06 L660.16 342.20 L659.81 342.35 L659.46 342.50 L659.12 342.65 L658.77 342.80 L658.43 342.95 L658.08 343.10 L657.73 343.25 L657.39 343.39 L657.04 343.54 L656.70 343.69 L656.35 343.83 L656.00 343.98 L655.66 344.13 L655.31 344.27 L654.96 344.42 L654.61 344.56 L654.27 344.71 L653.92 344.85 L653.57 345.00 L653.22 345.14 L652.88 345.29 L652.53 345.43 L652.18 345.57 L651.83 345.72 L651.48 345.86 L651.14 346.00 L650.79 346.14 L650.44 346.28 L650.09 346.43 L649.74 346.57 L649.39 346.71 L649.04 346.85 L648.69 346.99 L648.34 347.13 L647.99 347.27 L647.64 347.41 L647.29 347.55 L646.94 347.69 L646.59 347.82 L646.24 347.96 L645.89 348.10 L645.54 348.24 L645.19 348.37 L644.84 348.51 L644.49 348.64 L644.14 348.78 L643.79 348.92 L643.44 349.05 L643.09 349.18 L642.73 349.32 L642.38 349.45 L642.03 349.58 L641.68 349.72 L641.32 349.85 L640.97 349.98 L640.62 350.11 L640.27 350.24 L639.91 350.37 L639.56 350.50 L639.20 350.63 L638.85 350.76 L638.50 350.88 L638.14 351.01 L637.79 351.14 L637.43 351.26 L637.08 351.39 L636.72 351.51 L636.37 351.63 L636.01 351.76 L635.65 351.88 L635.30 352.00 L634.94 352.12 L634.58 352.24 L634.23 352.36 L633.87 352.48 L633.51 352.59 L633.15 352.71 L632.80 352.83 L632.44 352.94 L632.08 353.05 L631.72 353.17 L631.36 353.28 L631.00 353.39 L630.64 353.50 L630.28 353.61 L629.92 353.72 L629.56 353.82 L629.20 353.93 L628.84 354.03 L628.47 354.14 L628.11 354.24 L627.75 354.34 L627.39 354.44 L627.02 354.54 L626.66 354.64 L626.29 354.73 L625.93 354.83 L625.56 354.92 L625.20 355.01 L624.83 355.10 L624.47 355.19 L624.10 355.28 L623.74 355.37 L623.37 355.45 L623.00 355.54 L622.63 355.62 L622.26 355.70 L621.90 355.78 L621.53 355.86 L621.16 355.93 L620.79 356.00 L620.42 356.08 L620.05 356.15 L619.68 356.21 L619.31 356.28 L618.93 356.34 L618.56 356.41 L618.19 356.47 L617.82 356.52 L617.45 356.58 L617.07 356.63 L616.70 356.68 L616.33 356.73 L615.95 356.78 L615.58 356.82 L615.20 356.86 L614.83 356.90 L614.45 356.94 L614.08 356.97 L613.70 357.00 L613.33 357.03 L612.95 357.05 L612.57 357.08 L612.20 357.10 L611.82 357.11 L611.44 357.13 L611.07 357.14 L610.69 357.14 L610.31 357.15 L609.93 357.15 L609.55 357.15 L609.18 357.14 L608.80 357.13 L608.42 357.12 L608.04 357.11 L607.67 357.09 L607.29 357.07 L606.91 357.04 L606.54 357.01 L606.16 356.98 L605.79 356.95 L605.41 356.91 L605.04 356.86 L604.66 356.82 L604.29 356.77 L603.91 356.72 L603.54 356.66 L603.17 356.60 L602.80 356.53 L602.43 356.46 L602.06 356.39 L601.69 356.32 L601.32 356.24 L600.96 356.15 L600.59 356.06 L600.22 355.97 L599.86 355.88 L599.50 355.78 L599.13 355.68 L598.77 355.57 L598.41 355.46 L598.05 355.35 L597.69 355.23 L597.34 355.11 L596.98 354.99 L596.63 354.86 L596.27 354.73 L595.92 354.59 L595.57 354.46 L595.22 354.32 L594.87 354.17 L594.52 354.02 L594.17 353.87 L593.82 353.72 L593.48 353.56 L593.14 353.40 L592.79 353.24 L592.45 353.08 L592.11 352.91 L591.78 352.74 L591.44 352.56 L591.10 352.38 L590.77 352.20 L590.44 352.02 L590.11 351.83 L589.78 351.64 L589.45 351.45 L589.13 351.25 L588.80 351.05 L588.48 350.85 L588.16 350.65 L587.85 350.44 L587.53 350.23 L587.22 350.01 L586.91 349.80 L586.60 349.58 L586.29 349.35 L585.99 349.13 L585.69 348.90 L585.39 348.67 L585.10 348.43 L584.81 348.19 L584.52 347.95 L584.23 347.71 L583.94 347.46 L583.66 347.21 L583.39 346.96 L583.11 346.70 L582.84 346.44 L582.57 346.18 L582.30 345.91 L582.04 345.64 L581.78 345.37 L581.53 345.09 L581.28 344.82 L581.03 344.54 L580.78 344.25 L580.54 343.97 L580.29 343.68 L580.05 343.39 L579.82 343.10 L579.58 342.80 L579.35 342.51 L579.12 342.21 L578.89 341.92 L578.66 341.62 L578.43 341.32 L578.20 341.02 L577.97 340.71 L577.75 340.41 L577.52 340.11 L577.30 339.81 L577.07 339.50 L576.85 339.20 L576.62 338.89 L576.39 338.59 L576.17 338.29 L575.94 337.99 L575.71 337.68 L575.49 337.38 L575.26 337.08 L575.04 336.78 L574.81 336.47 L574.59 336.17 L574.36 335.86 L574.14 335.56 L573.92 335.25 L573.70 334.95 L573.48 334.64 L573.27 334.33 L573.05 334.02 L572.84 333.71 L572.63 333.40 L572.43 333.08 L572.23 332.77 L572.03 332.45 L571.83 332.13 L571.64 331.81 L571.45 331.49 L571.26 331.16 L571.08 330.83 L570.90 330.50 L570.73 330.17 L570.56 329.84 L570.39 329.50 L570.22 329.17 L570.05 328.83 L569.88 328.49 L569.72 328.15 L569.55 327.81 L569.39 327.48 L569.22 327.14 L569.05 326.80 L568.89 326.46 L568.72 326.13 L568.55 325.79 L568.37 325.46 L568.19 325.12 L568.01 324.79 L567.83 324.46 L567.64 324.14 L567.45 323.81 L567.25 323.49 L567.05 323.17 L566.85 322.85 L566.64 322.53 L566.43 322.22 L566.22 321.90 L566.01 321.58 L565.80 321.27 L565.60 320.95 L565.41 320.63 L565.22 320.30 L565.04 319.98 L564.86 319.65 L564.70 319.31 L564.56 318.97 L564.42 318.62 L564.29 318.27 L564.18 317.92 L564.07 317.56 L563.98 317.19 L563.89 316.83 L563.80 316.46 L563.73 316.09 L563.65 315.71 L563.59 315.34 L563.52 314.96 L563.46 314.59 L563.41 314.21 L563.35 313.83 L563.29 313.46 L563.24 313.08 L563.18 312.70 L563.12 312.33 L563.07 311.95 L563.01 311.58 L562.96 311.21 L562.90 310.84 L562.84 310.46 L562.79 310.09 L562.74 309.72 L562.68 309.35 L562.63 308.98 L562.58 308.60 L562.52 308.23 L562.47 307.86 L562.42 307.49 L562.37 307.12 L562.33 306.75 L562.28 306.37 L562.24 306.00 L562.19 305.63 L562.15 305.26 L562.11 304.88 L562.07 304.51 L562.03 304.14 L561.99 303.76 L561.96 303.39 L561.92 303.01 L561.89 302.64 L561.86 302.26 L561.82 301.89 L561.79 301.51 L561.76 301.14 L561.74 300.76 L561.71 300.39 L561.68 300.01 L561.65 299.63 L561.63 299.26 L561.61 298.88 L561.58 298.51 L561.56 298.13 L561.54 297.75 L561.52 297.38 L561.49 297.00 L561.47 296.62 L561.45 296.25 L561.44 295.87 L561.42 295.50 L561.40 295.12 L561.38 294.74 L561.36 294.37 L561.35 293.99 L561.33 293.62 L561.31 293.24 L561.30 292.86 L561.28 292.49 L561.27 292.11 L561.25 291.74 L561.24 291.36 L561.22 290.98 L561.21 290.61 L561.19 290.23 L561.18 289.86 L561.17 289.48 L561.15 289.10 L561.14 288.73 L561.13 288.35 L561.11 287.98 L561.10 287.60" fill="none" stroke="#e9967a" stroke-width="0.5" stroke-opacity="0.45"/>
<path d="M163.40 445.80 L163.78 445.78 L164.16 445.76 L164.54 445.74 L164.92 445.72 L165.30 445.70 L165.68 445.68 L166.06 445.66 L166.44 445.64 L166.82 445.62 L167.20 445.60 L167.58 445.58 L167.96 445.57 L168.34 445.55 L168.72 445.53 L169.10 445.51 L169.48 445.49 L169.86 445.47 L170.24 445.45 L170.62 445.43 L171.00 445.41 L171.38 445.39 L171.76 445.37 L172.14 445.35 L172.52 445.33 L172.90 445.31 L173.28 445.29 L173.65 445.27 L174.03 445.25 L174.41 445.23 L174.79 445.21 L175.17 445.19 L175.55 445.17 L175.93 445.15 L176.31 445.13 L176.69 445.11 L177.07 445.10 L177.45 445.08 L177.83 445.06 L178.21 445.04 L178.59 445.02 L178.97 445.00 L179.35 444.98 L179.73 444.96 L180.11 444.94 L180.49 444.92 L180.87 444.90 L181.25 444.88 L181.63 444.86 L182.01 444.84 L182.39 444.82 L182.77 444.80 L183.15 444.78 L183.53 444.76 L183.91 444.74 L184.29 444.72 L184.67 444.70 L185.05 444.68 L185.43 444.66 L185.81 444.64 L186.19 444.62 L186.57 444.60 L186.95 444.58 L187.33 444.56 L187.71 444.54 L188.09 444.52 L188.47 444.50 L188.85 444.48 L189.23 444.46 L189.61 444.44 L189.99 444.42 L190.37 444.40 L190.75 444.38 L191.13 444.36 L191.51 444.34 L191.89 444.32 L192.26 444.30 L192.64 444.28 L193.02 444.26 L193.40 444.24 L193.78 444.22 L194.16 444.20 L194.54 444.18 L194.92 444.16 L195.30 444.14 L195.68 444.12 L196.06 444.10 L196.44 444.08 L196.82 444.06 L197.20 444.04 L197.58 444.02 L197.96 444.00 L198.34 443.98 L198.72 443.96 L199.10 443.94 L199.48 443.92 L199.86 443.90 L200.24 443.88 L200.62 443.86 L201.00 443.84 L201.38 443.82 L201.76 443.80 L202.14 443.78 L202.52 443.76 L202.90 443.74 L203.28 443.72 L203.66 443.70 L204.04 443.68 L204.42 443.66 L204.80 443.64 L205.18 443.62 L205.56 443.59 L205.94 443.57 L206.32 443.55 L206.70 443.53 L207.08 443.51 L207.46 443.49 L207.84 443.47 L208.22 443.45 L208.59 443.43 L208.97 443.41 L209.35 443.39 L209.73 443.37 L210.11 443.35 L210.49 443.33 L210.87 443.31 L211.25 443.29 L211.63 443.26 L212.01 443.24 L212.39 443.22 L212.77 443.20 L213.15 443.18 L213.53 443.16 L213.91 443.14 L214.29 443.12 L214.67 443.10 L215.05 443.08 L215.43 443.06 L215.81 443.03 L216.19 443.01 L216.57 442.99 L216.95 442.97 L217.33 442.95 L217.71 442.93 L218.09 442.91 L218.47 442.89 L218.85 442.87 L219.23 442.84 L219.61 442.82 L219.99 442.80 L220.37 442.78 L220.75 442.76 L221.13 442.74 L221.51 442.72 L221.89 442.70 L222.26 442.67 L222.64 442.65 L223.02 442.63 L223.40 442.61 L223.78 442.59 L224.16 442.57 L224.54 442.54 L224.92 442.52 L225.30 442.50 L225.68 442.48 L226.06 442.46 L226.44 442.44 L226.82 442.41 L227.20 442.39 L227.58 442.37 L227.96 442.35 L228.34 442.33 L228.72 442.31 L229.10 442.28 L229.48 442.26 L229.86 442.24 L230.24 442.22 L230.62 442.20 L231.00 442.17 L231.38 442.15 L231.76 442.13 L232.14 442.11 L232.52 442.09 L232.90 442.06 L233.28 442.04 L233.66 442.02 L234.03 442.00 L234.41 441.98 L234.79 441.95 L235.17 441.93 L235.55 441.91 L235.93 441.89 L236.31 441.86 L236.69 441.84 L237.07 441.82 L237.45 441.80 L237.83 441.77 L238.21 441.75 L238.59 441.73 L238.97 441.71 L239.35 441.68 L239.73 441.66 L240.11 441.64 L240.49 441.62 L240.87 441.59 L241.25 441.57 L241.63 441.55 L242.01 441.52 L242.39 441.50 L242.77 441.48 L243.15 441.45 L243.53 441.43 L243.90 441.41 L244.28 441.39 L244.66 441.36 L245.04 441.34 L245.42 441.32 L245.80 441.29 L246.18 441.27 L246.56 441.25 L246.94 441.22 L247.32 441.20 L247.70 441.18 L248.08 441.15 L248.46 441.13 L248.84 441.11 L249.22 441.08 L249.60 441.06 L249.98 441.04 L250.36 441.01 L250.74 440.99 L251.12 440.96 L251.50 440.94 L251.88 440.92 L252.26 440.89 L252.64 440.87 L253.01 440.85 L253.39 440.82 L253.77 440.80 L254.15 440.77 L254.53 440.75 L254.91 440.73 L255.29 440.70 L255.67 440.68 L256.05 440.65 L256.43 440.63 L256.81 440.61 L257.19 440.58 L257.57 440.56 L257.95 440.53 L258.33 440.51 L258.71 440.48 L259.09 440.46 L259.47 440.43 L259.85 440.41 L260.23 440.39 L260.61 440.36 L260.98 440.34 L261.36 440.31 L261.74 440.29 L262.12 440.26 L262.50 440.24 L262.88 440.21 L263.26 440.19 L263.64 440.16 L264.02 440.14 L264.40 440.11 L264.78 440.09 L265.16 440.06 L265.54 440.04 L265.92 440.01 L266.30 439.99 L266.68 439.96 L267.06 439.94 L267.44 439.91 L267.82 439.89 L268.19 439.86 L268.57 439.83 L268.95 439.81 L269.33 439.78 L269.71 439.76 L270.09 439.73 L270.47 439.71 L270.85 439.68 L271.23 439.65 L271.61 439.63 L271.99 439.60 L272.37 439.58 L272.75 439.55 L273.13 439.53 L273.51 439.50 L273.89 439.47 L274.27 439.45 L274.65 439.42 L275.02 439.39 L275.40 439.37 L275.78 439.34 L276.16 439.32 L276.54 439.29 L276.92 439.26 L277.30 439.24 L277.68 439.21 L278.06 439.18 L278.44 439.16 L278.82 439.13 L279.20 439.10 L279.58 439.08 L279.96 439.05 L280.34 439.02 L280.72 439.00 L281.09 438.97 L281.47 438.94 L281.85 438.92 L282.23 438.89 L282.61 438.86 L282.99 438.83 L283.37 438.81 L283.75 438.78 L284.13 438.75 L284.51 438.73 L284.89 438.70 L285.27 438.67 L285.65 438.64 L286.03 438.62 L286.41 438.59 L286.78 438.56 L287.16 438.53 L287.54 438.51 L287.92 438.48 L288.30 438.45 L288.68 438.42 L289.06 438.40 L289.44 438.37 L289.82 438.34 L290.20 438.31 L290.58 438.28 L290.96 438.26 L291.34 438.23 L291.72 438.20 L292.09 438.17 L292.47 438.14 L292.85 438.11 L293.23 438.09 L293.61 438.06 L293.99 438.03 L294.37 438.00 L294.75 437.97 L295.13 437.94 L295.51 437.92 L295.89 437.89 L296.27 437.86 L296.65 437.83 L297.02 437.80 L297.40 437.77 L297.78 437.74 L298.16 437.71 L298.54 437.69 L298.92 437.66 L299.30 437.63 L299.68 437.60 L300.06 437.57 L300.44 437.54 L300.82 437.51 L301.20 437.48 L301.58 437.45 L301.95 437.42 L302.33 437.39 L302.71 437.36 L303.09 437.33 L303.47 437.30 L303.85 437.27 L304.23 437.25 L304.61 437.22 L304.99 437.19 L305.37 437.16 L305.75 437.13 L306.13 437.10 L306.50 437.07 L306.88 437.04 L307.26 437.01 L307.64 436.98 L308.02 436.95 L308.40 436.92 L308.78 436.89 L309.16 436.86 L309.54 436.82 L309.92 436.79 L310.30 436.76 L310.67 436.73 L311.05 436.70 L311.43 436.67 L311.81 436.64 L312.19 436.61 L312.57 436.58 L312.95 436.55 L313.33 436.52 L313.71 436.49 L314.09 436.46 L314.47 436.43 L314.84 436.39 L315.22 436.36 L315.60 436.33 L315.98 436.30 L316.36 436.27 L316.74 436.24 L317.12 436.21 L317.50 436.18 L317.88 436.14 L318.26 436.11 L318.63 436.08 L319.01 436.05 L319.39 436.02 L319.77 435.99 L320.15 435.95 L320.53 435.92 L320.91 435.89 L321.29 435.86 L321.67 435.83 L322.05 435.80 L322.42 435.76 L322.80 435.73 L323.18 435.70 L323.56 435.67 L323.94 435.63 L324.32 435.60 L324.70 435.57 L325.08 435.54 L325.46 435.51 L325.83 435.47 L326.21 435.44 L326.59 435.41 L326.97 435.37 L327.35 435.34 L327.73 435.31 L328.11 435.28 L328.49 435.24 L328.87 435.21 L329.24 435.18 L329.62 435.14 L330.00 435.11 L330.38 435.08 L330.76 435.05 L331.14 435.01 L331.52 434.98 L331.90 434.95 L332.28 434.91 L332.65 434.88 L333.03 434.84 L333.41 434.81 L333.79 434.78 L334.17 434.74 L334.55 434.71 L334.93 434.68 L335.31 434.64 L335.69 434.61 L336.06 434.57 L336.44 434.54 L336.82 434.51 L337.20 434.47 L337.58 434.44 L337.96 434.40 L338.34 434.37 L338.72 434.34 L339.09 434.30 L339.47 434.27 L339.85 434.23 L340.23 434.20 L340.61 434.16 L340.99 434.13 L341.37 434.09 L341.75 434.06 L342.12 434.02 L342.50 433.99 L342.88 433.95 L343.26 433.92 L343.64 433.88 L344.02 433.85 L344.40 433.81 L344.78 433.78 L345.15 433.74 L345.53 433.71 L345.91 433.67 L346.29 433.64 L346.67 433.60 L347.05 433.57 L347.43 433.53 L347.81 433.49 L348.18 433.46 L348.56 433.42 L348.94 433.39 L349.32 433.35 L349.70 433.32 L350.08 433.28 L350.46 433.24 L350.83 433.21 L351.21 433.17 L351.59 433.14 L351.97 433.10 L352.35 433.06 L352.73 433.03 L353.11 432.99 L353.48 432.95 L353.86 432.92 L354.24 432.88 L354.62 432.84 L355.00 432.81 L355.38 432.77 L355.76 432.73 L356.13 432.70 L356.51 432.66 L356.89 432.62 L357.27 432.58 L357.65 432.55 L358.03 432.51 L358.41 432.47 L358.78 432.44 L359.16 432.40 L359.54 432.36 L359.92 432.32 L360.30 432.29 L360.68 432.25 L361.05 432.21 L361.43 432.17 L361.81 432.13 L362.19 432.10 L362.57 432.06 L362.95 432.02 L363.33 431.98 L363.70 431.94 L364.08 431.90 L364.46 431.87 L364.84 431.83 L365.22 431.79 L365.60 431.75 L365.97 431.71 L366.35 431.67 L366.73 431.63 L367.11 431.59 L367.49 431.56 L367.87 431.52 L368.24 431.48 L368.62 431.44 L369.00 431.40 L369.38 431.36 L369.76 431.32 L370.14 431.28 L370.51 431.24 L370.89 431.20 L371.27 431.16 L371.65 431.12 L372.03 431.08 L372.40 431.04 L372.78 431.00 L373.16 430.96 L373.54 430.92 L373.92 430.88 L374.30 430.84 L374.67 430.80 L375.05 430.75 L375.43 430.71 L375.81 430.67 L376.19 430.63 L376.56 430.59 L376.94 430.55 L377.32 430.51 L377.70 430.47 L378.08 430.42 L378.45 430.38 L378.83 430.34 L379.21 430.30 L379.59 430.26 L379.97 430.21 L380.34 430.17 L380.72 430.13 L381.10 430.09 L381.48 430.04 L381.86 430.00 L382.23 429.96 L382.61 429.91 L382.99 429.87 L383.37 429.83 L383.75 429.78 L384.12 429.74 L384.50 429.70 L384.88 429.65 L385.26 429.61 L385.63 429.57 L386.01 429.52 L386.39 429.48 L386.77 429.43 L387.15 429.39 L387.52 429.34 L387.90 429.30 L388.28 429.26 L388.66 429.21 L389.03 429.17 L389.41 429.12 L389.79 429.07 L390.17 429.03 L390.54 428.98 L390.92 428.94 L391.30 428.89 L391.68 428.85 L392.05 428.80 L392.43 428.75 L392.81 428.71 L393.19 428.66 L393.56 428.62 L393.94 428.57 L394.32 428.52 L394.70 428.47 L395.07 428.43 L395.45 428.38 L395.83 428.33 L396.21 428.29 L396.58 428.24 L396.96 428.19 L397.34 428.14 L397.71 428.09 L398.09 428.05 L398.47 428.00 L398.85 427.95 L399.22 427.90 L399.60 427.85 L399.98 427.80 L400.35 427.75 L400.73 427.70 L401.11 427.66 L401.49 427.61 L401.86 427.56 L402.24 427.51 L402.62 427.46 L402.99 427.41 L403.37 427.36 L403.75 427.31 L404.12 427.26 L404.50 427.21 L404.88 427.15 L405.26 427.10 L405.63 427.05 L406.01 427.00 L406.39 426.95 L406.76 426.90 L407.14 426.85 L407.52 426.80 L407.89 426.75 L408.27 426.69 L408.65 426.64 L409.02 426.59 L409.40 426.54 L409.78 426.49 L410.15 426.43 L410.53 426.38 L410.91 426.33 L411.28 426.28 L411.66 426.22 L412.04 426.17 L412.41 426.12 L412.79 426.07 L413.17 426.01 L413.54 425.96 L413.92 425.91 L414.30 425.85 L414.67 425.80 L415.05 425.75 L415.43 425.69 L415.80 425.64 L416.18 425.59 L416.56 425.53 L416.93 425.48 L417.31 425.43 L417.69 425.37 L418.06 425.32 L418.44 425.27 L418.81 425.21 L419.19 425.16 L419.57 425.10 L419.94 425.05 L420.32 425.00 L420.70 424.94 L421.07 424.89 L421.45 424.83 L421.83 424.78 L422.20 424.72 L422.58 424.67 L422.96 424.62 L423.33 424.56 L423.71 424.51 L424.08 424.45 L424.46 424.40 L424.84 424.34 L425.21 424.29 L425.59 424.23 L425.97 424.18 L426.34 424.12 L426.72 424.07 L427.10 424.01 L427.47 423.96 L427.85 423.90 L428.22 423.85 L428.60 423.80 L428.98 423.74 L429.35 423.69 L429.73 423.63 L430.11 423.58 L430.48 423.52 L430.86 423.47 L431.24 423.41 L431.61 423.36 L431.99 423.30 L432.36 423.25 L432.74 423.19 L433.12 423.14 L433.49 423.08 L433.87 423.03 L434.25 422.97 L434.62 422.92 L435.00 422.86 L435.38 422.81 L435.75 422.75 L436.13 422.70 L436.50 422.65 L436.88 422.59 L437.26 422.54 L437.63 422.48 L438.01 422.43 L438.39 422.37 L438.76 422.32 L439.14 422.26 L439.52 422.21 L439.89 422.16 L440.27 422.10 L440.64 422.05 L441.02 421.99 L441.40 421.94 L441.77 421.89 L442.15 421.83 L442.53 421.78 L442.90 421.72 L443.28 421.67 L443.66 421.62 L444.03 421.56 L444.41 421.51 L444.79 421.46 L445.16 421.40 L445.54 421.35 L445.92 421.30 L446.29 421.24 L446.67 421.19 L447.05 421.14 L447.42 421.09 L447.80 421.03 L448.18 420.98 L448.55 420.93 L448.93 420.88 L449.31 420.82 L449.68 420.77 L450.06 420.72 L450.44 420.67 L450.81 420.62 L451.19 420.57 L451.57 420.51 L451.94 420.46 L452.32 420.41 L452.70 420.36 L453.07 420.31 L453.45 420.26 L453.83 420.21 L454.20 420.16 L454.58 420.11 L454.96 420.06 L455.34 420.01 L455.71 419.96 L456.09 419.91 L456.47 419.86 L456.84 419.81 L457.22 419.76 L457.60 419.71 L457.97 419.66 L458.35 419.61 L458.73 419.56 L459.11 419.51 L459.48 419.47 L459.86 419.42 L460.24 419.37 L460.62 419.32 L460.99 419.27 L461.37 419.23 L461.75 419.18 L462.13 419.13 L462.50 419.09 L462.88 419.04 L463.26 418.99 L463.63 418.95 L464.01 418.90 L464.39 418.85 L464.77 418.81 L465.15 418.76 L465.52 418.72 L465.90 418.67 L466.28 418.63 L466.66 418.58 L467.03 418.54 L467.41 418.49 L467.79 418.45 L468.17 418.40 L468.54 418.36 L468.92 418.32 L469.30 418.27 L469.68 418.23 L470.06 418.19 L470.43 418.14 L470.81 418.10 L471.19 418.06 L471.57 418.02 L471.95 417.98 L472.32 417.93 L472.70 417.89 L473.08 417.85 L473.46 417.81 L473.84 417.77 L474.21 417.73 L474.59 417.69 L474.97 417.65 L475.35 417.61 L475.73 417.57 L476.11 417.53 L476.48 417.49 L476.86 417.45 L477.24 417.41 L477.62 417.37 L478.00 417.33 L478.38 417.29 L478.75 417.26 L479.13 417.22 L479.51 417.18 L479.89 417.14 L480.27 417.11 L480.65 417.07 L481.03 417.03 L481.40 417.00 L481.78 416.96 L482.16 416.92 L482.54 416.89 L482.92 416.85 L483.30 416.82 L483.68 416.78 L484.06 416.75 L484.43 416.71 L484.81 416.68 L485.19 416.64 L485.57 416.61 L485.95 416.58 L486.33 416.54 L486.71 416.51 L487.09 416.48 L487.46 416.44 L487.84 416.41 L488.22 416.38 L488.60 416.35 L488.98 416.32 L489.36 416.28 L489.74 416.25" fill="none" stroke="#000" stroke-width="4.60" stroke-dasharray="3.078 2.478 3.078 8.033" stroke-dashoffset="0.15"/>
<path d="M495.43 415.82 L495.81 415.79 L496.19 415.76 L496.57 415.74 L496.95 415.71 L497.33 415.68 L497.70 415.66 L498.08 415.63 L498.46 415.61 L498.84 415.58 L499.22 415.56 L499.60 415.54 L499.98 415.51 L500.36 415.49 L500.74 415.46 L501.12 415.44 L501.50 415.42 L501.88 415.40 L502.26 415.37 L502.64 415.35 L503.02 415.33 L503.40 415.31 L503.78 415.29 L504.16 415.27 L504.54 415.25 L504.92 415.23 L505.30 415.21 L505.68 415.19 L506.06 415.17 L506.44 415.15 L506.82 415.14 L507.20 415.12 L507.58 415.10 L507.96 415.09 L508.34 415.07 L508.72 415.05 L509.10 415.04 L509.48 415.02 L509.86 415.01 L510.24 414.99 L510.62 414.98 L511.00 414.96 L511.38 414.95 L511.76 414.94 L512.14 414.93 L512.52 414.91 L512.90 414.90 L513.28 414.89 L513.66 414.88 L514.04 414.87 L514.42 414.86 L514.80 414.85 L515.18 414.84 L515.56 414.83 L515.94 414.82 L516.32 414.81 L516.70 414.81 L517.08 414.80 L517.46 414.79 L517.84 414.79 L518.22 414.78 L518.60 414.78 L518.98 414.77 L519.36 414.77 L519.74 414.76 L520.12 414.76 L520.50 414.76 L520.88 414.75 L521.26 414.75 L521.64 414.75 L522.02 414.75 L522.40 414.75 L522.78 414.75 L523.16 414.75 L523.54 414.75 L523.93 414.75 L524.31 414.75 L524.69 414.75 L525.07 414.75 L525.45 414.75 L525.83 414.75 L526.21 414.75 L526.59 414.75 L526.97 414.76 L527.35 414.76 L527.73 414.76 L528.11 414.77 L528.49 414.77 L528.87 414.77 L529.25 414.78 L529.63 414.78 L530.01 414.79 L530.39 414.79 L530.77 414.80 L531.15 414.80 L531.53 414.81 L531.91 414.81 L532.29 414.82 L532.67 414.82 L533.05 414.83 L533.43 414.84 L533.81 414.84 L534.19 414.85 L534.57 414.86 L534.95 414.86 L535.33 414.87 L535.71 414.88 L536.09 414.88 L536.48 414.89 L536.86 414.90 L537.24 414.91 L537.62 414.91 L538.00 414.92 L538.38 414.93 L538.76 414.94 L539.14 414.94 L539.52 414.95 L539.90 414.96 L540.28 414.97 L540.66 414.98" fill="none" stroke="#000" stroke-width="4.60" stroke-dasharray="2.8 1.45" stroke-dashoffset="0.15"/>
<path d="M940.10 279.60 L939.80 279.70 L939.50 279.79 L939.20 279.89 L938.89 279.98 L938.59 280.08 L938.29 280.17 L937.99 280.27 L937.69 280.36 L937.39 280.46 L937.08 280.55 L936.78 280.65 L936.48 280.74 L936.18 280.84 L935.88 280.93 L935.58 281.03 L935.27 281.12 L934.97 281.22 L934.67 281.31 L934.37 281.41 L934.07 281.50 L933.77 281.60 L933.46 281.69 L933.16 281.79 L932.86 281.88 L932.56 281.98 L932.26 282.07 L931.96 282.17 L931.65 282.26 L931.35 282.36 L931.05 282.45 L930.75 282.55 L930.45 282.64 L930.15 282.74 L929.85 282.83 L929.54 282.93 L929.24 283.02 L928.94 283.12 L928.64 283.21 L928.34 283.31 L928.04 283.40 L927.73 283.50 L927.43 283.59 L927.13 283.69 L926.83 283.78 L926.53 283.88 L926.23 283.97 L925.92 284.07 L925.62 284.16 L925.32 284.26 L925.02 284.35 L924.72 284.45 L924.42 284.54 L924.11 284.64 L923.81 284.73 L923.51 284.83 L923.21 284.92 L922.91 285.02 L922.61 285.11 L922.30 285.21 L922.00 285.30 L921.70 285.40 L921.40 285.49 L921.10 285.59 L920.80 285.68 L920.50 285.78 L920.19 285.87 L919.89 285.97 L919.59 286.06 L919.29 286.16 L918.99 286.25 L918.69 286.35 L918.38 286.44 L918.08 286.54 L917.78 286.63 L917.48 286.73 L917.18 286.82 L916.88 286.92 L916.57 287.01 L916.27 287.11 L915.97 287.20 L915.67 287.30 L915.37 287.39 L915.07 287.49 L914.76 287.58 L914.46 287.68 L914.16 287.77 L913.86 287.87 L913.56 287.96 L913.26 288.06 L912.95 288.15 L912.65 288.25 L912.35 288.34 L912.05 288.44 L911.75 288.53 L911.45 288.63 L911.15 288.72 L910.84 288.82 L910.54 288.91 L910.24 289.01 L909.94 289.10 L909.64 289.20 L909.34 289.29 L909.03 289.39 L908.73 289.48 L908.43 289.58 L908.13 289.67 L907.83 289.77 L907.53 289.86 L907.22 289.96 L906.92 290.05 L906.62 290.15 L906.32 290.24 L906.02 290.34 L905.72 290.43 L905.41 290.53 L905.11 290.62 L904.81 290.72 L904.51 290.81 L904.21 290.91 L903.91 291.00 L903.60 291.10 L903.30 291.19 L903.00 291.29 L902.70 291.38 L902.40 291.48 L902.10 291.57 L901.80 291.67 L901.49 291.76 L901.19 291.86 L900.89 291.95 L900.59 292.05 L900.29 292.14 L899.99 292.24 L899.68 292.33 L899.38 292.43 L899.08 292.52 L898.78 292.62 L898.48 292.71 L898.18 292.81 L897.87 292.90 L897.57 293.00 L897.27 293.09 L896.97 293.19 L896.67 293.28 L896.37 293.38 L896.06 293.47 L895.76 293.57 L895.46 293.66 L895.16 293.76 L894.86 293.85 L894.56 293.95 L894.26 294.04 L893.95 294.14 L893.65 294.23 L893.35 294.33 L893.05 294.43 L892.75 294.52 L892.45 294.62 L892.14 294.71 L891.84 294.81 L891.54 294.90 L891.24 295.00 L890.94 295.09 L890.64 295.19 L890.33 295.28 L890.03 295.38 L889.73 295.47 L889.43 295.57 L889.13 295.66 L888.83 295.76 L888.52 295.85 L888.22 295.95 L887.92 296.04 L887.62 296.14 L887.32 296.23 L887.02 296.33 L886.72 296.42 L886.41 296.52 L886.11 296.61 L885.81 296.71 L885.51 296.80 L885.21 296.90 L884.91 296.99 L884.60 297.09 L884.30 297.18 L884.00 297.28 L883.70 297.37 L883.40 297.47 L883.10 297.56 L882.79 297.66 L882.49 297.75 L882.19 297.85 L881.89 297.94 L881.59 298.04 L881.29 298.13 L880.98 298.23 L880.68 298.32 L880.38 298.42 L880.08 298.51 L879.78 298.61 L879.48 298.70 L879.18 298.80 L878.87 298.89 L878.57 298.99 L878.27 299.08 L877.97 299.18 L877.67 299.27 L877.37 299.37 L877.06 299.46 L876.76 299.56 L876.46 299.65 L876.16 299.75 L875.86 299.84 L875.56 299.94 L875.25 300.03 L874.95 300.13 L874.65 300.22 L874.35 300.32 L874.05 300.41 L873.75 300.51 L873.44 300.60 L873.14 300.70 L872.84 300.79 L872.54 300.89 L872.24 300.98 L871.94 301.08 L871.64 301.17 L871.33 301.27 L871.03 301.36 L870.73 301.46 L870.43 301.55 L870.13 301.65 L869.83 301.75 L869.52 301.84 L869.22 301.94 L868.92 302.03 L868.62 302.13 L868.32 302.22 L868.02 302.32 L867.71 302.41 L867.41 302.51 L867.11 302.60 L866.81 302.70 L866.51 302.79 L866.21 302.89 L865.91 302.98 L865.60 303.08 L865.30 303.17 L865.00 303.27 L864.70 303.36 L864.40 303.46 L864.10 303.55 L863.79 303.65 L863.49 303.74 L863.19 303.84 L862.89 303.93 L862.59 304.03 L862.29 304.12 L861.98 304.22 L861.68 304.31 L861.38 304.41 L861.08 304.50 L860.78 304.60 L860.48 304.69 L860.18 304.79 L859.87 304.88 L859.57 304.98 L859.27 305.07 L858.97 305.17 L858.67 305.26 L858.37 305.36 L858.06 305.45 L857.76 305.55 L857.46 305.64 L857.16 305.74 L856.86 305.83 L856.56 305.93 L856.25 306.02 L855.95 306.12 L855.65 306.21 L855.35 306.31 L855.05 306.40 L854.75 306.50 L854.45 306.59 L854.14 306.69 L853.84 306.78 L853.54 306.88 L853.24 306.97 L852.94 307.07 L852.64 307.16 L852.33 307.26 L852.03 307.35 L851.73 307.45 L851.43 307.55 L851.13 307.64 L850.83 307.74 L850.52 307.83 L850.22 307.93 L849.92 308.02 L849.62 308.12 L849.32 308.21 L849.02 308.31 L848.72 308.40 L848.41 308.50 L848.11 308.59 L847.81 308.69 L847.51 308.78 L847.21 308.88 L846.91 308.97 L846.60 309.07 L846.30 309.16 L846.00 309.26 L845.70 309.35 L845.40 309.45 L845.10 309.54 L844.79 309.64 L844.49 309.73 L844.19 309.83 L843.89 309.92 L843.59 310.02 L843.29 310.11 L842.98 310.21 L842.68 310.30 L842.38 310.40 L842.08 310.49 L841.78 310.59 L841.48 310.68 L841.18 310.78 L840.87 310.87 L840.57 310.97 L840.27 311.06 L839.97 311.16 L839.67 311.25 L839.37 311.35 L839.06 311.44 L838.76 311.54 L838.46 311.63 L838.16 311.73 L837.86 311.82 L837.56 311.92 L837.25 312.01 L836.95 312.11 L836.65 312.20 L836.35 312.30 L836.05 312.39 L835.75 312.49 L835.44 312.58 L835.14 312.68 L834.84 312.77 L834.54 312.87 L834.24 312.96 L833.94 313.06 L833.63 313.15 L833.33 313.25 L833.03 313.34 L832.73 313.44 L832.43 313.53 L832.13 313.63 L831.83 313.72 L831.52 313.82 L831.22 313.91 L830.92 314.01 L830.62 314.10 L830.32 314.20 L830.02 314.29 L829.71 314.39 L829.41 314.48 L829.11 314.58 L828.81 314.67 L828.51 314.77 L828.21 314.86 L827.90 314.96 L827.60 315.05 L827.30 315.15 L827.00 315.24 L826.70 315.34 L826.40 315.43 L826.09 315.53 L825.79 315.62 L825.49 315.71 L825.19 315.81 L824.89 315.90 L824.59 316.00 L824.28 316.09 L823.98 316.19 L823.68 316.28 L823.38 316.38 L823.08 316.47 L822.78 316.57 L822.47 316.66 L822.17 316.76 L821.87 316.85 L821.57 316.95 L821.27 317.04 L820.97 317.14 L820.66 317.23 L820.36 317.33 L820.06 317.42 L819.76 317.52 L819.46 317.61 L819.16 317.71 L818.85 317.80 L818.55 317.90 L818.25 317.99 L817.95 318.09 L817.65 318.18 L817.35 318.28 L817.04 318.37 L816.74 318.47 L816.44 318.56 L816.14 318.65 L815.84 318.75 L815.54 318.84 L815.23 318.94 L814.93 319.03 L814.63 319.13 L814.33 319.22 L814.03 319.32 L813.72 319.41 L813.42 319.51 L813.12 319.60 L812.82 319.70 L812.52 319.79 L812.22 319.89 L811.91 319.98 L811.61 320.08 L811.31 320.17 L811.01 320.27 L810.71 320.36 L810.41 320.46 L810.10 320.55 L809.80 320.64 L809.50 320.74 L809.20 320.83 L808.90 320.93 L808.60 321.02 L808.29 321.12 L807.99 321.21 L807.69 321.31 L807.39 321.40 L807.09 321.50 L806.78 321.59 L806.48 321.69 L806.18 321.78 L805.88 321.88 L805.58 321.97 L805.28 322.06 L804.97 322.16 L804.67 322.25 L804.37 322.35 L804.07 322.44 L803.77 322.54 L803.47 322.63 L803.16 322.73 L802.86 322.82 L802.56 322.92 L802.26 323.01 L801.96 323.11 L801.65 323.20 L801.35 323.29 L801.05 323.39 L800.75 323.48 L800.45 323.58 L800.15 323.67 L799.84 323.77 L799.54 323.86 L799.24 323.96 L798.94 324.05 L798.64 324.15 L798.34 324.24 L798.03 324.34 L797.73 324.43 L797.43 324.52 L797.13 324.62 L796.83 324.71 L796.52 324.81 L796.22 324.90 L795.92 325.00 L795.62 325.09 L795.32 325.19 L795.02 325.28 L794.71 325.38 L794.41 325.47 L794.11 325.57 L793.81 325.66 L793.51 325.76 L793.21 325.85 L792.90 325.95 L792.60 326.04 L792.30 326.14 L792.00 326.23 L791.70 326.33 L791.40 326.42 L791.09 326.52 L790.79 326.61 L790.49 326.71 L790.19 326.80 L789.89 326.90 L789.59 326.99 L789.28 327.09 L788.98 327.18 L788.68 327.28 L788.38 327.37 L788.08 327.47 L787.78 327.56 L787.47 327.66 L787.17 327.75 L786.87 327.85 L786.57 327.94 L786.27 328.04 L785.97 328.14 L785.67 328.23 L785.36 328.33 L785.06 328.42 L784.76 328.52 L784.46 328.61 L784.16 328.71 L783.86 328.80 L783.56 328.90 L783.25 329.00 L782.95 329.09 L782.65 329.19 L782.35 329.28 L782.05 329.38 L781.75 329.48 L781.45 329.57 L781.14 329.67 L780.84 329.76 L780.54 329.86 L780.24 329.96 L779.94 330.05 L779.64 330.15 L779.34 330.24 L779.04 330.34 L778.73 330.44 L778.43 330.53 L778.13 330.63 L777.83 330.73 L777.53 330.82 L777.23 330.92 L776.93 331.02 L776.63 331.11 L776.32 331.21 L776.02 331.31 L775.72 331.40 L775.42 331.50 L775.12 331.60 L774.82 331.69 L774.52 331.79 L774.22 331.89 L773.92 331.98 L773.62 332.08 L773.31 332.18 L773.01 332.28 L772.71 332.37 L772.41 332.47 L772.11 332.57 L771.81 332.66 L771.51 332.76 L771.21 332.86 L770.91 332.96 L770.61 333.05 L770.31 333.15 L770.01 333.25 L769.70 333.35 L769.40 333.45 L769.10 333.54 L768.80 333.64 L768.50 333.74 L768.20 333.84 L767.90 333.94 L767.60 334.03 L767.30 334.13 L767.00 334.23 L766.70 334.33 L766.40 334.43 L766.10 334.53 L765.80 334.63 L765.50 334.72 L765.20 334.82 L764.90 334.92 L764.60 335.02 L764.30 335.12 L763.99 335.22 L763.69 335.32 L763.39 335.42 L763.09 335.52 L762.79 335.62 L762.49 335.71 L762.19 335.81 L761.89 335.91 L761.59 336.01 L761.29 336.11 L760.99 336.21 L760.69 336.31 L760.39 336.41 L760.09 336.51 L759.79 336.61 L759.49 336.71 L759.19 336.81 L758.89 336.91 L758.59 337.01 L758.29 337.11 L757.99 337.21 L757.69 337.31 L757.39 337.42 L757.09 337.52 L756.79 337.62 L756.49 337.72 L756.20 337.82 L755.90 337.92 L755.60 338.02 L755.30 338.12 L755.00 338.22 L754.70 338.32 L754.40 338.43 L754.10 338.53 L753.80 338.63 L753.50 338.73 L753.20 338.83 L752.90 338.93 L752.60 339.04 L752.30 339.14 L752.00 339.24 L751.70 339.34 L751.40 339.45 L751.11 339.55 L750.81 339.65 L750.51 339.75 L750.21 339.86 L749.91 339.96 L749.61 340.06 L749.31 340.16 L749.01 340.27 L748.71 340.37 L748.41 340.47 L748.12 340.58 L747.82 340.68 L747.52 340.78 L747.22 340.89 L746.92 340.99 L746.62 341.10 L746.32 341.20 L746.02 341.30 L745.73 341.41 L745.43 341.51 L745.13 341.62 L744.83 341.72 L744.53 341.83 L744.23 341.93 L743.93 342.04 L743.64 342.14 L743.34 342.25 L743.04 342.35 L742.74 342.46 L742.44 342.56 L742.15 342.67 L741.85 342.77 L741.55 342.88 L741.25 342.98 L740.95 343.09 L740.65 343.20 L740.36 343.30 L740.06 343.41 L739.76 343.51 L739.46 343.62 L739.17 343.73 L738.87 343.83 L738.57 343.94 L738.27 344.05 L737.97 344.15 L737.68 344.26 L737.38 344.37 L737.08 344.47 L736.78 344.58 L736.49 344.69 L736.19 344.79 L735.89 344.90 L735.59 345.01 L735.30 345.11 L735.00 345.22 L734.70 345.33 L734.40 345.44 L734.11 345.54 L733.81 345.65 L733.51 345.76 L733.21 345.87 L732.92 345.97 L732.62 346.08 L732.32 346.19 L732.02 346.30 L731.73 346.41 L731.43 346.51 L731.13 346.62 L730.83 346.73 L730.54 346.84 L730.24 346.94 L729.94 347.05 L729.64 347.16 L729.35 347.27 L729.05 347.38 L728.75 347.48 L728.46 347.59 L728.16 347.70 L727.86 347.81 L727.56 347.92 L727.27 348.02 L726.97 348.13 L726.67 348.24 L726.37 348.35 L726.08 348.46 L725.78 348.57 L725.48 348.67 L725.19 348.78 L724.89 348.89 L724.59 349.00 L724.29 349.11 L724.00 349.21 L723.70 349.32 L723.40 349.43 L723.10 349.54 L722.81 349.64 L722.51 349.75 L722.21 349.86 L721.91 349.97 L721.62 350.08 L721.32 350.18 L721.02 350.29 L720.73 350.40 L720.43 350.51 L720.13 350.61 L719.83 350.72 L719.54 350.83 L719.24 350.94 L718.94 351.04 L718.64 351.15 L718.35 351.26 L718.05 351.37 L717.75 351.47 L717.45 351.58 L717.16 351.69 L716.86 351.79 L716.56 351.90 L716.26 352.01 L715.96 352.11 L715.67 352.22 L715.37 352.33 L715.07 352.43 L714.77 352.54 L714.48 352.65 L714.18 352.75 L713.88 352.86 L713.58 352.96 L713.28 353.07 L712.99 353.18 L712.69 353.28 L712.39 353.39 L712.09 353.49 L711.79 353.60 L711.50 353.70 L711.20 353.81 L710.90 353.92 L710.60 354.02 L710.30 354.13 L710.00 354.23 L709.71 354.34 L709.41 354.44 L709.11 354.54 L708.81 354.65 L708.51 354.75 L708.21 354.86 L707.92 354.96 L707.62 355.07 L707.32 355.17 L707.02 355.27 L706.72 355.38 L706.42 355.48 L706.12 355.58 L705.82 355.69 L705.53 355.79 L705.23 355.89 L704.93 355.99 L704.63 356.10 L704.33 356.20 L704.03 356.30 L703.73 356.40 L703.43 356.51 L703.13 356.61 L702.83 356.71 L702.53 356.81 L702.23 356.91 L701.93 357.01 L701.63 357.11 L701.34 357.22 L701.04 357.32 L700.74 357.42 L700.44 357.52 L700.14 357.62 L699.84 357.72 L699.54 357.82 L699.24 357.92 L698.94 358.02 L698.64 358.12 L698.34 358.21 L698.04 358.31 L697.73 358.41 L697.43 358.51 L697.13 358.61 L696.83 358.71 L696.53 358.80 L696.23 358.90 L695.93 359.00 L695.63 359.10 L695.33 359.19 L695.03 359.29 L694.73 359.39 L694.43 359.48 L694.13 359.58 L693.82 359.68 L693.52 359.77 L693.22 359.87 L692.92 359.96 L692.62 360.06 L692.32 360.15 L692.02 360.25 L691.71 360.34 L691.41 360.44 L691.11 360.53 L690.81 360.63 L690.51 360.72 L690.20 360.82 L689.90 360.91 L689.60 361.01 L689.30 361.10 L689.00 361.19 L688.70 361.29 L688.39 361.38 L688.09 361.48 L687.79 361.57 L687.49 361.66 L687.19 361.76 L686.88 361.85 L686.58 361.94 L686.28 362.04 L685.98 362.13 L685.68 362.23 L685.37 362.32 L685.07 362.41 L684.77 362.51 L684.47 362.60 L684.17 362.69 L683.86 362.79 L683.56 362.88 L683.26 362.98 L682.96 363.07 L682.66 363.17 L682.35 363.26 L682.05 363.35 L681.75 363.45 L681.45 363.54 L681.15 363.64 L680.85 363.73 L680.54 363.83 L680.24 363.92 L679.94 364.02 L679.64 364.11 L679.34 364.21 L679.04 364.31 L678.73 364.40 L678.43 364.50 L678.13 364.59 L677.83 364.69 L677.53 364.79 L677.23 364.88 L676.93 364.98 L676.63 365.08 L676.32 365.17 L676.02 365.27 L675.72 365.36 L675.42 365.46 L675.12 365.56 L674.82 365.65 L674.52 365.75 L674.22 365.85 L673.91 365.94 L673.61 366.04 L673.31 366.13 L673.01 366.23 L672.71 366.32 L672.41 366.42 L672.11 366.51 L671.80 366.61 L671.50 366.70 L671.20 366.80 L670.90 366.89 L670.60 366.99 L670.30 367.08 L669.99 367.17 L669.69 367.27 L669.39 367.36 L669.09 367.45 L668.78 367.54 L668.48 367.64 L668.18 367.73 L667.88 367.82 L667.57 367.91 L667.27 368.00 L666.97 368.09 L666.66 368.18 L666.36 368.27 L666.06 368.36 L665.76 368.46 L665.45 368.55 L665.15 368.64 L664.85 368.73 L664.55 368.82 L664.24 368.92 L663.94 369.01 L663.64 369.11 L663.34 369.20 L663.04 369.30 L662.73 369.39 L662.43 369.49 L662.13 369.58 L661.83 369.68 L661.53 369.78 L661.23 369.87 L660.93 369.97 L660.63 370.07 L660.32 370.17 L660.02 370.26 L659.72 370.36 L659.42 370.46 L659.12 370.55 L658.82 370.65 L658.52 370.75 L658.22 370.84 L657.91 370.94 L657.61 371.03 L657.31 371.12 L657.01 371.22 L656.71 371.31 L656.40 371.40 L656.10 371.49 L655.80 371.59 L655.49 371.67 L655.19 371.76 L654.89 371.85 L654.58 371.94 L654.28 372.03 L653.98 372.11 L653.67 372.19 L653.37 372.28 L653.06 372.36 L652.75 372.44 L652.45 372.52 L652.14 372.59 L651.84 372.67 L651.53 372.75 L651.22 372.82 L650.91 372.90 L650.61 372.97 L650.30 373.04 L649.99 373.11 L649.68 373.19 L649.37 373.26 L649.07 373.33 L648.76 373.40 L648.45 373.47 L648.14 373.54 L647.83 373.62 L647.53 373.69 L647.22 373.76 L646.91 373.83 L646.60 373.91 L646.29 373.98 L645.99 374.05 L645.68 374.13 L645.37 374.20 L645.06 374.27 L644.76 374.35 L644.45 374.42 L644.14 374.50 L643.83 374.57 L643.53 374.65 L643.22 374.72 L642.91 374.80 L642.60 374.87 L642.30 374.95 L641.99 375.02 L641.68 375.10 L641.37 375.18 L641.07 375.25 L640.76 375.33 L640.45 375.40 L640.15 375.48 L639.84 375.55 L639.53 375.63 L639.23 375.71 L638.92 375.78 L638.61 375.86 L638.31 375.93 L638.00 376.01 L637.69 376.08 L637.39 376.16 L637.08 376.23 L636.77 376.31 L636.47 376.38 L636.16 376.46 L635.85 376.53 L635.55 376.61 L635.24 376.68 L634.93 376.75 L634.62 376.83 L634.32 376.90 L634.01 376.97 L633.70 377.04 L633.39 377.11 L633.08 377.18 L632.77 377.25 L632.46 377.32 L632.15 377.39 L631.84 377.45 L631.53 377.52 L631.22 377.58 L630.91 377.65 L630.59 377.71 L630.28 377.77 L629.96 377.82 L629.65 377.88 L629.33 377.94 L629.02 377.99 L628.70 378.04 L628.38 378.09 L628.07 378.13 L627.75 378.18 L627.43 378.22 L627.11 378.26 L626.80 378.30 L626.48 378.33 L626.16 378.36 L625.84 378.39 L625.53 378.42 L625.21 378.44 L624.89 378.46 L624.58 378.48 L624.26 378.49 L623.94 378.50 L623.62 378.51 L623.31 378.51 L622.99 378.51 L622.68 378.50 L622.36 378.50 L622.05 378.48 L621.73 378.47 L621.42 378.45 L621.11 378.42 L620.79 378.39 L620.48 378.36 L620.17 378.32 L619.86 378.28 L619.55 378.23 L619.24 378.18 L618.93 378.13 L618.62 378.07 L618.31 378.00 L618.01 377.93 L617.70 377.86 L617.39 377.79 L617.08 377.71 L616.78 377.63 L616.47 377.54 L616.17 377.46 L615.86 377.37 L615.55 377.27 L615.25 377.18 L614.94 377.08 L614.63 376.98 L614.33 376.88 L614.02 376.77 L613.71 376.67 L613.41 376.56 L613.10 376.45 L612.80 376.33 L612.50 376.21 L612.19 376.09 L611.89 375.97 L611.59 375.84 L611.30 375.72 L611.00 375.58 L610.71 375.45 L610.41 375.31 L610.12 375.16 L609.84 375.02 L609.55 374.87 L609.27 374.71 L608.99 374.56 L608.71 374.40 L608.44 374.23 L608.17 374.06 L607.90 373.89 L607.64 373.71 L607.38 373.53 L607.13 373.34 L606.88 373.15 L606.63 372.95 L606.39 372.75 L606.15 372.55 L605.92 372.34 L605.69 372.12 L605.47 371.90 L605.25 371.68 L605.04 371.45 L604.84 371.21 L604.64 370.97 L604.44 370.73 L604.25 370.48 L604.06 370.22 L603.88 369.97 L603.70 369.71 L603.52 369.44 L603.35 369.18 L603.18 368.91 L603.01 368.64 L602.85 368.36 L602.68 368.09 L602.52 367.82 L602.36 367.54 L602.20 367.27 L602.04 366.99 L601.88 366.72 L601.71 366.44 L601.55 366.17 L601.39 365.89 L601.23 365.62 L601.07 365.35 L600.91 365.07 L600.75 364.80 L600.59 364.53 L600.43 364.25 L600.27 363.98 L600.10 363.71 L599.94 363.44 L599.78 363.17 L599.62 362.89 L599.46 362.62 L599.30 362.35 L599.13 362.08 L598.97 361.81 L598.81 361.54 L598.65 361.27 L598.49 361.00 L598.32 360.73 L598.16 360.46 L598.00 360.19 L597.83 359.92 L597.67 359.65 L597.50 359.38 L597.34 359.11 L597.18 358.84 L597.01 358.57 L596.85 358.30 L596.68 358.04 L596.51 357.77 L596.35 357.50 L596.18 357.23 L596.01 356.96 L595.85 356.69 L595.68 356.42 L595.51 356.16 L595.34 355.89 L595.18 355.62 L595.01 355.35 L594.85 355.08 L594.68 354.81 L594.52 354.53 L594.36 354.26 L594.20 353.99 L594.05 353.71 L593.89 353.44 L593.74 353.16 L593.59 352.88 L593.44 352.60 L593.30 352.32 L593.16 352.04 L593.02 351.76 L592.89 351.47 L592.75 351.19 L592.62 350.90 L592.49 350.61 L592.37 350.32 L592.24 350.03 L592.12 349.74 L592.00 349.45 L591.88 349.16 L591.76 348.86 L591.64 348.57 L591.53 348.27 L591.41 347.98 L591.30 347.68 L591.19 347.39 L591.08 347.09 L590.97 346.79 L590.86 346.49 L590.75 346.20 L590.65 345.90 L590.54 345.60 L590.43 345.30 L590.33 345.00 L590.22 344.70 L590.12 344.40 L590.01 344.10 L589.91 343.80 L589.80 343.50 L589.69 343.20 L589.59 342.91 L589.48 342.61 L589.38 342.31 L589.27 342.01 L589.16 341.71 L589.05 341.42 L588.94 341.12 L588.83 340.82 L588.72 340.52 L588.61 340.23 L588.50 339.93 L588.39 339.64 L588.28 339.34 L588.17 339.04 L588.06 338.75 L587.95 338.45 L587.84 338.15 L587.74 337.86 L587.63 337.56 L587.52 337.26 L587.42 336.96 L587.31 336.67 L587.21 336.37 L587.11 336.07 L587.00 335.77 L586.90 335.47 L586.80 335.17 L586.70 334.87 L586.60 334.57 L586.50 334.27 L586.41 333.97 L586.31 333.67 L586.21 333.37 L586.12 333.07 L586.02 332.77 L585.93 332.46 L585.83 332.16 L585.74 331.86 L585.64 331.56 L585.55 331.26 L585.46 330.96 L585.36 330.65 L585.27 330.35 L585.18 330.05 L585.09 329.74 L584.99 329.44 L584.90 329.14 L584.81 328.84 L584.72 328.53 L584.63 328.23 L584.53 327.93 L584.44 327.62 L584.35 327.32 L584.26 327.02 L584.17 326.72 L584.07 326.41 L583.98 326.11 L583.89 325.81 L583.80 325.50 L583.70 325.20 L583.61 324.90 L583.52 324.59 L583.43 324.29 L583.35 323.99 L583.26 323.68 L583.17 323.38 L583.09 323.07 L583.01 322.77 L582.93 322.46 L582.85 322.15 L582.78 321.85 L582.71 321.54 L582.64 321.23 L582.58 320.92 L582.51 320.61 L582.45 320.30 L582.39 319.99 L582.34 319.68 L582.29 319.37 L582.24 319.06 L582.19 318.75 L582.14 318.44 L582.09 318.12 L582.05 317.81 L582.01 317.50 L581.97 317.18 L581.93 316.87 L581.89 316.56 L581.85 316.24 L581.82 315.93 L581.78 315.61 L581.74 315.30 L581.71 314.98 L581.68 314.67 L581.64 314.35 L581.61 314.04 L581.57 313.72 L581.54 313.41 L581.51 313.09 L581.47 312.78 L581.44 312.46 L581.40 312.15 L581.36 311.83 L581.33 311.52 L581.29 311.20 L581.25 310.89 L581.21 310.57 L581.17 310.26 L581.12 309.95 L581.08 309.63 L581.04 309.32 L580.99 309.01 L580.94 308.69 L580.90 308.38 L580.85 308.07 L580.80 307.76 L580.75 307.44 L580.71 307.13 L580.66 306.82 L580.61 306.51 L580.57 306.19 L580.52 305.88 L580.48 305.57 L580.43 305.25 L580.39 304.94 L580.35 304.63 L580.31 304.31 L580.27 304.00 L580.24 303.69 L580.20 303.37 L580.17 303.06 L580.13 302.74 L580.10 302.43 L580.07 302.12 L580.04 301.80 L580.01 301.49 L579.98 301.17 L579.95 300.86 L579.92 300.54 L579.89 300.23 L579.86 299.91 L579.83 299.60 L579.81 299.28 L579.78 298.97 L579.75 298.65 L579.72 298.34 L579.69 298.02 L579.67 297.71 L579.64 297.39 L579.61 297.08 L579.58 296.76 L579.55 296.45 L579.52 296.13 L579.49 295.82 L579.46 295.50 L579.43 295.19 L579.40 294.87 L579.36 294.56 L579.33 294.24 L579.29 293.93 L579.26 293.61 L579.22 293.30 L579.18 292.99 L579.14 292.67 L579.10 292.36 L579.06 292.05 L579.02 291.73 L578.98 291.42 L578.94 291.10 L578.89 290.79 L578.85 290.48 L578.81 290.16 L578.77 289.85 L578.72 289.54 L578.68 289.22 L578.64 288.91 L578.60 288.60 L578.56 288.28 L578.52 287.97 L578.48 287.66 L578.44 287.34 L578.40 287.03 L578.36 286.71 L578.32 286.40 L578.29 286.09 L578.25 285.77 L578.21 285.46 L578.18 285.14 L578.14 284.83 L578.10 284.52 L578.07 284.20 L578.03 283.89 L578.00 283.57 L577.97 283.26 L577.93 282.94 L577.90 282.63 L577.87 282.31 L577.83 282.00 L577.80 281.69 L577.77 281.37 L577.74 281.06 L577.71 280.74 L577.68 280.43 L577.65 280.11 L577.62 279.80 L577.59 279.48 L577.56 279.17 L577.53 278.85 L577.50 278.54 L577.47 278.22 L577.44 277.91 L577.42 277.59 L577.39 277.28 L577.36 276.96 L577.34 276.65 L577.31 276.33 L577.28 276.02 L577.26 275.70 L577.23 275.39 L577.20 275.07 L577.18 274.76 L577.15 274.44 L577.13 274.13 L577.10 273.81 L577.07 273.50 L577.05 273.18 L577.02 272.87 L577.00 272.55 L576.97 272.24 L576.94 271.92 L576.92 271.61 L576.89 271.29 L576.86 270.97 L576.84 270.66 L576.81 270.34 L576.78 270.03 L576.75 269.71 L576.72 269.40 L576.70 269.08 L576.67 268.77 L576.64 268.45 L576.61 268.14 L576.58 267.82 L576.54 267.51 L576.51 267.19 L576.48 266.88 L576.45 266.57 L576.41 266.25 L576.38 265.94 L576.35 265.62 L576.31 265.31 L576.27 264.99 L576.24 264.68 L576.20 264.37 L576.16 264.05 L576.12 263.74 L576.08 263.42 L576.04 263.11 L576.00 262.80 L575.96 262.48 L575.92 262.17 L575.87 261.86 L575.83 261.54 L575.78 261.23 L575.73 260.92 L575.69 260.61 L575.64 260.29 L575.59 259.98 L575.54 259.67 L575.48 259.36 L575.43 259.05 L575.38 258.73 L575.32 258.42 L575.27 258.11 L575.21 257.80 L575.16 257.49 L575.10 257.18 L575.04 256.87 L574.99 256.56 L574.93 256.24 L574.87 255.93 L574.82 255.62 L574.76 255.31 L574.70 255.00" fill="none" stroke="#000" stroke-width="4.60" stroke-dasharray="3.078 2.478 3.078 8.033" stroke-dashoffset="0.15"/>
<path d="M163.40 529.90 L202.24 529.90 L241.07 529.90 L279.90 529.90 L318.74 529.90 L357.58 529.80 L396.41 529.30 L435.25 527.90 L474.08 525.10 L505.15 520.00 L512.92 518.00 L520.68 516.00 L528.45 513.00 L536.22 510.00 L543.98 506.20" fill="none" stroke="#ff0000" stroke-width="4.60" stroke-dasharray="8.633 2.478 1.689 2.478" stroke-dashoffset="0.15"/>
<path d="M435.25 531.20 L435.25 524.60" stroke="#ff0000" stroke-width="1.5" stroke-dasharray="8.333 2.778 1.389 2.778" fill="none"/>
<path d="M431.05 524.60 h8.4 M431.05 531.20 h8.4" stroke="#ff0000" stroke-width="1.5" fill="none"/>
<path d="M474.08 529.60 L474.08 520.60" stroke="#ff0000" stroke-width="1.5" stroke-dasharray="8.333 2.778 1.389 2.778" fill="none"/>
<path d="M469.88 520.60 h8.4 M469.88 529.60 h8.4" stroke="#ff0000" stroke-width="1.5" fill="none"/>
<path d="M505.15 526.00 L505.15 514.00" stroke="#ff0000" stroke-width="1.5" stroke-dasharray="8.333 2.778 1.389 2.778" fill="none"/>
<path d="M500.95 514.00 h8.4 M500.95 526.00 h8.4" stroke="#ff0000" stroke-width="1.5" fill="none"/>
<path d="M512.92 524.70 L512.92 511.30" stroke="#ff0000" stroke-width="1.5" stroke-dasharray="8.333 2.778 1.389 2.778" fill="none"/>
<path d="M508.72 511.30 h8.4 M508.72 524.70 h8.4" stroke="#ff0000" stroke-width="1.5" fill="none"/>
<path d="M520.68 524.90 L520.68 507.10" stroke="#ff0000" stroke-width="1.5" stroke-dasharray="8.333 2.778 1.389 2.778" fill="none"/>
<path d="M516.48 507.10 h8.4 M516.48 524.90 h8.4" stroke="#ff0000" stroke-width="1.5" fill="none"/>
<path d="M528.45 521.20 L528.45 504.80" stroke="#ff0000" stroke-width="1.5" stroke-dasharray="8.333 2.778 1.389 2.778" fill="none"/>
<path d="M524.25 504.80 h8.4 M524.25 521.20 h8.4" stroke="#ff0000" stroke-width="1.5" fill="none"/>
<path d="M536.22 519.00 L536.22 501.00" stroke="#ff0000" stroke-width="1.5" stroke-dasharray="8.333 2.778 1.389 2.778" fill="none"/>
<path d="M532.02 501.00 h8.4 M532.02 519.00 h8.4" stroke="#ff0000" stroke-width="1.5" fill="none"/>
<path d="M543.98 515.70 L543.98 496.70" stroke="#ff0000" stroke-width="1.5" stroke-dasharray="8.333 2.778 1.389 2.778" fill="none"/>
<path d="M539.78 496.70 h8.4 M539.78 515.70 h8.4" stroke="#ff0000" stroke-width="1.5" fill="none"/>
<circle cx="163.40" cy="529.90" r="2.6" fill="none" stroke="#ff0000" stroke-width="1.4"/>
<circle cx="202.24" cy="529.90" r="2.6" fill="none" stroke="#ff0000" stroke-width="1.4"/>
<circle cx="241.07" cy="529.90" r="2.6" fill="none" stroke="#ff0000" stroke-width="1.4"/>
<circle cx="279.90" cy="529.90" r="2.6" fill="none" stroke="#ff0000" stroke-width="1.4"/>
<circle cx="318.74" cy="529.90" r="2.6" fill="none" stroke="#ff0000" stroke-width="1.4"/>
<circle cx="357.58" cy="529.80" r="2.6" fill="none" stroke="#ff0000" stroke-width="1.4"/>
<circle cx="396.41" cy="529.30" r="2.6" fill="none" stroke="#ff0000" stroke-width="1.4"/>
<circle cx="435.25" cy="527.90" r="2.6" fill="none" stroke="#ff0000" stroke-width="1.4"/>
<circle cx="474.08" cy="525.10" r="2.6" fill="none" stroke="#ff0000" stroke-width="1.4"/>
<circle cx="505.15" cy="520.00" r="2.6" fill="none" stroke="#ff0000" stroke-width="1.4"/>
<circle cx="512.92" cy="518.00" r="2.6" fill="none" stroke="#ff0000" stroke-width="1.4"/>
<circle cx="520.68" cy="516.00" r="2.6" fill="none" stroke="#ff0000" stroke-width="1.4"/>
<circle cx="528.45" cy="513.00" r="2.6" fill="none" stroke="#ff0000" stroke-width="1.4"/>
<circle cx="536.22" cy="510.00" r="2.6" fill="none" stroke="#ff0000" stroke-width="1.4"/>
<circle cx="543.98" cy="506.20" r="2.6" fill="none" stroke="#ff0000" stroke-width="1.4"/>
<path d="M940.10 426.80 L901.26 435.20 L862.43 445.00 L823.60 455.60 L784.76 467.60 L745.93 481.40 L707.09 497.90 L699.32 501.70 L691.56 505.40 L683.79 509.00 L676.02 513.10 L668.26 516.40 L660.49 519.70 L652.72 522.90 L644.95 525.70 L637.19 526.90 L629.42 526.00 L621.65 518.30 L613.89 502.10 L606.12 466.90 L598.35 404.50" fill="none" stroke="#ff0000" stroke-width="4.60" stroke-dasharray="8.633 2.478 1.689 2.478" stroke-dashoffset="0.15"/>
<path d="M598.35 473.00 L598.35 336.00" stroke="#ff0000" stroke-width="1.5" stroke-dasharray="8.333 2.778 1.389 2.778" fill="none"/>
<path d="M594.15 336.00 h8.4 M594.15 473.00 h8.4" stroke="#ff0000" stroke-width="1.5" fill="none"/>
<path d="M606.12 513.90 L606.12 419.90" stroke="#ff0000" stroke-width="1.5" stroke-dasharray="8.333 2.778 1.389 2.778" fill="none"/>
<path d="M601.92 419.90 h8.4 M601.92 513.90 h8.4" stroke="#ff0000" stroke-width="1.5" fill="none"/>
<path d="M613.89 537.10 L613.89 467.10" stroke="#ff0000" stroke-width="1.5" stroke-dasharray="8.333 2.778 1.389 2.778" fill="none"/>
<path d="M609.69 467.10 h8.4 M609.69 537.10 h8.4" stroke="#ff0000" stroke-width="1.5" fill="none"/>
<path d="M621.65 546.10 L621.65 490.50" stroke="#ff0000" stroke-width="1.5" stroke-dasharray="8.333 2.778 1.389 2.778" fill="none"/>
<path d="M617.45 490.50 h8.4 M617.45 546.10 h8.4" stroke="#ff0000" stroke-width="1.5" fill="none"/>
<path d="M629.42 548.90 L629.42 503.10" stroke="#ff0000" stroke-width="1.5" stroke-dasharray="8.333 2.778 1.389 2.778" fill="none"/>
<path d="M625.22 503.10 h8.4 M625.22 548.90 h8.4" stroke="#ff0000" stroke-width="1.5" fill="none"/>
<path d="M637.19 546.20 L637.19 507.60" stroke="#ff0000" stroke-width="1.5" stroke-dasharray="8.333 2.778 1.389 2.778" fill="none"/>
<path d="M632.99 507.60 h8.4 M632.99 546.20 h8.4" stroke="#ff0000" stroke-width="1.5" fill="none"/>
<path d="M644.95 540.90 L644.95 510.50" stroke="#ff0000" stroke-width="1.5" stroke-dasharray="8.333 2.778 1.389 2.778" fill="none"/>
<path d="M640.75 510.50 h8.4 M640.75 540.90 h8.4" stroke="#ff0000" stroke-width="1.5" fill="none"/>
<path d="M652.72 534.00 L652.72 511.80" stroke="#ff0000" stroke-width="1.5" stroke-dasharray="8.333 2.778 1.389 2.778" fill="none"/>
<path d="M648.52 511.80 h8.4 M648.52 534.00 h8.4" stroke="#ff0000" stroke-width="1.5" fill="none"/>
<path d="M660.49 525.70 L660.49 513.70" stroke="#ff0000" stroke-width="1.5" stroke-dasharray="8.333 2.778 1.389 2.778" fill="none"/>
<path d="M656.29 513.70 h8.4 M656.29 525.70 h8.4" stroke="#ff0000" stroke-width="1.5" fill="none"/>
<path d="M668.26 518.40 L668.26 514.40" stroke="#ff0000" stroke-width="1.5" stroke-dasharray="8.333 2.778 1.389 2.778" fill="none"/>
<path d="M664.06 514.40 h8.4 M664.06 518.40 h8.4" stroke="#ff0000" stroke-width="1.5" fill="none"/>
<path d="M676.02 516.90 L676.02 509.30" stroke="#ff0000" stroke-width="1.5" stroke-dasharray="8.333 2.778 1.389 2.778" fill="none"/>
<path d="M671.82 509.30 h8.4 M671.82 516.90 h8.4" stroke="#ff0000" stroke-width="1.5" fill="none"/>
<path d="M683.79 517.50 L683.79 500.50" stroke="#ff0000" stroke-width="1.5" stroke-dasharray="8.333 2.778 1.389 2.778" fill="none"/>
<path d="M679.59 500.50 h8.4 M679.59 517.50 h8.4" stroke="#ff0000" stroke-width="1.5" fill="none"/>
<path d="M691.56 519.30 L691.56 491.50" stroke="#ff0000" stroke-width="1.5" stroke-dasharray="8.333 2.778 1.389 2.778" fill="none"/>
<path d="M687.36 491.50 h8.4 M687.36 519.30 h8.4" stroke="#ff0000" stroke-width="1.5" fill="none"/>
<path d="M699.32 520.90 L699.32 482.50" stroke="#ff0000" stroke-width="1.5" stroke-dasharray="8.333 2.778 1.389 2.778" fill="none"/>
<path d="M695.12 482.50 h8.4 M695.12 520.90 h8.4" stroke="#ff0000" stroke-width="1.5" fill="none"/>
<path d="M707.09 522.00 L707.09 473.80" stroke="#ff0000" stroke-width="1.5" stroke-dasharray="8.333 2.778 1.389 2.778" fill="none"/>
<path d="M702.89 473.80 h8.4 M702.89 522.00 h8.4" stroke="#ff0000" stroke-width="1.5" fill="none"/>
<path d="M745.93 530.90 L745.93 431.90" stroke="#ff0000" stroke-width="1.5" stroke-dasharray="8.333 2.778 1.389 2.778" fill="none"/>
<path d="M741.73 431.90 h8.4 M741.73 530.90 h8.4" stroke="#ff0000" stroke-width="1.5" fill="none"/>
<path d="M784.76 541.10 L784.76 394.10" stroke="#ff0000" stroke-width="1.5" stroke-dasharray="8.333 2.778 1.389 2.778" fill="none"/>
<path d="M780.56 394.10 h8.4 M780.56 541.10 h8.4" stroke="#ff0000" stroke-width="1.5" fill="none"/>
<path d="M823.60 550.10 L823.60 361.10" stroke="#ff0000" stroke-width="1.5" stroke-dasharray="8.333 2.778 1.389 2.778" fill="none"/>
<path d="M819.39 361.10 h8.4 M819.39 550.10 h8.4" stroke="#ff0000" stroke-width="1.5" fill="none"/>
<path d="M862.43 560.00 L862.43 330.00" stroke="#ff0000" stroke-width="1.5" stroke-dasharray="8.333 2.778 1.389 2.778" fill="none"/>
<path d="M858.23 330.00 h8.4 M858.23 560.00 h8.4" stroke="#ff0000" stroke-width="1.5" fill="none"/>
<path d="M901.26 568.40 L901.26 302.00" stroke="#ff0000" stroke-width="1.5" stroke-dasharray="8.333 2.778 1.389 2.778" fill="none"/>
<path d="M897.06 302.00 h8.4 M897.06 568.40 h8.4" stroke="#ff0000" stroke-width="1.5" fill="none"/>
<path d="M940.10 577.10 L940.10 276.50" stroke="#ff0000" stroke-width="1.5" stroke-dasharray="8.333 2.778 1.389 2.778" fill="none"/>
<path d="M935.90 276.50 h8.4 M935.90 577.10 h8.4" stroke="#ff0000" stroke-width="1.5" fill="none"/>
<circle cx="598.35" cy="404.50" r="2.6" fill="none" stroke="#ff0000" stroke-width="1.4"/>
<circle cx="606.12" cy="466.90" r="2.6" fill="none" stroke="#ff0000" stroke-width="1.4"/>
<circle cx="613.89" cy="502.10" r="2.6" fill="none" stroke="#ff0000" stroke-width="1.4"/>
<circle cx="621.65" cy="518.30" r="2.6" fill="none" stroke="#ff0000" stroke-width="1.4"/>
<circle cx="629.42" cy="526.00" r="2.6" fill="none" stroke="#ff0000" stroke-width="1.4"/>
<circle cx="637.19" cy="526.90" r="2.6" fill="none" stroke="#ff0000" stroke-width="1.4"/>
<circle cx="644.95" cy="525.70" r="2.6" fill="none" stroke="#ff0000" stroke-width="1.4"/>
<circle cx="652.72" cy="522.90" r="2.6" fill="none" stroke="#ff0000" stroke-width="1.4"/>
<circle cx="660.49" cy="519.70" r="2.6" fill="none" stroke="#ff0000" stroke-width="1.4"/>
<circle cx="668.26" cy="516.40" r="2.6" fill="none" stroke="#ff0000" stroke-width="1.4"/>
<circle cx="676.02" cy="513.10" r="2.6" fill="none" stroke="#ff0000" stroke-width="1.4"/>
<circle cx="683.79" cy="509.00" r="2.6" fill="none" stroke="#ff0000" stroke-width="1.4"/>
<circle cx="691.56" cy="505.40" r="2.6" fill="none" stroke="#ff0000" stroke-width="1.4"/>
<circle cx="699.32" cy="501.70" r="2.6" fill="none" stroke="#ff0000" stroke-width="1.4"/>
<circle cx="707.09" cy="497.90" r="2.6" fill="none" stroke="#ff0000" stroke-width="1.4"/>
<circle cx="745.93" cy="481.40" r="2.6" fill="none" stroke="#ff0000" stroke-width="1.4"/>
<circle cx="784.76" cy="467.60" r="2.6" fill="none" stroke="#ff0000" stroke-width="1.4"/>
<circle cx="823.60" cy="455.60" r="2.6" fill="none" stroke="#ff0000" stroke-width="1.4"/>
<circle cx="862.43" cy="445.00" r="2.6" fill="none" stroke="#ff0000" stroke-width="1.4"/>
<circle cx="901.26" cy="435.20" r="2.6" fill="none" stroke="#ff0000" stroke-width="1.4"/>
<circle cx="940.10" cy="426.80" r="2.6" fill="none" stroke="#ff0000" stroke-width="1.4"/>
<line x1="326.2" y1="154.7" x2="414.9" y2="154.7" stroke="#1e90ff" stroke-width="4.60" stroke-dasharray="4.467 3.867 1.689 3.867" stroke-dashoffset="0.15"/>
<text x="306.5" y="165.4" text-anchor="end" class="t">LSUB6</text>
<line x1="326.2" y1="188.1" x2="414.9" y2="188.1" stroke="#ff00ff" stroke-width="4.60" stroke-dasharray="1.689 1.783" stroke-dashoffset="0.15"/>
<text x="306.5" y="198.8" text-anchor="end" class="t">LSUB8</text>
<line x1="326.2" y1="221.3" x2="414.9" y2="221.3" stroke="#2e8b57" stroke-width="4.60" stroke-dasharray="1.689 2.478 8.633 2.478 1.689 2.478" stroke-dashoffset="0.15"/>
<line x1="326.2" y1="221.3" x2="414.9" y2="221.3" stroke="#e9967a" stroke-width="0.5" stroke-opacity="0.45"/>
<text x="306.5" y="232.0" text-anchor="end" class="t">LSUB10</text>
<line x1="326.2" y1="254.5" x2="414.9" y2="254.5" stroke="#000" stroke-width="4.60" stroke-dasharray="3.078 2.478 3.078 8.033" stroke-dashoffset="0.15"/>
<text x="306.5" y="265.2" text-anchor="end" class="t">LSUB12</text>
<line x1="326.2" y1="287.7" x2="414.9" y2="287.7" stroke="#ff0000" stroke-width="4.60" stroke-dasharray="8.633 2.478 1.689 2.478" stroke-dashoffset="0.15"/>
<text x="306.5" y="298.4" text-anchor="end" class="t">LSUB∞</text>
<rect x="163.4" y="40.3" width="776.7" height="552.5" fill="none" stroke="#000" stroke-width="1.75"/>
<text x="143.2" y="539.2" text-anchor="end" class="t">0</text>
<text x="143.2" y="376.6" text-anchor="end" class="t">0.5</text>
<text x="143.2" y="213.9" text-anchor="end" class="t">1</text>
<text x="143.2" y="51.3" text-anchor="end" class="t">1.5</text>
<text x="167.4" y="638.2" text-anchor="middle" class="t">0</text>
<text x="322.7" y="638.2" text-anchor="middle" class="t">0.2</text>
<text x="478.1" y="638.2" text-anchor="middle" class="t">0.4</text>
<text x="633.4" y="638.2" text-anchor="middle" class="t">0.6</text>
<text x="788.8" y="638.2" text-anchor="middle" class="t">0.8</text>
<text x="944.1" y="638.2" text-anchor="middle" class="t">1</text>
<text transform="translate(201.60 80.50) scale(1.030 1)" class="t b">N</text>
<text transform="translate(227.30 80.50) scale(1.260 1)" class="t b">e</text>
<text transform="translate(246.20 80.50) scale(1.140 1)" class="t b">e</text>
<text transform="translate(261.40 80.50) scale(1.000 1)" class="t b">l</text>
<path d="M234.3 64.2 L239.9 59.3" stroke="#0000ff" stroke-width="1.7" fill="none"/>
<text x="753.0" y="80.3" class="t b">striped</text>
<g role="img" aria-label="κ">
<path d="M546.1 673.1 L551.9 671.1 L549.3 687.8 L546.1 687.8 L548.9 673.3 L546.2 673.9 Z" fill="#000"/>
<path d="M550.9 678.7 L554.0 676.3 L560.2 686.7 L561.2 687.2 L561.2 687.8 L553.3 687.8 L553.3 687.2 L556.2 686.8 Z" fill="#000"/>
<path d="M550.2 678.8 Q556.0 673.6 561.6 671.5" fill="none" stroke="#000" stroke-width="1.2"/>
<circle cx="561.7" cy="672.9" r="1.7" fill="#000"/>
</g>
<g role="img" aria-label="Δ"><path d="M15.2 312.5 L37.9 306.7 L37.9 326.6 Z M20.6 314.2 L36.2 324.0 L36.2 310.6 Z" fill="#000" fill-rule="evenodd"/></g>
</svg>
</body></html>
